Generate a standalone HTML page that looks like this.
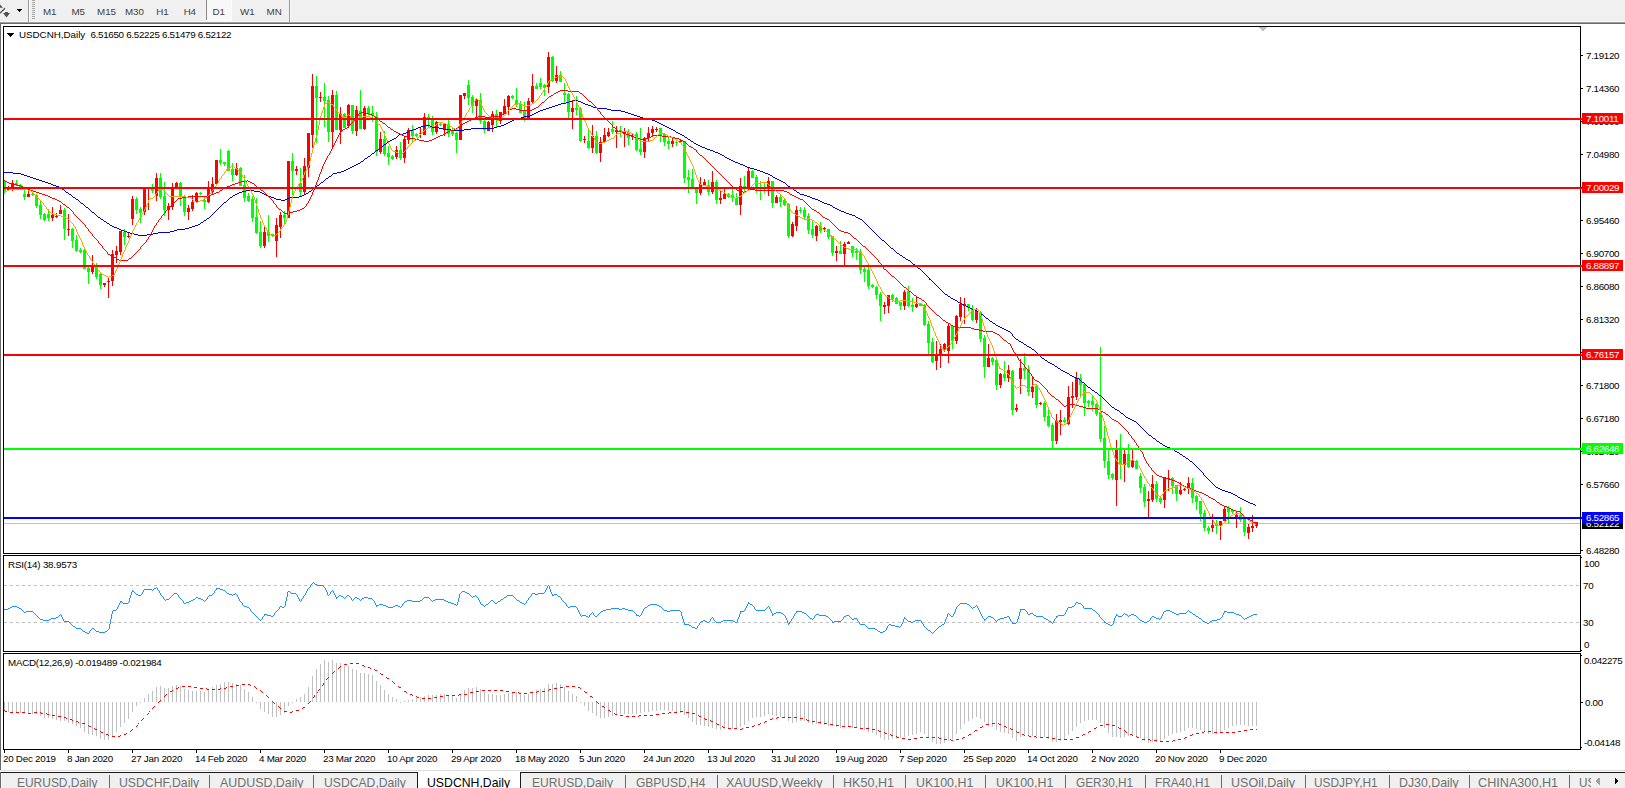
<!DOCTYPE html>
<html><head><meta charset="utf-8"><title>USDCNH,Daily</title>
<style>
html,body{margin:0;padding:0;background:#fff;width:1625px;height:788px;overflow:hidden;}
#root{position:absolute;left:0;top:0;width:1625px;height:788px;overflow:hidden;}
body{width:1625px;height:788px;position:relative;overflow:hidden;font-family:"Liberation Sans",sans-serif;}
.t{position:absolute;white-space:nowrap;font-size:9.8px;line-height:10px;letter-spacing:-0.2px;color:#000;}
.tb{position:absolute;white-space:nowrap;font-size:9.8px;line-height:10px;letter-spacing:-0.1px;color:#404040;top:7px;transform:translateX(-50%);}
.ax{position:absolute;white-space:nowrap;font-size:9.8px;line-height:10px;letter-spacing:-0.32px;color:#000;}
.tag{position:absolute;left:1582px;width:41px;height:11px;}
.tag span{position:absolute;left:4px;top:1px;font-size:9.8px;line-height:10px;letter-spacing:-0.32px;color:#fff;white-space:nowrap;}
.dt{position:absolute;top:754px;white-space:nowrap;font-size:9.8px;line-height:10px;letter-spacing:-0.25px;color:#000;}
.tab{position:absolute;top:776px;white-space:nowrap;font-size:12.6px;line-height:14px;color:#6e6e6e;transform:scaleX(0.93);transform-origin:0 0;}
.sep{position:absolute;top:775px;width:1px;height:13px;background:#6a6a6a;}
svg{position:absolute;left:0;top:0;}
</style></head><body><div id="root">
<div style="position:absolute;left:0;top:0;width:1625px;height:22px;background:#f0f0f0"></div>
<div style="position:absolute;left:0;top:21px;width:1625px;height:1px;background:#f6f6f6"></div>
<div style="position:absolute;left:0;top:22px;width:1625px;height:1px;background:#a0a0a0"></div>
<div style="position:absolute;left:0;top:23px;width:1625px;height:1px;background:#696969"></div>
<div style="position:absolute;left:206px;top:0;width:1px;height:20px;background:#8a8a8a"></div>
<div style="position:absolute;left:207px;top:0;width:24px;height:20px;background:#f8f8f8"></div>
<div style="position:absolute;left:231px;top:0;width:1px;height:21px;background:#fcfcfc"></div>
<div style="position:absolute;left:206px;top:20px;width:26px;height:1px;background:#fcfcfc"></div>
<div style="position:absolute;left:28px;top:0;width:1px;height:22px;background:#9a9a9a"></div>
<div style="position:absolute;left:29px;top:0;width:1px;height:22px;background:#fbfbfb"></div>
<div style="position:absolute;left:289px;top:0;width:1px;height:22px;background:#9a9a9a"></div>
<div style="position:absolute;left:290px;top:0;width:1px;height:22px;background:#fbfbfb"></div>
<div style="position:absolute;left:32px;top:0;width:3px;height:19px;background:repeating-linear-gradient(to bottom,#a8a8a8 0,#a8a8a8 1px,#f0f0f0 1px,#f0f0f0 2px)"></div>
<div class="tb" style="left:49.6px">M1</div>
<div class="tb" style="left:78.1px">M5</div>
<div class="tb" style="left:106.5px">M15</div>
<div class="tb" style="left:134.4px">M30</div>
<div class="tb" style="left:162.4px">H1</div>
<div class="tb" style="left:189.8px">H4</div>
<div class="tb" style="left:218.7px">D1</div>
<div class="tb" style="left:247.3px">W1</div>
<div class="tb" style="left:274.1px">MN</div>
<div style="position:absolute;left:0;top:24px;width:1px;height:746px;background:#696969"></div>
<svg width="1625" height="788" viewBox="0 0 1625 788" shape-rendering="crispEdges">
<path d="M0 4.6 L3 7.8 L0 7.8 Z" fill="#505050" shape-rendering="auto"/>
<path d="M-0.5 13.6 L5 8.2" stroke="#505050" stroke-width="1.3" fill="none" shape-rendering="auto"/>
<path d="M5 12h3v1h2l-3.5 4.4l-3.5-4.4h2z" fill="#505050" shape-rendering="auto"/>
<path d="M17 9h5v1h-1v1h-1v1h-1v-1h-1v-1h-1z" fill="#000"/>
<path d="M7 33h7v1h-1v1h-1v1h-1v1h-1v-1h-1v-1h-1v-1h-1z" fill="#000"/>
<path d="M1258.5 27 L1267.5 27 L1263 32 Z" fill="#c0c0c0"/>
<rect x="4" y="523" width="1576" height="1" fill="#c0c0c0"/>
<path d="M4 585.5H1580" stroke="#c0c0c0" stroke-width="1" stroke-dasharray="3 3" fill="none"/>
<path d="M4 622.5H1580" stroke="#c0c0c0" stroke-width="1" stroke-dasharray="3 3" fill="none"/>
<path d="M4 180h1v13h-1zM16 180h1v6h-1zM20 184h1v6h-1zM24 189h1v11h-1zM32 193h1v3h-1zM36 194h1v14h-1zM40 200h1v19h-1zM44 213h1v8h-1zM48 209h1v12h-1zM64 208h1v32h-1zM72 228h1v20h-1zM76 235h1v17h-1zM80 248h1v5h-1zM84 249h1v20h-1zM88 267h1v17h-1zM96 263h1v16h-1zM100 272h1v17h-1zM124 229h1v16h-1zM136 197h1v17h-1zM140 207h1v16h-1zM152 184h1v9h-1zM160 173h1v26h-1zM164 182h1v34h-1zM180 182h1v24h-1zM184 195h1v21h-1zM200 192h1v3h-1zM204 196h1v13h-1zM220 149h1v16h-1zM224 162h1v4h-1zM228 150h1v21h-1zM232 163h1v18h-1zM240 167h1v19h-1zM244 175h1v27h-1zM248 193h1v9h-1zM252 196h1v26h-1zM256 198h1v36h-1zM260 221h1v27h-1zM268 215h1v27h-1zM272 234h1v2h-1zM284 211h1v14h-1zM292 153h1v42h-1zM300 168h1v28h-1zM316 76h1v67h-1zM324 83h1v44h-1zM328 96h1v46h-1zM336 91h1v39h-1zM344 113h1v15h-1zM352 105h1v29h-1zM360 90h1v39h-1zM368 106h1v9h-1zM372 106h1v16h-1zM376 112h1v44h-1zM384 131h1v25h-1zM388 146h1v19h-1zM392 155h1v5h-1zM400 142h1v18h-1zM412 125h1v17h-1zM416 133h1v4h-1zM428 114h1v13h-1zM432 116h1v19h-1zM440 123h1v3h-1zM448 120h1v17h-1zM452 127h1v9h-1zM456 132h1v21h-1zM468 80h1v25h-1zM472 95h1v18h-1zM480 93h1v31h-1zM484 120h1v13h-1zM496 110h1v17h-1zM512 95h1v4h-1zM516 88h1v19h-1zM520 101h1v12h-1zM524 102h1v19h-1zM536 83h1v6h-1zM540 78h1v11h-1zM544 84h1v12h-1zM552 56h1v26h-1zM560 71h1v11h-1zM564 83h1v20h-1zM568 93h1v25h-1zM576 96h1v19h-1zM580 107h1v35h-1zM588 129h1v20h-1zM596 131h1v23h-1zM612 121h1v13h-1zM620 126h1v11h-1zM628 129h1v16h-1zM636 132h1v19h-1zM640 128h1v27h-1zM660 128h1v14h-1zM664 134h1v12h-1zM668 137h1v12h-1zM676 140h1v6h-1zM684 141h1v42h-1zM688 170h1v23h-1zM692 169h1v20h-1zM696 187h1v17h-1zM708 180h1v15h-1zM716 180h1v24h-1zM728 193h1v5h-1zM732 186h1v16h-1zM736 193h1v12h-1zM744 176h1v17h-1zM752 170h1v8h-1zM756 175h1v18h-1zM760 181h1v19h-1zM764 182h1v11h-1zM772 181h1v27h-1zM780 195h1v12h-1zM784 199h1v7h-1zM788 203h1v35h-1zM800 207h1v6h-1zM804 207h1v12h-1zM808 213h1v21h-1zM812 220h1v18h-1zM820 222h1v11h-1zM828 229h1v10h-1zM832 236h1v20h-1zM840 241h1v13h-1zM852 246h1v11h-1zM856 248h1v12h-1zM860 249h1v25h-1zM864 267h1v15h-1zM868 263h1v26h-1zM872 284h1v4h-1zM876 286h1v13h-1zM880 292h1v29h-1zM892 294h1v8h-1zM896 297h1v7h-1zM900 302h1v8h-1zM908 286h1v21h-1zM912 298h1v14h-1zM920 304h1v2h-1zM924 304h1v22h-1zM928 321h1v33h-1zM932 338h1v25h-1zM952 325h1v24h-1zM968 304h1v7h-1zM972 305h1v16h-1zM980 311h1v31h-1zM984 335h1v43h-1zM992 357h1v8h-1zM996 359h1v31h-1zM1004 361h1v20h-1zM1012 370h1v45h-1zM1024 353h1v26h-1zM1028 365h1v31h-1zM1036 385h1v23h-1zM1044 401h1v20h-1zM1048 410h1v17h-1zM1052 423h1v25h-1zM1064 417h1v6h-1zM1080 374h1v24h-1zM1084 384h1v32h-1zM1088 400h1v7h-1zM1092 396h1v15h-1zM1096 403h1v13h-1zM1100 347h1v95h-1zM1104 426h1v42h-1zM1108 450h1v29h-1zM1112 473h1v7h-1zM1120 434h1v45h-1zM1128 444h1v24h-1zM1136 460h1v9h-1zM1140 473h1v20h-1zM1144 484h1v23h-1zM1156 481h1v21h-1zM1160 496h1v8h-1zM1172 477h1v17h-1zM1176 485h1v16h-1zM1192 478h1v25h-1zM1196 495h1v15h-1zM1200 501h1v20h-1zM1204 510h1v21h-1zM1208 526h1v8h-1zM1216 520h1v14h-1zM1228 506h1v18h-1zM1232 510h1v4h-1zM1240 507h1v15h-1zM1244 517h1v19h-1zM4 181h2v10h-2zM15 183h3v2h-3zM19 185h3v2h-3zM23 194h3v3h-3zM31 194h3v1h-3zM35 195h3v11h-3zM39 205h3v10h-3zM43 214h3v6h-3zM47 214h3v4h-3zM63 210h3v19h-3zM71 229h3v12h-3zM75 240h3v11h-3zM79 250h3v2h-3zM83 250h3v19h-3zM87 268h3v4h-3zM95 267h3v10h-3zM99 274h3v11h-3zM123 232h3v5h-3zM135 199h3v11h-3zM139 209h3v4h-3zM151 188h3v3h-3zM159 178h3v19h-3zM163 196h3v14h-3zM179 183h3v14h-3zM183 198h3v14h-3zM199 193h3v1h-3zM203 200h3v2h-3zM219 160h3v3h-3zM223 162h3v2h-3zM227 151h3v20h-3zM231 169h3v6h-3zM239 168h3v18h-3zM243 185h3v13h-3zM247 196h3v5h-3zM251 199h3v19h-3zM255 217h3v16h-3zM259 232h3v14h-3zM267 232h3v4h-3zM271 234h3v2h-3zM283 215h3v3h-3zM291 161h3v10h-3zM299 183h3v9h-3zM315 86h3v12h-3zM323 97h3v4h-3zM327 100h3v32h-3zM335 95h3v35h-3zM343 114h3v14h-3zM351 105h3v26h-3zM359 111h3v18h-3zM367 108h3v6h-3zM371 113h3v3h-3zM375 116h3v36h-3zM383 139h3v15h-3zM387 153h3v4h-3zM391 156h3v3h-3zM399 150h3v8h-3zM411 130h3v6h-3zM415 134h3v2h-3zM427 117h3v1h-3zM431 120h3v12h-3zM439 124h3v1h-3zM447 124h3v10h-3zM451 130h3v4h-3zM455 133h3v7h-3zM467 85h3v13h-3zM471 97h3v9h-3zM479 100h3v21h-3zM483 121h3v9h-3zM495 114h3v6h-3zM511 96h3v2h-3zM515 100h3v5h-3zM519 104h3v9h-3zM523 110h3v8h-3zM535 86h3v3h-3zM539 83h3v4h-3zM543 85h3v3h-3zM551 57h3v24h-3zM559 75h3v7h-3zM563 93h3v2h-3zM567 94h3v18h-3zM575 108h3v2h-3zM579 109h3v32h-3zM587 141h3v7h-3zM595 136h3v17h-3zM611 129h3v3h-3zM619 130h3v2h-3zM627 132h3v6h-3zM635 134h3v16h-3zM639 149h3v3h-3zM659 128h3v7h-3zM663 134h3v8h-3zM667 141h3v3h-3zM675 142h3v1h-3zM683 141h3v37h-3zM687 177h3v3h-3zM691 179h3v9h-3zM695 189h3v4h-3zM707 185h3v7h-3zM715 182h3v18h-3zM727 194h3v3h-3zM731 195h3v3h-3zM735 198h3v7h-3zM743 186h3v2h-3zM751 171h3v7h-3zM755 177h3v12h-3zM759 187h3v2h-3zM763 187h3v2h-3zM771 181h3v22h-3zM779 197h3v5h-3zM783 200h3v5h-3zM787 204h3v32h-3zM799 210h3v1h-3zM803 210h3v7h-3zM807 216h3v14h-3zM811 229h3v6h-3zM819 226h3v5h-3zM827 229h3v8h-3zM831 236h3v17h-3zM839 251h3v3h-3zM851 246h3v7h-3zM855 251h3v2h-3zM859 252h3v18h-3zM863 269h3v3h-3zM867 270h3v16h-3zM871 285h3v2h-3zM875 287h3v8h-3zM879 294h3v12h-3zM891 295h3v4h-3zM895 298h3v6h-3zM899 302h3v4h-3zM907 291h3v15h-3zM911 305h3v2h-3zM919 304h3v2h-3zM923 305h3v20h-3zM927 324h3v19h-3zM931 342h3v20h-3zM951 326h3v15h-3zM967 304h3v4h-3zM971 309h3v11h-3zM979 312h3v27h-3zM983 338h3v29h-3zM991 358h3v4h-3zM995 360h3v25h-3zM1003 374h3v4h-3zM1011 371h3v39h-3zM1023 368h3v3h-3zM1027 369h3v23h-3zM1035 386h3v19h-3zM1043 403h3v14h-3zM1047 416h3v10h-3zM1051 425h3v16h-3zM1063 420h3v2h-3zM1079 378h3v7h-3zM1083 384h3v19h-3zM1087 401h3v2h-3zM1091 401h3v4h-3zM1095 404h3v10h-3zM1099 412h3v27h-3zM1103 438h3v23h-3zM1107 461h3v14h-3zM1111 474h3v4h-3zM1119 450h3v15h-3zM1127 454h3v13h-3zM1135 461h3v8h-3zM1139 476h3v12h-3zM1143 487h3v15h-3zM1155 484h3v15h-3zM1159 498h3v4h-3zM1171 478h3v8h-3zM1175 485h3v9h-3zM1191 483h3v15h-3zM1195 496h3v6h-3zM1199 501h3v13h-3zM1203 513h3v15h-3zM1207 528h3v3h-3zM1215 524h3v2h-3zM1227 508h3v4h-3zM1231 510h3v2h-3zM1239 515h3v5h-3zM1243 519h3v13h-3z" fill="#00ff00"/>
<path d="M8 186h1v5h-1zM12 180h1v11h-1zM28 190h1v7h-1zM52 207h1v14h-1zM56 213h1v5h-1zM60 205h1v9h-1zM68 214h1v22h-1zM92 255h1v19h-1zM104 283h1v4h-1zM108 277h1v21h-1zM112 250h1v36h-1zM116 246h1v17h-1zM120 231h1v24h-1zM128 232h1v6h-1zM132 196h1v29h-1zM144 187h1v28h-1zM148 187h1v23h-1zM156 173h1v28h-1zM168 203h1v17h-1zM172 183h1v27h-1zM176 182h1v7h-1zM188 205h1v15h-1zM192 195h1v16h-1zM196 192h1v11h-1zM208 181h1v22h-1zM212 177h1v18h-1zM216 160h1v24h-1zM236 163h1v13h-1zM264 227h1v21h-1zM276 218h1v39h-1zM280 212h1v26h-1zM288 161h1v57h-1zM296 166h1v9h-1zM304 158h1v37h-1zM308 133h1v44h-1zM312 74h1v74h-1zM320 92h1v10h-1zM332 90h1v58h-1zM340 107h1v37h-1zM348 104h1v24h-1zM356 106h1v30h-1zM364 106h1v24h-1zM380 132h1v22h-1zM396 146h1v13h-1zM404 136h1v27h-1zM408 128h1v16h-1zM420 128h1v10h-1zM424 113h1v22h-1zM436 121h1v13h-1zM444 123h1v13h-1zM460 95h1v45h-1zM464 93h1v6h-1zM476 98h1v19h-1zM488 121h1v10h-1zM492 111h1v21h-1zM500 112h1v12h-1zM504 99h1v15h-1zM508 95h1v20h-1zM528 98h1v20h-1zM532 74h1v29h-1zM548 52h1v41h-1zM556 66h1v17h-1zM572 100h1v29h-1zM584 136h1v7h-1zM592 125h1v28h-1zM600 137h1v25h-1zM604 128h1v14h-1zM608 128h1v9h-1zM616 126h1v22h-1zM624 128h1v19h-1zM632 134h1v6h-1zM644 137h1v21h-1zM648 127h1v14h-1zM652 126h1v11h-1zM656 127h1v5h-1zM672 138h1v9h-1zM680 140h1v3h-1zM700 177h1v18h-1zM704 179h1v7h-1zM712 171h1v23h-1zM720 190h1v14h-1zM724 189h1v10h-1zM740 178h1v37h-1zM748 168h1v22h-1zM768 177h1v19h-1zM776 195h1v8h-1zM792 222h1v15h-1zM796 206h1v25h-1zM816 225h1v16h-1zM824 227h1v5h-1zM836 246h1v15h-1zM844 242h1v23h-1zM848 241h1v3h-1zM884 302h1v12h-1zM888 295h1v18h-1zM904 290h1v20h-1zM916 297h1v11h-1zM936 341h1v29h-1zM940 344h1v24h-1zM944 343h1v9h-1zM948 323h1v40h-1zM956 315h1v29h-1zM960 297h1v24h-1zM964 298h1v26h-1zM976 308h1v15h-1zM988 344h1v23h-1zM1000 373h1v15h-1zM1008 365h1v17h-1zM1016 404h1v8h-1zM1020 359h1v35h-1zM1032 377h1v21h-1zM1040 402h1v3h-1zM1056 414h1v30h-1zM1060 410h1v25h-1zM1068 386h1v39h-1zM1072 382h1v26h-1zM1076 372h1v28h-1zM1116 440h1v66h-1zM1124 450h1v32h-1zM1132 450h1v18h-1zM1148 491h1v26h-1zM1152 475h1v27h-1zM1164 478h1v30h-1zM1168 470h1v21h-1zM1180 482h1v13h-1zM1184 488h1v3h-1zM1188 477h1v17h-1zM1212 514h1v18h-1zM1220 521h1v19h-1zM1224 507h1v14h-1zM1236 512h1v16h-1zM1248 524h1v15h-1zM1252 515h1v17h-1zM1256 522h1v6h-1zM7 188h3v2h-3zM11 183h3v7h-3zM27 194h3v3h-3zM51 215h3v3h-3zM55 216h3v1h-3zM59 210h3v4h-3zM67 229h3v1h-3zM91 265h3v7h-3zM103 283h3v2h-3zM107 281h3v1h-3zM111 254h3v27h-3zM115 251h3v4h-3zM119 231h3v21h-3zM127 236h3v1h-3zM131 199h3v20h-3zM143 187h3v25h-3zM147 187h3v1h-3zM155 178h3v18h-3zM167 206h3v4h-3zM171 189h3v18h-3zM175 183h3v5h-3zM187 208h3v4h-3zM191 202h3v7h-3zM195 193h3v9h-3zM207 189h3v13h-3zM211 184h3v8h-3zM215 160h3v24h-3zM235 168h3v7h-3zM263 232h3v14h-3zM275 225h3v16h-3zM279 215h3v12h-3zM287 161h3v57h-3zM295 169h3v2h-3zM303 166h3v26h-3zM307 133h3v35h-3zM311 86h3v49h-3zM319 97h3v1h-3zM331 95h3v37h-3zM339 114h3v16h-3zM347 105h3v21h-3zM355 110h3v21h-3zM363 108h3v21h-3zM379 139h3v13h-3zM395 150h3v7h-3zM403 139h3v19h-3zM407 130h3v10h-3zM419 133h3v1h-3zM423 117h3v18h-3zM435 122h3v10h-3zM443 124h3v6h-3zM459 95h3v45h-3zM463 93h3v3h-3zM475 100h3v6h-3zM487 122h3v9h-3zM491 114h3v11h-3zM499 112h3v9h-3zM503 106h3v8h-3zM507 96h3v11h-3zM527 101h3v17h-3zM531 86h3v16h-3zM547 57h3v30h-3zM555 75h3v6h-3zM571 108h3v4h-3zM583 139h3v1h-3zM591 136h3v12h-3zM599 142h3v11h-3zM603 135h3v7h-3zM607 132h3v4h-3zM615 130h3v2h-3zM623 132h3v2h-3zM631 136h3v1h-3zM643 138h3v14h-3zM647 133h3v5h-3zM651 129h3v4h-3zM655 129h3v1h-3zM671 141h3v3h-3zM679 141h3v1h-3zM699 184h3v9h-3zM703 182h3v3h-3zM711 182h3v10h-3zM719 198h3v2h-3zM723 194h3v5h-3zM739 186h3v19h-3zM747 171h3v16h-3zM767 181h3v6h-3zM775 197h3v6h-3zM791 224h3v12h-3zM795 210h3v16h-3zM815 226h3v10h-3zM823 228h3v1h-3zM835 251h3v2h-3zM843 244h3v10h-3zM847 242h3v2h-3zM883 305h3v2h-3zM887 295h3v11h-3zM903 292h3v14h-3zM915 304h3v3h-3zM935 356h3v5h-3zM939 349h3v7h-3zM943 344h3v6h-3zM947 326h3v25h-3zM955 316h3v25h-3zM959 304h3v13h-3zM963 304h3v2h-3zM975 311h3v9h-3zM987 358h3v9h-3zM999 374h3v11h-3zM1007 370h3v8h-3zM1015 408h3v2h-3zM1019 368h3v11h-3zM1031 387h3v5h-3zM1039 403h3v1h-3zM1055 421h3v20h-3zM1059 420h3v2h-3zM1067 397h3v27h-3zM1071 396h3v2h-3zM1075 378h3v19h-3zM1115 450h3v30h-3zM1123 454h3v11h-3zM1131 460h3v7h-3zM1147 499h3v2h-3zM1151 484h3v16h-3zM1163 478h3v22h-3zM1167 478h3v1h-3zM1179 490h3v4h-3zM1183 489h3v1h-3zM1187 483h3v5h-3zM1211 525h3v3h-3zM1219 521h3v4h-3zM1223 509h3v12h-3zM1235 515h3v2h-3zM1247 527h3v6h-3zM1251 526h3v2h-3zM1255 522h3v4h-3z" fill="#ff0000"/>
<path d="M4 172h1v1h-1zM5 172h1v1h-1zM6 172h1v1h-1zM7 172h1v1h-1zM8 172h1v1h-1zM9 172h1v1h-1zM10 172h1v1h-1zM11 172h1v1h-1zM12 172h1v1h-1zM13 173h1v1h-1zM14 173h1v1h-1zM15 173h1v1h-1zM16 173h1v1h-1zM17 173h1v1h-1zM18 173h1v1h-1zM19 173h1v1h-1zM20 173h1v1h-1zM21 174h1v1h-1zM22 174h1v1h-1zM23 174h1v1h-1zM24 175h1v1h-1zM25 175h1v1h-1zM26 175h1v1h-1zM27 176h1v1h-1zM28 176h1v1h-1zM29 176h1v1h-1zM30 177h1v1h-1zM31 177h1v1h-1zM32 177h1v1h-1zM33 178h1v1h-1zM34 178h1v1h-1zM35 178h1v1h-1zM36 179h1v1h-1zM37 179h1v1h-1zM38 179h1v1h-1zM39 180h1v1h-1zM40 180h1v1h-1zM41 180h1v1h-1zM42 181h1v1h-1zM43 181h1v1h-1zM44 181h1v1h-1zM45 182h1v1h-1zM46 182h1v1h-1zM47 182h1v1h-1zM48 183h1v1h-1zM49 183h1v1h-1zM50 183h1v1h-1zM51 184h1v1h-1zM52 184h1v1h-1zM53 185h1v1h-1zM54 185h1v1h-1zM55 185h1v1h-1zM56 186h1v1h-1zM57 186h1v1h-1zM58 186h1v1h-1zM59 187h1v1h-1zM60 187h1v1h-1zM61 188h1v1h-1zM62 189h1v1h-1zM63 189h1v1h-1zM64 190h1v1h-1zM65 191h1v1h-1zM66 192h1v1h-1zM67 192h1v1h-1zM68 193h1v1h-1zM69 194h1v1h-1zM70 194h1v1h-1zM71 195h1v1h-1zM72 196h1v1h-1zM73 197h1v1h-1zM74 197h1v1h-1zM75 198h1v1h-1zM76 199h1v1h-1zM77 199h1v1h-1zM78 200h1v1h-1zM79 201h1v1h-1zM80 202h1v1h-1zM81 203h1v1h-1zM82 203h1v1h-1zM83 204h1v1h-1zM84 205h1v1h-1zM85 206h1v1h-1zM86 207h1v1h-1zM87 207h1v1h-1zM88 208h1v1h-1zM89 209h1v1h-1zM90 210h1v1h-1zM91 211h1v1h-1zM92 212h1v1h-1zM93 212h1v1h-1zM94 213h1v1h-1zM95 214h1v1h-1zM96 215h1v1h-1zM97 216h1v1h-1zM98 217h1v1h-1zM99 217h1v1h-1zM100 218h1v1h-1zM101 219h1v1h-1zM102 219h1v1h-1zM103 220h1v1h-1zM104 221h1v1h-1zM105 221h1v1h-1zM106 222h1v1h-1zM107 223h1v1h-1zM108 223h1v1h-1zM109 224h1v1h-1zM110 225h1v1h-1zM111 225h1v1h-1zM112 226h1v1h-1zM113 226h1v1h-1zM114 227h1v1h-1zM115 227h1v1h-1zM116 227h1v1h-1zM117 228h1v1h-1zM118 228h1v1h-1zM119 229h1v1h-1zM120 229h1v1h-1zM121 230h1v1h-1zM122 230h1v1h-1zM123 230h1v1h-1zM124 231h1v1h-1zM125 231h1v1h-1zM126 231h1v1h-1zM127 232h1v1h-1zM128 232h1v1h-1zM129 232h1v1h-1zM130 233h1v1h-1zM131 233h1v1h-1zM132 233h1v1h-1zM133 233h1v1h-1zM134 234h1v1h-1zM135 234h1v1h-1zM136 234h1v1h-1zM137 234h1v1h-1zM138 235h1v1h-1zM139 235h1v1h-1zM140 235h1v1h-1zM141 235h1v1h-1zM142 235h1v1h-1zM143 235h1v1h-1zM144 235h1v1h-1zM145 235h1v1h-1zM146 235h1v1h-1zM147 234h1v1h-1zM148 234h1v1h-1zM149 234h1v1h-1zM150 234h1v1h-1zM151 234h1v1h-1zM152 234h1v1h-1zM153 233h1v1h-1zM154 233h1v1h-1zM155 233h1v1h-1zM156 233h1v1h-1zM157 233h1v1h-1zM158 232h1v1h-1zM159 232h1v1h-1zM160 232h1v1h-1zM161 232h1v1h-1zM162 232h1v1h-1zM163 232h1v1h-1zM164 232h1v1h-1zM165 232h1v1h-1zM166 232h1v1h-1zM167 232h1v1h-1zM168 232h1v1h-1zM169 232h1v1h-1zM170 231h1v1h-1zM171 231h1v1h-1zM172 231h1v1h-1zM173 231h1v1h-1zM174 230h1v1h-1zM175 230h1v1h-1zM176 230h1v1h-1zM177 229h1v1h-1zM178 229h1v1h-1zM179 229h1v1h-1zM180 229h1v1h-1zM181 229h1v1h-1zM182 229h1v1h-1zM183 229h1v1h-1zM184 229h1v1h-1zM185 228h1v1h-1zM186 228h1v1h-1zM187 228h1v1h-1zM188 228h1v1h-1zM189 227h1v1h-1zM190 227h1v1h-1zM191 227h1v1h-1zM192 226h1v1h-1zM193 226h1v1h-1zM194 226h1v1h-1zM195 225h1v1h-1zM196 225h1v1h-1zM197 225h1v1h-1zM198 224h1v1h-1zM199 224h1v1h-1zM200 223h1v1h-1zM201 222h1v1h-1zM202 222h1v1h-1zM203 221h1v1h-1zM204 220h1v1h-1zM205 220h1v1h-1zM206 219h1v1h-1zM207 218h1v1h-1zM208 218h1v1h-1zM209 217h1v1h-1zM210 216h1v1h-1zM211 215h1v1h-1zM212 214h1v1h-1zM213 213h1v1h-1zM214 212h1v1h-1zM215 211h1v1h-1zM216 210h1v1h-1zM217 209h1v1h-1zM218 208h1v1h-1zM219 207h1v1h-1zM220 206h1v1h-1zM221 205h1v1h-1zM222 204h1v1h-1zM223 203h1v1h-1zM224 202h1v1h-1zM225 202h1v1h-1zM226 201h1v1h-1zM227 200h1v1h-1zM228 199h1v1h-1zM229 198h1v1h-1zM230 197h1v1h-1zM231 197h1v1h-1zM232 196h1v1h-1zM233 195h1v1h-1zM234 195h1v1h-1zM235 194h1v1h-1zM236 194h1v1h-1zM237 193h1v1h-1zM238 193h1v1h-1zM239 192h1v1h-1zM240 192h1v1h-1zM241 192h1v1h-1zM242 191h1v1h-1zM243 191h1v1h-1zM244 191h1v1h-1zM245 191h1v1h-1zM246 190h1v1h-1zM247 190h1v1h-1zM248 190h1v1h-1zM249 190h1v1h-1zM250 190h1v1h-1zM251 190h1v1h-1zM252 190h1v1h-1zM253 190h1v1h-1zM254 191h1v1h-1zM255 191h1v1h-1zM256 191h1v1h-1zM257 191h1v1h-1zM258 191h1v1h-1zM259 191h1v1h-1zM260 192h1v1h-1zM261 192h1v1h-1zM262 193h1v1h-1zM263 193h1v1h-1zM264 194h1v1h-1zM265 194h1v1h-1zM266 195h1v1h-1zM267 195h1v1h-1zM268 196h1v1h-1zM269 196h1v1h-1zM270 196h1v1h-1zM271 197h1v1h-1zM272 197h1v1h-1zM273 197h1v1h-1zM274 198h1v1h-1zM275 198h1v1h-1zM276 199h1v1h-1zM277 199h1v1h-1zM278 199h1v1h-1zM279 199h1v1h-1zM280 199h1v1h-1zM281 200h1v1h-1zM282 200h1v1h-1zM283 200h1v1h-1zM284 200h1v1h-1zM285 199h1v1h-1zM286 199h1v1h-1zM287 198h1v1h-1zM288 198h1v1h-1zM289 198h1v1h-1zM290 197h1v1h-1zM291 197h1v1h-1zM292 197h1v1h-1zM293 197h1v1h-1zM294 197h1v1h-1zM295 197h1v1h-1zM296 197h1v1h-1zM297 197h1v1h-1zM298 197h1v1h-1zM299 196h1v1h-1zM300 196h1v1h-1zM301 196h1v1h-1zM302 195h1v1h-1zM303 195h1v1h-1zM304 194h1v1h-1zM305 194h1v1h-1zM306 193h1v1h-1zM307 193h1v1h-1zM308 192h1v1h-1zM309 191h1v1h-1zM310 191h1v1h-1zM311 190h1v1h-1zM312 189h1v1h-1zM313 188h1v1h-1zM314 188h1v1h-1zM315 187h1v1h-1zM316 186h1v1h-1zM317 185h1v1h-1zM318 185h1v1h-1zM319 184h1v1h-1zM320 183h1v1h-1zM321 182h1v1h-1zM322 182h1v1h-1zM323 181h1v1h-1zM324 180h1v1h-1zM325 179h1v1h-1zM326 178h1v1h-1zM327 178h1v1h-1zM328 177h1v1h-1zM329 176h1v1h-1zM330 176h1v1h-1zM331 175h1v1h-1zM332 174h1v1h-1zM333 173h1v1h-1zM334 173h1v1h-1zM335 173h1v1h-1zM336 173h1v1h-1zM337 172h1v1h-1zM338 172h1v1h-1zM339 172h1v1h-1zM340 172h1v1h-1zM341 171h1v1h-1zM342 171h1v1h-1zM343 171h1v1h-1zM344 170h1v1h-1zM345 170h1v1h-1zM346 169h1v1h-1zM347 169h1v1h-1zM348 168h1v1h-1zM349 168h1v1h-1zM350 167h1v1h-1zM351 167h1v1h-1zM352 166h1v1h-1zM353 166h1v1h-1zM354 165h1v1h-1zM355 165h1v1h-1zM356 164h1v1h-1zM357 164h1v1h-1zM358 163h1v1h-1zM359 163h1v1h-1zM360 162h1v1h-1zM361 161h1v1h-1zM362 161h1v1h-1zM363 160h1v1h-1zM364 159h1v1h-1zM365 158h1v1h-1zM366 158h1v1h-1zM367 157h1v1h-1zM368 156h1v1h-1zM369 156h1v1h-1zM370 155h1v1h-1zM371 154h1v1h-1zM372 153h1v1h-1zM373 153h1v1h-1zM374 152h1v1h-1zM375 151h1v1h-1zM376 150h1v1h-1zM377 150h1v1h-1zM378 149h1v1h-1zM379 148h1v1h-1zM380 147h1v1h-1zM381 147h1v1h-1zM382 146h1v1h-1zM383 145h1v1h-1zM384 144h1v1h-1zM385 144h1v1h-1zM386 143h1v1h-1zM387 142h1v1h-1zM388 141h1v1h-1zM389 141h1v1h-1zM390 140h1v1h-1zM391 140h1v1h-1zM392 139h1v1h-1zM393 139h1v1h-1zM394 138h1v1h-1zM395 138h1v1h-1zM396 137h1v1h-1zM397 136h1v1h-1zM398 135h1v1h-1zM399 134h1v1h-1zM400 134h1v1h-1zM401 134h1v1h-1zM402 134h1v1h-1zM403 133h1v1h-1zM404 133h1v1h-1zM405 133h1v1h-1zM406 132h1v1h-1zM407 132h1v1h-1zM408 131h1v1h-1zM409 131h1v1h-1zM410 130h1v1h-1zM411 130h1v1h-1zM412 130h1v1h-1zM413 129h1v1h-1zM414 129h1v1h-1zM415 129h1v1h-1zM416 128h1v1h-1zM417 128h1v1h-1zM418 127h1v1h-1zM419 127h1v1h-1zM420 127h1v1h-1zM421 126h1v1h-1zM422 126h1v1h-1zM423 126h1v1h-1zM424 126h1v1h-1zM425 125h1v1h-1zM426 125h1v1h-1zM427 125h1v1h-1zM428 125h1v1h-1zM429 125h1v1h-1zM430 126h1v1h-1zM431 126h1v1h-1zM432 127h1v1h-1zM433 127h1v1h-1zM434 127h1v1h-1zM435 127h1v1h-1zM436 127h1v1h-1zM437 127h1v1h-1zM438 127h1v1h-1zM439 128h1v1h-1zM440 128h1v1h-1zM441 128h1v1h-1zM442 128h1v1h-1zM443 129h1v1h-1zM444 129h1v1h-1zM445 129h1v1h-1zM446 129h1v1h-1zM447 129h1v1h-1zM448 129h1v1h-1zM449 129h1v1h-1zM450 129h1v1h-1zM451 130h1v1h-1zM452 130h1v1h-1zM453 130h1v1h-1zM454 130h1v1h-1zM455 130h1v1h-1zM456 130h1v1h-1zM457 130h1v1h-1zM458 130h1v1h-1zM459 130h1v1h-1zM460 130h1v1h-1zM461 130h1v1h-1zM462 130h1v1h-1zM463 130h1v1h-1zM464 129h1v1h-1zM465 129h1v1h-1zM466 129h1v1h-1zM467 129h1v1h-1zM468 129h1v1h-1zM469 129h1v1h-1zM470 129h1v1h-1zM471 128h1v1h-1zM472 128h1v1h-1zM473 128h1v1h-1zM474 128h1v1h-1zM475 128h1v1h-1zM476 128h1v1h-1zM477 128h1v1h-1zM478 128h1v1h-1zM479 128h1v1h-1zM480 128h1v1h-1zM481 128h1v1h-1zM482 128h1v1h-1zM483 128h1v1h-1zM484 128h1v1h-1zM485 128h1v1h-1zM486 128h1v1h-1zM487 128h1v1h-1zM488 128h1v1h-1zM489 128h1v1h-1zM490 128h1v1h-1zM491 128h1v1h-1zM492 128h1v1h-1zM493 128h1v1h-1zM494 127h1v1h-1zM495 127h1v1h-1zM496 127h1v1h-1zM497 126h1v1h-1zM498 126h1v1h-1zM499 126h1v1h-1zM500 126h1v1h-1zM501 125h1v1h-1zM502 125h1v1h-1zM503 125h1v1h-1zM504 124h1v1h-1zM505 124h1v1h-1zM506 123h1v1h-1zM507 123h1v1h-1zM508 122h1v1h-1zM509 122h1v1h-1zM510 121h1v1h-1zM511 121h1v1h-1zM512 120h1v1h-1zM513 120h1v1h-1zM514 119h1v1h-1zM515 119h1v1h-1zM516 119h1v1h-1zM517 119h1v1h-1zM518 118h1v1h-1zM519 118h1v1h-1zM520 118h1v1h-1zM521 117h1v1h-1zM522 117h1v1h-1zM523 117h1v1h-1zM524 116h1v1h-1zM525 116h1v1h-1zM526 116h1v1h-1zM527 116h1v1h-1zM528 116h1v1h-1zM529 116h1v1h-1zM530 115h1v1h-1zM531 115h1v1h-1zM532 114h1v1h-1zM533 114h1v1h-1zM534 113h1v1h-1zM535 113h1v1h-1zM536 112h1v1h-1zM537 112h1v1h-1zM538 111h1v1h-1zM539 111h1v1h-1zM540 110h1v1h-1zM541 110h1v1h-1zM542 110h1v1h-1zM543 109h1v1h-1zM544 109h1v1h-1zM545 109h1v1h-1zM546 108h1v1h-1zM547 108h1v1h-1zM548 108h1v1h-1zM549 107h1v1h-1zM550 107h1v1h-1zM551 107h1v1h-1zM552 106h1v1h-1zM553 106h1v1h-1zM554 106h1v1h-1zM555 105h1v1h-1zM556 105h1v1h-1zM557 105h1v1h-1zM558 104h1v1h-1zM559 104h1v1h-1zM560 104h1v1h-1zM561 103h1v1h-1zM562 103h1v1h-1zM563 103h1v1h-1zM564 103h1v1h-1zM565 103h1v1h-1zM566 102h1v1h-1zM567 102h1v1h-1zM568 102h1v1h-1zM569 101h1v1h-1zM570 101h1v1h-1zM571 101h1v1h-1zM572 101h1v1h-1zM573 100h1v1h-1zM574 100h1v1h-1zM575 100h1v1h-1zM576 100h1v1h-1zM577 100h1v1h-1zM578 101h1v1h-1zM579 101h1v1h-1zM580 101h1v1h-1zM581 102h1v1h-1zM582 102h1v1h-1zM583 103h1v1h-1zM584 103h1v1h-1zM585 104h1v1h-1zM586 104h1v1h-1zM587 104h1v1h-1zM588 105h1v1h-1zM589 105h1v1h-1zM590 105h1v1h-1zM591 106h1v1h-1zM592 106h1v1h-1zM593 107h1v1h-1zM594 107h1v1h-1zM595 107h1v1h-1zM596 107h1v1h-1zM597 108h1v1h-1zM598 108h1v1h-1zM599 108h1v1h-1zM600 108h1v1h-1zM601 108h1v1h-1zM602 108h1v1h-1zM603 108h1v1h-1zM604 108h1v1h-1zM605 108h1v1h-1zM606 108h1v1h-1zM607 109h1v1h-1zM608 109h1v1h-1zM609 109h1v1h-1zM610 109h1v1h-1zM611 110h1v1h-1zM612 110h1v1h-1zM613 110h1v1h-1zM614 110h1v1h-1zM615 110h1v1h-1zM616 110h1v1h-1zM617 110h1v1h-1zM618 110h1v1h-1zM619 110h1v1h-1zM620 110h1v1h-1zM621 111h1v1h-1zM622 111h1v1h-1zM623 111h1v1h-1zM624 111h1v1h-1zM625 112h1v1h-1zM626 112h1v1h-1zM627 112h1v1h-1zM628 113h1v1h-1zM629 113h1v1h-1zM630 113h1v1h-1zM631 114h1v1h-1zM632 114h1v1h-1zM633 114h1v1h-1zM634 115h1v1h-1zM635 115h1v1h-1zM636 115h1v1h-1zM637 116h1v1h-1zM638 116h1v1h-1zM639 116h1v1h-1zM640 117h1v1h-1zM641 117h1v1h-1zM642 117h1v1h-1zM643 118h1v1h-1zM644 118h1v1h-1zM645 118h1v1h-1zM646 118h1v1h-1zM647 118h1v1h-1zM648 119h1v1h-1zM649 119h1v1h-1zM650 119h1v1h-1zM651 119h1v1h-1zM652 120h1v1h-1zM653 120h1v1h-1zM654 120h1v1h-1zM655 121h1v1h-1zM656 121h1v1h-1zM657 122h1v1h-1zM658 122h1v1h-1zM659 123h1v1h-1zM660 123h1v1h-1zM661 124h1v1h-1zM662 124h1v1h-1zM663 125h1v1h-1zM664 125h1v1h-1zM665 126h1v1h-1zM666 126h1v1h-1zM667 127h1v1h-1zM668 127h1v1h-1zM669 128h1v1h-1zM670 128h1v1h-1zM671 129h1v1h-1zM672 129h1v1h-1zM673 130h1v1h-1zM674 130h1v1h-1zM675 131h1v1h-1zM676 132h1v1h-1zM677 132h1v1h-1zM678 133h1v1h-1zM679 133h1v1h-1zM680 134h1v1h-1zM681 134h1v1h-1zM682 135h1v1h-1zM683 135h1v1h-1zM684 136h1v1h-1zM685 137h1v1h-1zM686 137h1v1h-1zM687 138h1v1h-1zM688 139h1v1h-1zM689 139h1v1h-1zM690 140h1v1h-1zM691 141h1v1h-1zM692 141h1v1h-1zM693 142h1v1h-1zM694 143h1v1h-1zM695 143h1v1h-1zM696 144h1v1h-1zM697 144h1v1h-1zM698 145h1v1h-1zM699 145h1v1h-1zM700 146h1v1h-1zM701 146h1v1h-1zM702 147h1v1h-1zM703 147h1v1h-1zM704 147h1v1h-1zM705 148h1v1h-1zM706 148h1v1h-1zM707 149h1v1h-1zM708 149h1v1h-1zM709 149h1v1h-1zM710 150h1v1h-1zM711 150h1v1h-1zM712 150h1v1h-1zM713 151h1v1h-1zM714 151h1v1h-1zM715 152h1v1h-1zM716 152h1v1h-1zM717 152h1v1h-1zM718 153h1v1h-1zM719 153h1v1h-1zM720 154h1v1h-1zM721 154h1v1h-1zM722 155h1v1h-1zM723 155h1v1h-1zM724 156h1v1h-1zM725 157h1v1h-1zM726 157h1v1h-1zM727 158h1v1h-1zM728 158h1v1h-1zM729 159h1v1h-1zM730 159h1v1h-1zM731 160h1v1h-1zM732 160h1v1h-1zM733 161h1v1h-1zM734 161h1v1h-1zM735 162h1v1h-1zM736 162h1v1h-1zM737 162h1v1h-1zM738 163h1v1h-1zM739 163h1v1h-1zM740 164h1v1h-1zM741 164h1v1h-1zM742 164h1v1h-1zM743 165h1v1h-1zM744 165h1v1h-1zM745 166h1v1h-1zM746 166h1v1h-1zM747 167h1v1h-1zM748 167h1v1h-1zM749 167h1v1h-1zM750 168h1v1h-1zM751 168h1v1h-1zM752 168h1v1h-1zM753 168h1v1h-1zM754 169h1v1h-1zM755 169h1v1h-1zM756 169h1v1h-1zM757 170h1v1h-1zM758 170h1v1h-1zM759 170h1v1h-1zM760 171h1v1h-1zM761 171h1v1h-1zM762 171h1v1h-1zM763 172h1v1h-1zM764 172h1v1h-1zM765 173h1v1h-1zM766 173h1v1h-1zM767 173h1v1h-1zM768 174h1v1h-1zM769 174h1v1h-1zM770 175h1v1h-1zM771 175h1v1h-1zM772 176h1v1h-1zM773 177h1v1h-1zM774 177h1v1h-1zM775 178h1v1h-1zM776 178h1v1h-1zM777 179h1v1h-1zM778 179h1v1h-1zM779 180h1v1h-1zM780 180h1v1h-1zM781 181h1v1h-1zM782 181h1v1h-1zM783 182h1v1h-1zM784 182h1v1h-1zM785 183h1v1h-1zM786 184h1v1h-1zM787 185h1v1h-1zM788 186h1v1h-1zM789 186h1v1h-1zM790 187h1v1h-1zM791 188h1v1h-1zM792 188h1v1h-1zM793 189h1v1h-1zM794 190h1v1h-1zM795 190h1v1h-1zM796 191h1v1h-1zM797 192h1v1h-1zM798 192h1v1h-1zM799 193h1v1h-1zM800 194h1v1h-1zM801 194h1v1h-1zM802 194h1v1h-1zM803 194h1v1h-1zM804 195h1v1h-1zM805 195h1v1h-1zM806 195h1v1h-1zM807 196h1v1h-1zM808 196h1v1h-1zM809 196h1v1h-1zM810 197h1v1h-1zM811 197h1v1h-1zM812 198h1v1h-1zM813 198h1v1h-1zM814 198h1v1h-1zM815 199h1v1h-1zM816 199h1v1h-1zM817 199h1v1h-1zM818 200h1v1h-1zM819 200h1v1h-1zM820 201h1v1h-1zM821 201h1v1h-1zM822 202h1v1h-1zM823 202h1v1h-1zM824 203h1v1h-1zM825 203h1v1h-1zM826 203h1v1h-1zM827 204h1v1h-1zM828 204h1v1h-1zM829 204h1v1h-1zM830 205h1v1h-1zM831 205h1v1h-1zM832 206h1v1h-1zM833 207h1v1h-1zM834 207h1v1h-1zM835 208h1v1h-1zM836 208h1v1h-1zM837 209h1v1h-1zM838 209h1v1h-1zM839 210h1v1h-1zM840 210h1v1h-1zM841 211h1v1h-1zM842 211h1v1h-1zM843 211h1v1h-1zM844 212h1v1h-1zM845 212h1v1h-1zM846 213h1v1h-1zM847 213h1v1h-1zM848 213h1v1h-1zM849 214h1v1h-1zM850 214h1v1h-1zM851 214h1v1h-1zM852 215h1v1h-1zM853 215h1v1h-1zM854 215h1v1h-1zM855 216h1v1h-1zM856 217h1v1h-1zM857 217h1v1h-1zM858 218h1v1h-1zM859 218h1v1h-1zM860 219h1v1h-1zM861 219h1v1h-1zM862 220h1v1h-1zM863 221h1v1h-1zM864 222h1v1h-1zM865 223h1v1h-1zM866 224h1v1h-1zM867 225h1v1h-1zM868 226h1v1h-1zM869 227h1v1h-1zM870 228h1v1h-1zM871 229h1v1h-1zM872 230h1v1h-1zM873 231h1v1h-1zM874 232h1v1h-1zM875 233h1v1h-1zM876 234h1v1h-1zM877 235h1v1h-1zM878 236h1v1h-1zM879 237h1v1h-1zM880 238h1v1h-1zM881 239h1v1h-1zM882 240h1v1h-1zM883 240h1v1h-1zM884 241h1v1h-1zM885 242h1v1h-1zM886 243h1v1h-1zM887 244h1v1h-1zM888 245h1v1h-1zM889 246h1v1h-1zM890 247h1v1h-1zM891 248h1v1h-1zM892 248h1v1h-1zM893 249h1v1h-1zM894 250h1v1h-1zM895 251h1v1h-1zM896 252h1v1h-1zM897 253h1v1h-1zM898 253h1v1h-1zM899 254h1v1h-1zM900 255h1v1h-1zM901 255h1v1h-1zM902 256h1v1h-1zM903 257h1v1h-1zM904 257h1v1h-1zM905 258h1v1h-1zM906 259h1v1h-1zM907 259h1v1h-1zM908 260h1v1h-1zM909 260h1v1h-1zM910 261h1v1h-1zM911 262h1v1h-1zM912 263h1v1h-1zM913 264h1v1h-1zM914 264h1v1h-1zM915 265h1v1h-1zM916 266h1v1h-1zM917 267h1v1h-1zM918 268h1v1h-1zM919 268h1v1h-1zM920 269h1v1h-1zM921 270h1v1h-1zM922 271h1v1h-1zM923 272h1v1h-1zM924 273h1v1h-1zM925 274h1v1h-1zM926 275h1v1h-1zM927 276h1v1h-1zM928 277h1v1h-1zM929 278h1v2h-1zM930 279h1v1h-1zM931 280h1v1h-1zM932 281h1v1h-1zM933 282h1v1h-1zM934 283h1v1h-1zM935 284h1v1h-1zM936 285h1v1h-1zM937 286h1v1h-1zM938 287h1v1h-1zM939 288h1v1h-1zM940 289h1v1h-1zM941 290h1v1h-1zM942 291h1v1h-1zM943 292h1v1h-1zM944 293h1v1h-1zM945 294h1v1h-1zM946 294h1v1h-1zM947 295h1v1h-1zM948 296h1v1h-1zM949 296h1v1h-1zM950 297h1v1h-1zM951 298h1v1h-1zM952 298h1v1h-1zM953 299h1v1h-1zM954 299h1v1h-1zM955 300h1v1h-1zM956 300h1v1h-1zM957 301h1v1h-1zM958 302h1v1h-1zM959 302h1v1h-1zM960 303h1v1h-1zM961 303h1v1h-1zM962 304h1v1h-1zM963 304h1v1h-1zM964 305h1v1h-1zM965 305h1v1h-1zM966 306h1v1h-1zM967 306h1v1h-1zM968 307h1v1h-1zM969 307h1v1h-1zM970 308h1v1h-1zM971 308h1v1h-1zM972 309h1v1h-1zM973 309h1v1h-1zM974 309h1v1h-1zM975 310h1v1h-1zM976 310h1v1h-1zM977 311h1v1h-1zM978 311h1v1h-1zM979 312h1v1h-1zM980 313h1v1h-1zM981 314h1v1h-1zM982 314h1v1h-1zM983 315h1v1h-1zM984 316h1v1h-1zM985 317h1v1h-1zM986 318h1v1h-1zM987 318h1v1h-1zM988 319h1v1h-1zM989 320h1v1h-1zM990 321h1v1h-1zM991 321h1v1h-1zM992 322h1v1h-1zM993 323h1v1h-1zM994 323h1v1h-1zM995 324h1v1h-1zM996 325h1v1h-1zM997 325h1v1h-1zM998 326h1v1h-1zM999 326h1v1h-1zM1000 327h1v1h-1zM1001 327h1v1h-1zM1002 328h1v1h-1zM1003 328h1v1h-1zM1004 329h1v1h-1zM1005 329h1v1h-1zM1006 330h1v1h-1zM1007 330h1v1h-1zM1008 331h1v1h-1zM1009 331h1v1h-1zM1010 332h1v1h-1zM1011 333h1v1h-1zM1012 334h1v2h-1zM1013 336h1v1h-1zM1014 337h1v1h-1zM1015 338h1v1h-1zM1016 339h1v1h-1zM1017 339h1v1h-1zM1018 340h1v1h-1zM1019 341h1v1h-1zM1020 341h1v1h-1zM1021 342h1v1h-1zM1022 342h1v1h-1zM1023 343h1v1h-1zM1024 344h1v1h-1zM1025 344h1v1h-1zM1026 345h1v1h-1zM1027 346h1v1h-1zM1028 346h1v1h-1zM1029 347h1v1h-1zM1030 347h1v1h-1zM1031 348h1v1h-1zM1032 349h1v1h-1zM1033 349h1v1h-1zM1034 350h1v1h-1zM1035 351h1v1h-1zM1036 352h1v1h-1zM1037 353h1v1h-1zM1038 354h1v1h-1zM1039 355h1v1h-1zM1040 356h1v1h-1zM1041 357h1v1h-1zM1042 358h1v1h-1zM1043 358h1v1h-1zM1044 359h1v1h-1zM1045 360h1v1h-1zM1046 360h1v1h-1zM1047 361h1v1h-1zM1048 362h1v1h-1zM1049 362h1v1h-1zM1050 363h1v1h-1zM1051 363h1v1h-1zM1052 364h1v1h-1zM1053 364h1v1h-1zM1054 365h1v1h-1zM1055 366h1v1h-1zM1056 366h1v1h-1zM1057 367h1v1h-1zM1058 368h1v1h-1zM1059 368h1v1h-1zM1060 369h1v1h-1zM1061 370h1v1h-1zM1062 370h1v1h-1zM1063 371h1v1h-1zM1064 371h1v1h-1zM1065 372h1v1h-1zM1066 372h1v1h-1zM1067 373h1v1h-1zM1068 373h1v1h-1zM1069 374h1v1h-1zM1070 375h1v1h-1zM1071 375h1v1h-1zM1072 376h1v1h-1zM1073 376h1v1h-1zM1074 377h1v1h-1zM1075 377h1v1h-1zM1076 378h1v1h-1zM1077 378h1v1h-1zM1078 378h1v1h-1zM1079 379h1v1h-1zM1080 380h1v1h-1zM1081 381h1v1h-1zM1082 382h1v1h-1zM1083 382h1v1h-1zM1084 383h1v1h-1zM1085 384h1v1h-1zM1086 385h1v1h-1zM1087 386h1v1h-1zM1088 387h1v1h-1zM1089 387h1v1h-1zM1090 388h1v1h-1zM1091 389h1v1h-1zM1092 390h1v1h-1zM1093 390h1v1h-1zM1094 391h1v1h-1zM1095 392h1v1h-1zM1096 392h1v1h-1zM1097 393h1v1h-1zM1098 394h1v1h-1zM1099 395h1v1h-1zM1100 395h1v1h-1zM1101 396h1v1h-1zM1102 397h1v1h-1zM1103 398h1v1h-1zM1104 399h1v1h-1zM1105 400h1v1h-1zM1106 401h1v1h-1zM1107 402h1v1h-1zM1108 403h1v1h-1zM1109 404h1v1h-1zM1110 405h1v1h-1zM1111 406h1v1h-1zM1112 407h1v1h-1zM1113 407h1v1h-1zM1114 408h1v1h-1zM1115 409h1v1h-1zM1116 409h1v1h-1zM1117 410h1v1h-1zM1118 410h1v1h-1zM1119 411h1v1h-1zM1120 412h1v1h-1zM1121 413h1v1h-1zM1122 413h1v1h-1zM1123 414h1v1h-1zM1124 415h1v1h-1zM1125 416h1v1h-1zM1126 417h1v1h-1zM1127 417h1v1h-1zM1128 418h1v1h-1zM1129 418h1v1h-1zM1130 419h1v1h-1zM1131 419h1v1h-1zM1132 420h1v1h-1zM1133 420h1v1h-1zM1134 421h1v1h-1zM1135 421h1v1h-1zM1136 422h1v1h-1zM1137 423h1v1h-1zM1138 424h1v1h-1zM1139 425h1v1h-1zM1140 426h1v1h-1zM1141 427h1v1h-1zM1142 428h1v1h-1zM1143 429h1v1h-1zM1144 430h1v1h-1zM1145 431h1v1h-1zM1146 432h1v1h-1zM1147 433h1v1h-1zM1148 434h1v1h-1zM1149 435h1v1h-1zM1150 435h1v1h-1zM1151 436h1v1h-1zM1152 437h1v1h-1zM1153 438h1v1h-1zM1154 438h1v1h-1zM1155 439h1v1h-1zM1156 440h1v1h-1zM1157 441h1v1h-1zM1158 441h1v1h-1zM1159 442h1v1h-1zM1160 443h1v1h-1zM1161 443h1v1h-1zM1162 444h1v1h-1zM1163 445h1v1h-1zM1164 445h1v1h-1zM1165 446h1v1h-1zM1166 446h1v1h-1zM1167 447h1v1h-1zM1168 447h1v1h-1zM1169 447h1v1h-1zM1170 448h1v1h-1zM1171 448h1v1h-1zM1172 449h1v1h-1zM1173 449h1v1h-1zM1174 450h1v1h-1zM1175 451h1v1h-1zM1176 451h1v1h-1zM1177 452h1v1h-1zM1178 452h1v1h-1zM1179 453h1v1h-1zM1180 454h1v1h-1zM1181 454h1v1h-1zM1182 455h1v1h-1zM1183 456h1v1h-1zM1184 456h1v1h-1zM1185 457h1v1h-1zM1186 458h1v1h-1zM1187 458h1v1h-1zM1188 459h1v1h-1zM1189 460h1v1h-1zM1190 461h1v1h-1zM1191 461h1v1h-1zM1192 462h1v1h-1zM1193 463h1v1h-1zM1194 464h1v1h-1zM1195 465h1v1h-1zM1196 466h1v1h-1zM1197 467h1v1h-1zM1198 468h1v1h-1zM1199 469h1v1h-1zM1200 470h1v1h-1zM1201 471h1v1h-1zM1202 472h1v1h-1zM1203 473h1v2h-1zM1204 475h1v1h-1zM1205 476h1v1h-1zM1206 477h1v1h-1zM1207 478h1v1h-1zM1208 479h1v1h-1zM1209 480h1v1h-1zM1210 481h1v1h-1zM1211 482h1v1h-1zM1212 483h1v1h-1zM1213 484h1v1h-1zM1214 485h1v1h-1zM1215 486h1v1h-1zM1216 487h1v1h-1zM1217 487h1v1h-1zM1218 488h1v1h-1zM1219 488h1v1h-1zM1220 489h1v1h-1zM1221 489h1v1h-1zM1222 490h1v1h-1zM1223 490h1v1h-1zM1224 490h1v1h-1zM1225 491h1v1h-1zM1226 491h1v1h-1zM1227 491h1v1h-1zM1228 492h1v1h-1zM1229 492h1v1h-1zM1230 492h1v1h-1zM1231 493h1v1h-1zM1232 493h1v1h-1zM1233 494h1v1h-1zM1234 494h1v1h-1zM1235 495h1v1h-1zM1236 495h1v1h-1zM1237 496h1v1h-1zM1238 497h1v1h-1zM1239 497h1v1h-1zM1240 498h1v1h-1zM1241 498h1v1h-1zM1242 499h1v1h-1zM1243 499h1v1h-1zM1244 500h1v1h-1zM1245 500h1v1h-1zM1246 501h1v1h-1zM1247 501h1v1h-1zM1248 502h1v1h-1zM1249 502h1v1h-1zM1250 503h1v1h-1zM1251 503h1v1h-1zM1252 503h1v1h-1zM1253 504h1v1h-1zM1254 504h1v1h-1zM1255 505h1v1h-1z" fill="#0000cd"/>
<path d="M4 180h1v1h-1zM5 181h1v1h-1zM6 181h1v1h-1zM7 182h1v1h-1zM8 182h1v1h-1zM9 183h1v1h-1zM10 183h1v1h-1zM11 183h1v1h-1zM12 183h1v1h-1zM13 184h1v1h-1zM14 184h1v1h-1zM15 184h1v1h-1zM16 184h1v1h-1zM17 185h1v1h-1zM18 185h1v1h-1zM19 185h1v1h-1zM20 185h1v1h-1zM21 186h1v1h-1zM22 186h1v1h-1zM23 187h1v1h-1zM24 187h1v1h-1zM25 187h1v1h-1zM26 188h1v1h-1zM27 188h1v1h-1zM28 189h1v1h-1zM29 189h1v1h-1zM30 190h1v1h-1zM31 190h1v1h-1zM32 190h1v1h-1zM33 191h1v1h-1zM34 191h1v1h-1zM35 191h1v1h-1zM36 192h1v1h-1zM37 192h1v1h-1zM38 192h1v1h-1zM39 193h1v1h-1zM40 193h1v1h-1zM41 193h1v1h-1zM42 194h1v1h-1zM43 194h1v1h-1zM44 194h1v1h-1zM45 195h1v1h-1zM46 195h1v1h-1zM47 195h1v1h-1zM48 196h1v1h-1zM49 196h1v1h-1zM50 197h1v1h-1zM51 197h1v1h-1zM52 198h1v1h-1zM53 198h1v1h-1zM54 198h1v1h-1zM55 199h1v1h-1zM56 199h1v1h-1zM57 200h1v1h-1zM58 200h1v1h-1zM59 201h1v1h-1zM60 201h1v1h-1zM61 202h1v1h-1zM62 203h1v1h-1zM63 204h1v1h-1zM64 204h1v1h-1zM65 205h1v1h-1zM66 206h1v1h-1zM67 207h1v1h-1zM68 207h1v1h-1zM69 208h1v1h-1zM70 209h1v1h-1zM71 210h1v1h-1zM72 211h1v1h-1zM73 212h1v2h-1zM74 214h1v1h-1zM75 215h1v1h-1zM76 216h1v1h-1zM77 217h1v1h-1zM78 218h1v1h-1zM79 219h1v1h-1zM80 220h1v1h-1zM81 221h1v1h-1zM82 222h1v1h-1zM83 223h1v1h-1zM84 224h1v1h-1zM85 225h1v2h-1zM86 227h1v1h-1zM87 228h1v1h-1zM88 229h1v2h-1zM89 231h1v1h-1zM90 232h1v1h-1zM91 233h1v1h-1zM92 234h1v2h-1zM93 236h1v1h-1zM94 237h1v1h-1zM95 238h1v1h-1zM96 239h1v1h-1zM97 240h1v1h-1zM98 241h1v2h-1zM99 243h1v1h-1zM100 244h1v1h-1zM101 245h1v1h-1zM102 246h1v2h-1zM103 248h1v1h-1zM104 249h1v1h-1zM105 250h1v1h-1zM106 251h1v1h-1zM107 252h1v2h-1zM108 254h1v1h-1zM109 254h1v1h-1zM110 255h1v1h-1zM111 255h1v1h-1zM112 256h1v1h-1zM113 256h1v1h-1zM114 257h1v1h-1zM115 257h1v1h-1zM116 258h1v1h-1zM117 259h1v1h-1zM118 259h1v1h-1zM119 260h1v1h-1zM120 260h1v1h-1zM121 260h1v1h-1zM122 260h1v1h-1zM123 260h1v1h-1zM124 260h1v1h-1zM125 260h1v1h-1zM126 260h1v1h-1zM127 260h1v1h-1zM128 259h1v1h-1zM129 258h1v1h-1zM130 258h1v1h-1zM131 257h1v1h-1zM132 256h1v1h-1zM133 255h1v1h-1zM134 254h1v1h-1zM135 253h1v1h-1zM136 252h1v1h-1zM137 251h1v1h-1zM138 250h1v1h-1zM139 249h1v1h-1zM140 247h1v2h-1zM141 246h1v1h-1zM142 245h1v1h-1zM143 244h1v1h-1zM144 243h1v1h-1zM145 242h1v1h-1zM146 240h1v2h-1zM147 239h1v1h-1zM148 237h1v2h-1zM149 236h1v1h-1zM150 234h1v2h-1zM151 232h1v2h-1zM152 230h1v2h-1zM153 228h1v2h-1zM154 226h1v2h-1zM155 225h1v1h-1zM156 223h1v2h-1zM157 222h1v1h-1zM158 220h1v2h-1zM159 219h1v1h-1zM160 218h1v1h-1zM161 216h1v2h-1zM162 215h1v1h-1zM163 214h1v1h-1zM164 213h1v1h-1zM165 211h1v2h-1zM166 210h1v1h-1zM167 209h1v1h-1zM168 208h1v1h-1zM169 207h1v1h-1zM170 206h1v1h-1zM171 205h1v1h-1zM172 203h1v2h-1zM173 203h1v1h-1zM174 202h1v1h-1zM175 201h1v1h-1zM176 200h1v1h-1zM177 199h1v1h-1zM178 198h1v1h-1zM179 198h1v1h-1zM180 198h1v1h-1zM181 198h1v1h-1zM182 197h1v1h-1zM183 197h1v1h-1zM184 197h1v1h-1zM185 197h1v1h-1zM186 197h1v1h-1zM187 197h1v1h-1zM188 196h1v1h-1zM189 196h1v1h-1zM190 196h1v1h-1zM191 196h1v1h-1zM192 196h1v1h-1zM193 196h1v1h-1zM194 196h1v1h-1zM195 196h1v1h-1zM196 196h1v1h-1zM197 196h1v1h-1zM198 196h1v1h-1zM199 196h1v1h-1zM200 196h1v1h-1zM201 196h1v1h-1zM202 196h1v1h-1zM203 196h1v1h-1zM204 196h1v1h-1zM205 196h1v1h-1zM206 196h1v1h-1zM207 196h1v1h-1zM208 195h1v1h-1zM209 195h1v1h-1zM210 195h1v1h-1zM211 194h1v1h-1zM212 194h1v1h-1zM213 194h1v1h-1zM214 193h1v1h-1zM215 193h1v1h-1zM216 192h1v1h-1zM217 192h1v1h-1zM218 192h1v1h-1zM219 191h1v1h-1zM220 190h1v1h-1zM221 190h1v1h-1zM222 189h1v1h-1zM223 188h1v1h-1zM224 188h1v1h-1zM225 187h1v1h-1zM226 187h1v1h-1zM227 186h1v1h-1zM228 186h1v1h-1zM229 186h1v1h-1zM230 185h1v1h-1zM231 185h1v1h-1zM232 184h1v1h-1zM233 184h1v1h-1zM234 184h1v1h-1zM235 183h1v1h-1zM236 183h1v1h-1zM237 183h1v1h-1zM238 182h1v1h-1zM239 182h1v1h-1zM240 182h1v1h-1zM241 181h1v1h-1zM242 181h1v1h-1zM243 181h1v1h-1zM244 181h1v1h-1zM245 181h1v1h-1zM246 181h1v1h-1zM247 180h1v1h-1zM248 181h1v1h-1zM249 181h1v1h-1zM250 182h1v1h-1zM251 182h1v1h-1zM252 183h1v1h-1zM253 183h1v1h-1zM254 184h1v1h-1zM255 185h1v1h-1zM256 186h1v1h-1zM257 187h1v1h-1zM258 187h1v1h-1zM259 188h1v1h-1zM260 189h1v1h-1zM261 190h1v1h-1zM262 190h1v1h-1zM263 191h1v1h-1zM264 192h1v1h-1zM265 193h1v1h-1zM266 194h1v1h-1zM267 195h1v1h-1zM268 196h1v1h-1zM269 197h1v1h-1zM270 198h1v1h-1zM271 199h1v1h-1zM272 200h1v1h-1zM273 201h1v2h-1zM274 203h1v1h-1zM275 204h1v1h-1zM276 205h1v2h-1zM277 207h1v1h-1zM278 208h1v1h-1zM279 209h1v1h-1zM280 209h1v1h-1zM281 210h1v1h-1zM282 211h1v1h-1zM283 212h1v1h-1zM284 213h1v1h-1zM285 213h1v1h-1zM286 213h1v1h-1zM287 213h1v1h-1zM288 212h1v1h-1zM289 212h1v1h-1zM290 212h1v1h-1zM291 212h1v1h-1zM292 212h1v1h-1zM293 211h1v1h-1zM294 211h1v1h-1zM295 211h1v1h-1zM296 211h1v1h-1zM297 210h1v1h-1zM298 210h1v1h-1zM299 210h1v1h-1zM300 209h1v1h-1zM301 209h1v1h-1zM302 208h1v1h-1zM303 208h1v1h-1zM304 207h1v1h-1zM305 206h1v1h-1zM306 204h1v2h-1zM307 203h1v1h-1zM308 201h1v2h-1zM309 199h1v2h-1zM310 197h1v2h-1zM311 195h1v2h-1zM312 192h1v3h-1zM313 190h1v2h-1zM314 187h1v3h-1zM315 185h1v2h-1zM316 182h1v3h-1zM317 180h1v2h-1zM318 177h1v3h-1zM319 174h1v3h-1zM320 172h1v2h-1zM321 169h1v3h-1zM322 166h1v3h-1zM323 164h1v2h-1zM324 162h1v2h-1zM325 160h1v2h-1zM326 158h1v2h-1zM327 156h1v2h-1zM328 155h1v1h-1zM329 153h1v2h-1zM330 151h1v2h-1zM331 149h1v2h-1zM332 147h1v2h-1zM333 145h1v2h-1zM334 143h1v2h-1zM335 141h1v2h-1zM336 139h1v2h-1zM337 137h1v2h-1zM338 135h1v2h-1zM339 133h1v2h-1zM340 132h1v1h-1zM341 130h1v2h-1zM342 130h1v1h-1zM343 129h1v1h-1zM344 129h1v1h-1zM345 128h1v1h-1zM346 128h1v1h-1zM347 127h1v1h-1zM348 126h1v1h-1zM349 125h1v1h-1zM350 124h1v1h-1zM351 123h1v1h-1zM352 122h1v1h-1zM353 121h1v1h-1zM354 119h1v2h-1zM355 118h1v1h-1zM356 117h1v1h-1zM357 116h1v1h-1zM358 114h1v2h-1zM359 113h1v1h-1zM360 113h1v1h-1zM361 112h1v1h-1zM362 112h1v1h-1zM363 112h1v1h-1zM364 112h1v1h-1zM365 112h1v1h-1zM366 113h1v1h-1zM367 113h1v1h-1zM368 113h1v1h-1zM369 114h1v1h-1zM370 114h1v1h-1zM371 114h1v1h-1zM372 115h1v1h-1zM373 115h1v1h-1zM374 116h1v1h-1zM375 117h1v1h-1zM376 117h1v1h-1zM377 118h1v1h-1zM378 119h1v1h-1zM379 120h1v1h-1zM380 121h1v1h-1zM381 121h1v1h-1zM382 122h1v1h-1zM383 123h1v1h-1zM384 123h1v1h-1zM385 124h1v1h-1zM386 125h1v1h-1zM387 126h1v1h-1zM388 127h1v1h-1zM389 127h1v1h-1zM390 128h1v1h-1zM391 129h1v1h-1zM392 129h1v1h-1zM393 130h1v1h-1zM394 131h1v1h-1zM395 131h1v1h-1zM396 132h1v1h-1zM397 132h1v1h-1zM398 133h1v1h-1zM399 133h1v1h-1zM400 134h1v1h-1zM401 134h1v1h-1zM402 135h1v1h-1zM403 135h1v1h-1zM404 136h1v1h-1zM405 136h1v1h-1zM406 136h1v1h-1zM407 137h1v1h-1zM408 137h1v1h-1zM409 137h1v1h-1zM410 138h1v1h-1zM411 138h1v1h-1zM412 138h1v1h-1zM413 138h1v1h-1zM414 138h1v1h-1zM415 139h1v1h-1zM416 139h1v1h-1zM417 139h1v1h-1zM418 139h1v1h-1zM419 140h1v1h-1zM420 140h1v1h-1zM421 140h1v1h-1zM422 140h1v1h-1zM423 140h1v1h-1zM424 141h1v1h-1zM425 141h1v1h-1zM426 141h1v1h-1zM427 141h1v1h-1zM428 141h1v1h-1zM429 140h1v1h-1zM430 140h1v1h-1zM431 140h1v1h-1zM432 139h1v1h-1zM433 139h1v1h-1zM434 138h1v1h-1zM435 138h1v1h-1zM436 137h1v1h-1zM437 137h1v1h-1zM438 136h1v1h-1zM439 136h1v1h-1zM440 135h1v1h-1zM441 135h1v1h-1zM442 135h1v1h-1zM443 134h1v1h-1zM444 134h1v1h-1zM445 133h1v1h-1zM446 132h1v1h-1zM447 132h1v1h-1zM448 131h1v1h-1zM449 131h1v1h-1zM450 130h1v1h-1zM451 130h1v1h-1zM452 130h1v1h-1zM453 130h1v1h-1zM454 129h1v1h-1zM455 129h1v1h-1zM456 128h1v1h-1zM457 127h1v1h-1zM458 127h1v1h-1zM459 126h1v1h-1zM460 125h1v1h-1zM461 125h1v1h-1zM462 124h1v1h-1zM463 123h1v1h-1zM464 123h1v1h-1zM465 122h1v1h-1zM466 122h1v1h-1zM467 121h1v1h-1zM468 121h1v1h-1zM469 120h1v1h-1zM470 120h1v1h-1zM471 119h1v1h-1zM472 119h1v1h-1zM473 118h1v1h-1zM474 118h1v1h-1zM475 117h1v1h-1zM476 117h1v1h-1zM477 117h1v1h-1zM478 116h1v1h-1zM479 116h1v1h-1zM480 116h1v1h-1zM481 116h1v1h-1zM482 116h1v1h-1zM483 116h1v1h-1zM484 116h1v1h-1zM485 117h1v1h-1zM486 117h1v1h-1zM487 117h1v1h-1zM488 117h1v1h-1zM489 117h1v1h-1zM490 117h1v1h-1zM491 117h1v1h-1zM492 116h1v1h-1zM493 116h1v1h-1zM494 116h1v1h-1zM495 116h1v1h-1zM496 116h1v1h-1zM497 116h1v1h-1zM498 116h1v1h-1zM499 115h1v1h-1zM500 115h1v1h-1zM501 114h1v1h-1zM502 114h1v1h-1zM503 114h1v1h-1zM504 113h1v1h-1zM505 112h1v1h-1zM506 112h1v1h-1zM507 111h1v1h-1zM508 110h1v1h-1zM509 109h1v1h-1zM510 109h1v1h-1zM511 109h1v1h-1zM512 108h1v1h-1zM513 108h1v1h-1zM514 108h1v1h-1zM515 108h1v1h-1zM516 109h1v1h-1zM517 109h1v1h-1zM518 109h1v1h-1zM519 109h1v1h-1zM520 110h1v1h-1zM521 110h1v1h-1zM522 110h1v1h-1zM523 110h1v1h-1zM524 110h1v1h-1zM525 110h1v1h-1zM526 110h1v1h-1zM527 110h1v1h-1zM528 110h1v1h-1zM529 110h1v1h-1zM530 110h1v1h-1zM531 110h1v1h-1zM532 109h1v1h-1zM533 109h1v1h-1zM534 108h1v1h-1zM535 108h1v1h-1zM536 107h1v1h-1zM537 107h1v1h-1zM538 106h1v1h-1zM539 105h1v1h-1zM540 104h1v1h-1zM541 103h1v1h-1zM542 102h1v1h-1zM543 102h1v1h-1zM544 101h1v1h-1zM545 100h1v1h-1zM546 99h1v1h-1zM547 98h1v1h-1zM548 97h1v1h-1zM549 96h1v1h-1zM550 96h1v1h-1zM551 95h1v1h-1zM552 95h1v1h-1zM553 94h1v1h-1zM554 93h1v1h-1zM555 93h1v1h-1zM556 92h1v1h-1zM557 92h1v1h-1zM558 91h1v1h-1zM559 91h1v1h-1zM560 90h1v1h-1zM561 90h1v1h-1zM562 90h1v1h-1zM563 90h1v1h-1zM564 90h1v1h-1zM565 90h1v1h-1zM566 90h1v1h-1zM567 90h1v1h-1zM568 91h1v1h-1zM569 91h1v1h-1zM570 91h1v1h-1zM571 91h1v1h-1zM572 91h1v1h-1zM573 91h1v1h-1zM574 91h1v1h-1zM575 91h1v1h-1zM576 91h1v1h-1zM577 91h1v1h-1zM578 91h1v1h-1zM579 92h1v1h-1zM580 93h1v1h-1zM581 93h1v1h-1zM582 94h1v1h-1zM583 95h1v1h-1zM584 96h1v1h-1zM585 97h1v1h-1zM586 98h1v1h-1zM587 99h1v1h-1zM588 100h1v1h-1zM589 101h1v1h-1zM590 101h1v1h-1zM591 102h1v1h-1zM592 103h1v1h-1zM593 104h1v1h-1zM594 105h1v1h-1zM595 106h1v1h-1zM596 107h1v1h-1zM597 108h1v2h-1zM598 110h1v1h-1zM599 111h1v1h-1zM600 112h1v2h-1zM601 114h1v1h-1zM602 115h1v1h-1zM603 116h1v1h-1zM604 117h1v1h-1zM605 118h1v1h-1zM606 119h1v1h-1zM607 120h1v1h-1zM608 121h1v1h-1zM609 122h1v1h-1zM610 123h1v1h-1zM611 124h1v1h-1zM612 125h1v2h-1zM613 127h1v1h-1zM614 127h1v1h-1zM615 128h1v1h-1zM616 129h1v1h-1zM617 130h1v1h-1zM618 131h1v1h-1zM619 131h1v1h-1zM620 131h1v1h-1zM621 132h1v1h-1zM622 132h1v1h-1zM623 133h1v1h-1zM624 133h1v1h-1zM625 133h1v1h-1zM626 134h1v1h-1zM627 134h1v1h-1zM628 134h1v1h-1zM629 135h1v1h-1zM630 135h1v1h-1zM631 135h1v1h-1zM632 136h1v1h-1zM633 136h1v1h-1zM634 137h1v1h-1zM635 137h1v1h-1zM636 137h1v1h-1zM637 138h1v1h-1zM638 138h1v1h-1zM639 138h1v1h-1zM640 139h1v1h-1zM641 139h1v1h-1zM642 139h1v1h-1zM643 139h1v1h-1zM644 138h1v1h-1zM645 138h1v1h-1zM646 138h1v1h-1zM647 138h1v1h-1zM648 137h1v1h-1zM649 137h1v1h-1zM650 137h1v1h-1zM651 136h1v1h-1zM652 136h1v1h-1zM653 135h1v1h-1zM654 135h1v1h-1zM655 135h1v1h-1zM656 135h1v1h-1zM657 135h1v1h-1zM658 135h1v1h-1zM659 135h1v1h-1zM660 135h1v1h-1zM661 135h1v1h-1zM662 136h1v1h-1zM663 136h1v1h-1zM664 136h1v1h-1zM665 136h1v1h-1zM666 136h1v1h-1zM667 136h1v1h-1zM668 136h1v1h-1zM669 136h1v1h-1zM670 136h1v1h-1zM671 137h1v1h-1zM672 137h1v1h-1zM673 137h1v1h-1zM674 137h1v1h-1zM675 138h1v1h-1zM676 138h1v1h-1zM677 138h1v1h-1zM678 138h1v1h-1zM679 139h1v1h-1zM680 139h1v1h-1zM681 140h1v1h-1zM682 140h1v1h-1zM683 141h1v1h-1zM684 141h1v1h-1zM685 142h1v1h-1zM686 143h1v1h-1zM687 144h1v1h-1zM688 145h1v1h-1zM689 146h1v1h-1zM690 146h1v1h-1zM691 147h1v1h-1zM692 147h1v1h-1zM693 148h1v1h-1zM694 149h1v1h-1zM695 149h1v1h-1zM696 150h1v2h-1zM697 152h1v1h-1zM698 153h1v1h-1zM699 154h1v1h-1zM700 155h1v1h-1zM701 155h1v1h-1zM702 156h1v1h-1zM703 157h1v1h-1zM704 158h1v1h-1zM705 159h1v1h-1zM706 160h1v1h-1zM707 161h1v1h-1zM708 162h1v1h-1zM709 163h1v1h-1zM710 164h1v1h-1zM711 165h1v1h-1zM712 166h1v1h-1zM713 167h1v1h-1zM714 168h1v1h-1zM715 169h1v1h-1zM716 170h1v1h-1zM717 171h1v1h-1zM718 172h1v1h-1zM719 173h1v1h-1zM720 174h1v1h-1zM721 175h1v1h-1zM722 176h1v1h-1zM723 177h1v1h-1zM724 178h1v1h-1zM725 179h1v1h-1zM726 180h1v1h-1zM727 181h1v1h-1zM728 182h1v1h-1zM729 183h1v1h-1zM730 184h1v1h-1zM731 185h1v1h-1zM732 186h1v1h-1zM733 187h1v1h-1zM734 188h1v1h-1zM735 188h1v1h-1zM736 189h1v1h-1zM737 190h1v1h-1zM738 190h1v1h-1zM739 190h1v1h-1zM740 191h1v1h-1zM741 191h1v1h-1zM742 191h1v1h-1zM743 192h1v1h-1zM744 192h1v1h-1zM745 191h1v1h-1zM746 191h1v1h-1zM747 190h1v1h-1zM748 189h1v1h-1zM749 189h1v1h-1zM750 189h1v1h-1zM751 189h1v1h-1zM752 189h1v1h-1zM753 189h1v1h-1zM754 189h1v1h-1zM755 190h1v1h-1zM756 190h1v1h-1zM757 190h1v1h-1zM758 190h1v1h-1zM759 190h1v1h-1zM760 190h1v1h-1zM761 190h1v1h-1zM762 190h1v1h-1zM763 190h1v1h-1zM764 190h1v1h-1zM765 190h1v1h-1zM766 190h1v1h-1zM767 190h1v1h-1zM768 190h1v1h-1zM769 190h1v1h-1zM770 190h1v1h-1zM771 190h1v1h-1zM772 190h1v1h-1zM773 190h1v1h-1zM774 190h1v1h-1zM775 190h1v1h-1zM776 190h1v1h-1zM777 190h1v1h-1zM778 190h1v1h-1zM779 190h1v1h-1zM780 190h1v1h-1zM781 190h1v1h-1zM782 190h1v1h-1zM783 190h1v1h-1zM784 191h1v1h-1zM785 191h1v1h-1zM786 191h1v1h-1zM787 192h1v1h-1zM788 192h1v1h-1zM789 193h1v1h-1zM790 194h1v1h-1zM791 194h1v1h-1zM792 195h1v1h-1zM793 195h1v1h-1zM794 196h1v1h-1zM795 196h1v1h-1zM796 197h1v1h-1zM797 197h1v1h-1zM798 198h1v1h-1zM799 198h1v1h-1zM800 199h1v1h-1zM801 199h1v1h-1zM802 199h1v1h-1zM803 200h1v1h-1zM804 201h1v1h-1zM805 202h1v1h-1zM806 203h1v1h-1zM807 204h1v1h-1zM808 205h1v1h-1zM809 206h1v1h-1zM810 207h1v1h-1zM811 208h1v1h-1zM812 209h1v1h-1zM813 209h1v1h-1zM814 210h1v1h-1zM815 210h1v1h-1zM816 211h1v1h-1zM817 212h1v1h-1zM818 212h1v1h-1zM819 213h1v1h-1zM820 214h1v1h-1zM821 215h1v1h-1zM822 216h1v1h-1zM823 217h1v1h-1zM824 217h1v1h-1zM825 218h1v1h-1zM826 218h1v1h-1zM827 219h1v1h-1zM828 219h1v1h-1zM829 220h1v1h-1zM830 221h1v1h-1zM831 222h1v1h-1zM832 223h1v1h-1zM833 224h1v1h-1zM834 225h1v1h-1zM835 226h1v1h-1zM836 227h1v1h-1zM837 228h1v1h-1zM838 229h1v1h-1zM839 230h1v1h-1zM840 230h1v1h-1zM841 231h1v1h-1zM842 231h1v1h-1zM843 231h1v1h-1zM844 232h1v1h-1zM845 232h1v1h-1zM846 232h1v1h-1zM847 232h1v1h-1zM848 233h1v1h-1zM849 233h1v1h-1zM850 234h1v1h-1zM851 235h1v1h-1zM852 236h1v1h-1zM853 237h1v1h-1zM854 238h1v1h-1zM855 238h1v1h-1zM856 239h1v1h-1zM857 240h1v1h-1zM858 241h1v1h-1zM859 242h1v1h-1zM860 243h1v1h-1zM861 244h1v1h-1zM862 245h1v1h-1zM863 246h1v1h-1zM864 246h1v1h-1zM865 247h1v1h-1zM866 248h1v1h-1zM867 249h1v1h-1zM868 250h1v1h-1zM869 251h1v1h-1zM870 252h1v1h-1zM871 253h1v1h-1zM872 254h1v1h-1zM873 255h1v1h-1zM874 256h1v1h-1zM875 257h1v1h-1zM876 258h1v1h-1zM877 259h1v1h-1zM878 260h1v2h-1zM879 262h1v1h-1zM880 263h1v1h-1zM881 264h1v2h-1zM882 266h1v1h-1zM883 267h1v2h-1zM884 269h1v1h-1zM885 269h1v1h-1zM886 270h1v1h-1zM887 271h1v1h-1zM888 272h1v1h-1zM889 273h1v1h-1zM890 274h1v1h-1zM891 275h1v1h-1zM892 276h1v1h-1zM893 276h1v1h-1zM894 277h1v1h-1zM895 278h1v1h-1zM896 279h1v1h-1zM897 280h1v1h-1zM898 281h1v1h-1zM899 282h1v1h-1zM900 283h1v1h-1zM901 284h1v1h-1zM902 285h1v1h-1zM903 286h1v1h-1zM904 287h1v1h-1zM905 287h1v1h-1zM906 288h1v1h-1zM907 289h1v1h-1zM908 290h1v1h-1zM909 291h1v1h-1zM910 291h1v1h-1zM911 292h1v1h-1zM912 293h1v1h-1zM913 294h1v1h-1zM914 295h1v1h-1zM915 295h1v1h-1zM916 296h1v1h-1zM917 297h1v1h-1zM918 297h1v1h-1zM919 298h1v1h-1zM920 298h1v1h-1zM921 299h1v1h-1zM922 300h1v1h-1zM923 300h1v1h-1zM924 301h1v1h-1zM925 302h1v1h-1zM926 303h1v2h-1zM927 305h1v1h-1zM928 306h1v1h-1zM929 307h1v1h-1zM930 308h1v1h-1zM931 309h1v1h-1zM932 310h1v1h-1zM933 311h1v1h-1zM934 312h1v1h-1zM935 313h1v1h-1zM936 314h1v1h-1zM937 315h1v1h-1zM938 315h1v1h-1zM939 316h1v1h-1zM940 317h1v1h-1zM941 318h1v1h-1zM942 319h1v1h-1zM943 320h1v1h-1zM944 320h1v1h-1zM945 321h1v1h-1zM946 322h1v1h-1zM947 322h1v1h-1zM948 323h1v1h-1zM949 323h1v1h-1zM950 324h1v1h-1zM951 325h1v1h-1zM952 325h1v1h-1zM953 326h1v1h-1zM954 326h1v1h-1zM955 326h1v1h-1zM956 326h1v1h-1zM957 326h1v1h-1zM958 327h1v1h-1zM959 327h1v1h-1zM960 327h1v1h-1zM961 327h1v1h-1zM962 327h1v1h-1zM963 327h1v1h-1zM964 327h1v1h-1zM965 327h1v1h-1zM966 327h1v1h-1zM967 327h1v1h-1zM968 327h1v1h-1zM969 327h1v1h-1zM970 327h1v1h-1zM971 328h1v1h-1zM972 328h1v1h-1zM973 328h1v1h-1zM974 329h1v1h-1zM975 329h1v1h-1zM976 329h1v1h-1zM977 329h1v1h-1zM978 329h1v1h-1zM979 330h1v1h-1zM980 330h1v1h-1zM981 330h1v1h-1zM982 330h1v1h-1zM983 331h1v1h-1zM984 331h1v1h-1zM985 331h1v1h-1zM986 331h1v1h-1zM987 331h1v1h-1zM988 331h1v1h-1zM989 331h1v1h-1zM990 331h1v1h-1zM991 331h1v1h-1zM992 331h1v1h-1zM993 332h1v1h-1zM994 332h1v1h-1zM995 333h1v1h-1zM996 333h1v1h-1zM997 334h1v1h-1zM998 334h1v1h-1zM999 335h1v1h-1zM1000 336h1v1h-1zM1001 337h1v1h-1zM1002 338h1v1h-1zM1003 339h1v1h-1zM1004 340h1v1h-1zM1005 340h1v1h-1zM1006 341h1v1h-1zM1007 342h1v1h-1zM1008 343h1v1h-1zM1009 343h1v1h-1zM1010 344h1v2h-1zM1011 346h1v2h-1zM1012 348h1v2h-1zM1013 350h1v2h-1zM1014 352h1v1h-1zM1015 353h1v2h-1zM1016 355h1v1h-1zM1017 356h1v2h-1zM1018 358h1v2h-1zM1019 360h1v1h-1zM1020 361h1v1h-1zM1021 362h1v1h-1zM1022 363h1v1h-1zM1023 364h1v1h-1zM1024 365h1v2h-1zM1025 367h1v1h-1zM1026 368h1v1h-1zM1027 369h1v1h-1zM1028 370h1v2h-1zM1029 372h1v1h-1zM1030 373h1v1h-1zM1031 374h1v2h-1zM1032 376h1v1h-1zM1033 377h1v2h-1zM1034 379h1v1h-1zM1035 380h1v1h-1zM1036 380h1v1h-1zM1037 381h1v1h-1zM1038 381h1v1h-1zM1039 382h1v1h-1zM1040 383h1v1h-1zM1041 384h1v1h-1zM1042 385h1v1h-1zM1043 386h1v1h-1zM1044 387h1v1h-1zM1045 388h1v1h-1zM1046 389h1v1h-1zM1047 390h1v2h-1zM1048 392h1v1h-1zM1049 393h1v1h-1zM1050 394h1v1h-1zM1051 395h1v1h-1zM1052 396h1v1h-1zM1053 396h1v1h-1zM1054 397h1v1h-1zM1055 398h1v1h-1zM1056 399h1v1h-1zM1057 399h1v1h-1zM1058 400h1v1h-1zM1059 401h1v1h-1zM1060 402h1v1h-1zM1061 403h1v1h-1zM1062 404h1v1h-1zM1063 405h1v1h-1zM1064 406h1v1h-1zM1065 406h1v1h-1zM1066 405h1v1h-1zM1067 405h1v1h-1zM1068 404h1v1h-1zM1069 404h1v1h-1zM1070 404h1v1h-1zM1071 404h1v1h-1zM1072 404h1v1h-1zM1073 404h1v1h-1zM1074 404h1v1h-1zM1075 405h1v1h-1zM1076 405h1v1h-1zM1077 405h1v1h-1zM1078 405h1v1h-1zM1079 406h1v1h-1zM1080 406h1v1h-1zM1081 406h1v1h-1zM1082 406h1v1h-1zM1083 407h1v1h-1zM1084 407h1v1h-1zM1085 407h1v1h-1zM1086 408h1v1h-1zM1087 408h1v1h-1zM1088 408h1v1h-1zM1089 408h1v1h-1zM1090 408h1v1h-1zM1091 408h1v1h-1zM1092 408h1v1h-1zM1093 408h1v1h-1zM1094 408h1v1h-1zM1095 408h1v1h-1zM1096 408h1v1h-1zM1097 408h1v1h-1zM1098 409h1v1h-1zM1099 409h1v1h-1zM1100 410h1v1h-1zM1101 411h1v1h-1zM1102 411h1v1h-1zM1103 412h1v1h-1zM1104 412h1v1h-1zM1105 413h1v1h-1zM1106 414h1v1h-1zM1107 414h1v1h-1zM1108 415h1v1h-1zM1109 416h1v1h-1zM1110 417h1v1h-1zM1111 418h1v1h-1zM1112 419h1v1h-1zM1113 419h1v1h-1zM1114 420h1v1h-1zM1115 420h1v1h-1zM1116 421h1v1h-1zM1117 421h1v1h-1zM1118 422h1v1h-1zM1119 423h1v1h-1zM1120 424h1v1h-1zM1121 425h1v1h-1zM1122 426h1v1h-1zM1123 427h1v1h-1zM1124 428h1v1h-1zM1125 429h1v1h-1zM1126 430h1v1h-1zM1127 431h1v1h-1zM1128 432h1v2h-1zM1129 434h1v1h-1zM1130 435h1v1h-1zM1131 436h1v2h-1zM1132 438h1v1h-1zM1133 439h1v1h-1zM1134 440h1v2h-1zM1135 442h1v1h-1zM1136 443h1v2h-1zM1137 445h1v1h-1zM1138 446h1v2h-1zM1139 448h1v1h-1zM1140 449h1v2h-1zM1141 451h1v1h-1zM1142 452h1v2h-1zM1143 454h1v3h-1zM1144 457h1v2h-1zM1145 459h1v2h-1zM1146 461h1v2h-1zM1147 463h1v1h-1zM1148 464h1v2h-1zM1149 466h1v1h-1zM1150 467h1v1h-1zM1151 468h1v2h-1zM1152 470h1v1h-1zM1153 471h1v1h-1zM1154 472h1v1h-1zM1155 473h1v1h-1zM1156 474h1v1h-1zM1157 475h1v1h-1zM1158 475h1v1h-1zM1159 476h1v1h-1zM1160 476h1v1h-1zM1161 476h1v1h-1zM1162 477h1v1h-1zM1163 477h1v1h-1zM1164 477h1v1h-1zM1165 477h1v1h-1zM1166 478h1v1h-1zM1167 478h1v1h-1zM1168 478h1v1h-1zM1169 479h1v1h-1zM1170 479h1v1h-1zM1171 479h1v1h-1zM1172 480h1v1h-1zM1173 480h1v1h-1zM1174 480h1v1h-1zM1175 481h1v1h-1zM1176 481h1v1h-1zM1177 482h1v1h-1zM1178 482h1v1h-1zM1179 483h1v1h-1zM1180 484h1v1h-1zM1181 484h1v1h-1zM1182 485h1v1h-1zM1183 485h1v1h-1zM1184 486h1v1h-1zM1185 486h1v1h-1zM1186 487h1v1h-1zM1187 487h1v1h-1zM1188 488h1v1h-1zM1189 488h1v1h-1zM1190 488h1v1h-1zM1191 489h1v1h-1zM1192 489h1v1h-1zM1193 490h1v1h-1zM1194 490h1v1h-1zM1195 490h1v1h-1zM1196 491h1v1h-1zM1197 491h1v1h-1zM1198 491h1v1h-1zM1199 492h1v1h-1zM1200 492h1v1h-1zM1201 492h1v1h-1zM1202 493h1v1h-1zM1203 493h1v1h-1zM1204 494h1v1h-1zM1205 494h1v1h-1zM1206 495h1v1h-1zM1207 495h1v1h-1zM1208 496h1v1h-1zM1209 497h1v1h-1zM1210 497h1v1h-1zM1211 498h1v1h-1zM1212 498h1v1h-1zM1213 499h1v1h-1zM1214 499h1v1h-1zM1215 500h1v1h-1zM1216 501h1v1h-1zM1217 502h1v1h-1zM1218 502h1v1h-1zM1219 503h1v1h-1zM1220 504h1v1h-1zM1221 504h1v1h-1zM1222 505h1v1h-1zM1223 505h1v1h-1zM1224 506h1v1h-1zM1225 506h1v1h-1zM1226 506h1v1h-1zM1227 507h1v1h-1zM1228 507h1v1h-1zM1229 508h1v1h-1zM1230 508h1v1h-1zM1231 509h1v1h-1zM1232 509h1v1h-1zM1233 510h1v1h-1zM1234 510h1v1h-1zM1235 510h1v1h-1zM1236 511h1v1h-1zM1237 511h1v1h-1zM1238 511h1v1h-1zM1239 511h1v1h-1zM1240 512h1v1h-1zM1241 513h1v1h-1zM1242 514h1v1h-1zM1243 515h1v1h-1zM1244 516h1v1h-1zM1245 517h1v1h-1zM1246 518h1v1h-1zM1247 518h1v1h-1zM1248 519h1v1h-1zM1249 519h1v1h-1zM1250 520h1v1h-1zM1251 520h1v1h-1zM1252 521h1v1h-1zM1253 522h1v1h-1zM1254 522h1v1h-1zM1255 523h1v1h-1z" fill="#ff0000"/>
<path d="M4 191h1v1h-1zM5 191h1v1h-1zM6 191h1v1h-1zM7 190h1v1h-1zM8 190h1v1h-1zM9 189h1v1h-1zM10 189h1v1h-1zM11 189h1v1h-1zM12 189h1v1h-1zM13 189h1v1h-1zM14 189h1v1h-1zM15 189h1v1h-1zM16 189h1v1h-1zM17 189h1v1h-1zM18 189h1v1h-1zM19 189h1v1h-1zM20 189h1v1h-1zM21 189h1v1h-1zM22 189h1v1h-1zM23 189h1v1h-1zM24 189h1v1h-1zM25 189h1v1h-1zM26 189h1v1h-1zM27 189h1v1h-1zM28 190h1v1h-1zM29 190h1v1h-1zM30 190h1v1h-1zM31 191h1v1h-1zM32 192h1v1h-1zM33 193h1v1h-1zM34 194h1v1h-1zM35 195h1v1h-1zM36 196h1v1h-1zM37 197h1v1h-1zM38 198h1v1h-1zM39 199h1v1h-1zM40 200h1v1h-1zM41 201h1v1h-1zM42 202h1v1h-1zM43 203h1v2h-1zM44 205h1v1h-1zM45 206h1v1h-1zM46 207h1v2h-1zM47 209h1v1h-1zM48 210h1v1h-1zM49 211h1v2h-1zM50 212h1v1h-1zM51 213h1v1h-1zM52 213h1v1h-1zM53 214h1v1h-1zM54 214h1v1h-1zM55 214h1v1h-1zM56 214h1v1h-1zM57 215h1v1h-1zM58 215h1v1h-1zM59 215h1v1h-1zM60 215h1v1h-1zM61 216h1v1h-1zM62 216h1v1h-1zM63 216h1v1h-1zM64 217h1v1h-1zM65 217h1v1h-1zM66 218h1v1h-1zM67 218h1v1h-1zM68 219h1v1h-1zM69 220h1v1h-1zM70 221h1v1h-1zM71 222h1v1h-1zM72 223h1v1h-1zM73 224h1v2h-1zM74 226h1v1h-1zM75 227h1v2h-1zM76 229h1v3h-1zM77 232h1v2h-1zM78 234h1v2h-1zM79 236h1v2h-1zM80 238h1v2h-1zM81 240h1v2h-1zM82 242h1v3h-1zM83 245h1v2h-1zM84 247h1v2h-1zM85 249h1v2h-1zM86 251h1v2h-1zM87 253h1v2h-1zM88 255h1v1h-1zM89 256h1v2h-1zM90 258h1v2h-1zM91 260h1v1h-1zM92 261h1v2h-1zM93 263h1v1h-1zM94 264h1v2h-1zM95 266h1v1h-1zM96 267h1v1h-1zM97 268h1v2h-1zM98 270h1v1h-1zM99 271h1v1h-1zM100 272h1v1h-1zM101 273h1v1h-1zM102 274h1v1h-1zM103 274h1v1h-1zM104 275h1v1h-1zM105 275h1v1h-1zM106 276h1v1h-1zM107 276h1v1h-1zM108 277h1v1h-1zM109 276h1v1h-1zM110 276h1v1h-1zM111 276h1v1h-1zM112 275h1v1h-1zM113 275h1v1h-1zM114 273h1v2h-1zM115 271h1v2h-1zM116 269h1v2h-1zM117 267h1v2h-1zM118 264h1v3h-1zM119 262h1v2h-1zM120 259h1v3h-1zM121 257h1v2h-1zM122 254h1v3h-1zM123 252h1v2h-1zM124 250h1v2h-1zM125 247h1v3h-1zM126 245h1v2h-1zM127 243h1v2h-1zM128 241h1v2h-1zM129 238h1v3h-1zM130 236h1v2h-1zM131 234h1v2h-1zM132 231h1v3h-1zM133 229h1v2h-1zM134 227h1v2h-1zM135 225h1v2h-1zM136 223h1v2h-1zM137 222h1v1h-1zM138 220h1v2h-1zM139 218h1v2h-1zM140 217h1v1h-1zM141 215h1v2h-1zM142 213h1v2h-1zM143 211h1v2h-1zM144 209h1v2h-1zM145 207h1v2h-1zM146 205h1v2h-1zM147 203h1v2h-1zM148 200h1v3h-1zM149 199h1v1h-1zM150 198h1v1h-1zM151 198h1v1h-1zM152 198h1v1h-1zM153 197h1v1h-1zM154 196h1v1h-1zM155 194h1v2h-1zM156 193h1v1h-1zM157 191h1v2h-1zM158 190h1v1h-1zM159 189h1v1h-1zM160 189h1v1h-1zM161 189h1v1h-1zM162 189h1v1h-1zM163 190h1v1h-1zM164 191h1v1h-1zM165 192h1v1h-1zM166 193h1v1h-1zM167 194h1v1h-1zM168 195h1v1h-1zM169 196h1v1h-1zM170 196h1v1h-1zM171 196h1v1h-1zM172 196h1v1h-1zM173 196h1v1h-1zM174 196h1v1h-1zM175 196h1v1h-1zM176 196h1v1h-1zM177 196h1v1h-1zM178 196h1v1h-1zM179 196h1v1h-1zM180 196h1v1h-1zM181 196h1v1h-1zM182 196h1v1h-1zM183 196h1v1h-1zM184 196h1v1h-1zM185 196h1v1h-1zM186 197h1v1h-1zM187 197h1v1h-1zM188 197h1v1h-1zM189 197h1v1h-1zM190 197h1v1h-1zM191 198h1v1h-1zM192 199h1v1h-1zM193 200h1v1h-1zM194 201h1v1h-1zM195 201h1v1h-1zM196 202h1v1h-1zM197 202h1v1h-1zM198 201h1v1h-1zM199 201h1v1h-1zM200 200h1v1h-1zM201 200h1v1h-1zM202 200h1v1h-1zM203 199h1v1h-1zM204 198h1v1h-1zM205 198h1v1h-1zM206 197h1v1h-1zM207 196h1v1h-1zM208 195h1v1h-1zM209 194h1v1h-1zM210 193h1v1h-1zM211 191h1v2h-1zM212 190h1v1h-1zM213 189h1v1h-1zM214 187h1v2h-1zM215 186h1v1h-1zM216 184h1v2h-1zM217 183h1v1h-1zM218 181h1v2h-1zM219 179h1v2h-1zM220 178h1v1h-1zM221 176h1v2h-1zM222 175h1v1h-1zM223 174h1v1h-1zM224 172h1v2h-1zM225 171h1v1h-1zM226 169h1v2h-1zM227 169h1v1h-1zM228 168h1v1h-1zM229 168h1v1h-1zM230 167h1v1h-1zM231 166h1v1h-1zM232 166h1v1h-1zM233 166h1v1h-1zM234 167h1v1h-1zM235 168h1v1h-1zM236 168h1v1h-1zM237 169h1v1h-1zM238 170h1v1h-1zM239 171h1v1h-1zM240 172h1v1h-1zM241 173h1v2h-1zM242 175h1v2h-1zM243 177h1v1h-1zM244 178h1v2h-1zM245 180h1v2h-1zM246 182h1v2h-1zM247 184h1v2h-1zM248 186h1v1h-1zM249 187h1v2h-1zM250 189h1v2h-1zM251 191h1v2h-1zM252 193h1v2h-1zM253 195h1v2h-1zM254 197h1v3h-1zM255 200h1v3h-1zM256 203h1v3h-1zM257 206h1v3h-1zM258 209h1v4h-1zM259 213h1v2h-1zM260 215h1v3h-1zM261 218h1v2h-1zM262 220h1v3h-1zM263 223h1v2h-1zM264 225h1v2h-1zM265 227h1v1h-1zM266 228h1v2h-1zM267 230h1v2h-1zM268 232h1v1h-1zM269 233h1v1h-1zM270 234h1v1h-1zM271 235h1v1h-1zM272 236h1v1h-1zM273 236h1v1h-1zM274 235h1v1h-1zM275 235h1v1h-1zM276 234h1v1h-1zM277 233h1v1h-1zM278 232h1v1h-1zM279 231h1v1h-1zM280 229h1v2h-1zM281 228h1v1h-1zM282 227h1v1h-1zM283 225h1v2h-1zM284 224h1v1h-1zM285 222h1v2h-1zM286 219h1v3h-1zM287 215h1v4h-1zM288 211h1v4h-1zM289 207h1v4h-1zM290 203h1v4h-1zM291 199h1v4h-1zM292 196h1v3h-1zM293 193h1v3h-1zM294 191h1v2h-1zM295 188h1v3h-1zM296 187h1v1h-1zM297 186h1v1h-1zM298 184h1v2h-1zM299 183h1v1h-1zM300 181h1v2h-1zM301 180h1v1h-1zM302 178h1v2h-1zM303 175h1v3h-1zM304 172h1v3h-1zM305 171h1v1h-1zM306 169h1v2h-1zM307 167h1v2h-1zM308 165h1v2h-1zM309 161h1v4h-1zM310 157h1v4h-1zM311 153h1v4h-1zM312 149h1v4h-1zM313 145h1v4h-1zM314 142h1v3h-1zM315 138h1v4h-1zM316 135h1v3h-1zM317 130h1v5h-1zM318 125h1v5h-1zM319 120h1v5h-1zM320 116h1v4h-1zM321 113h1v3h-1zM322 110h1v3h-1zM323 107h1v3h-1zM324 104h1v3h-1zM325 103h1v1h-1zM326 103h1v1h-1zM327 102h1v1h-1zM328 102h1v1h-1zM329 103h1v1h-1zM330 103h1v1h-1zM331 104h1v1h-1zM332 104h1v1h-1zM333 105h1v2h-1zM334 107h1v1h-1zM335 108h1v1h-1zM336 109h1v2h-1zM337 111h1v1h-1zM338 112h1v1h-1zM339 113h1v1h-1zM340 114h1v1h-1zM341 115h1v2h-1zM342 116h1v1h-1zM343 117h1v1h-1zM344 117h1v1h-1zM345 117h1v1h-1zM346 116h1v1h-1zM347 115h1v1h-1zM348 114h1v1h-1zM349 115h1v1h-1zM350 116h1v2h-1zM351 118h1v1h-1zM352 118h1v1h-1zM353 118h1v1h-1zM354 119h1v1h-1zM355 119h1v1h-1zM356 119h1v1h-1zM357 118h1v1h-1zM358 118h1v1h-1zM359 118h1v1h-1zM360 117h1v1h-1zM361 117h1v1h-1zM362 117h1v1h-1zM363 116h1v1h-1zM364 116h1v1h-1zM365 116h1v1h-1zM366 116h1v1h-1zM367 116h1v1h-1zM368 116h1v1h-1zM369 116h1v1h-1zM370 117h1v1h-1zM371 117h1v1h-1zM372 118h1v1h-1zM373 118h1v1h-1zM374 119h1v1h-1zM375 120h1v1h-1zM376 121h1v1h-1zM377 122h1v2h-1zM378 124h1v1h-1zM379 124h1v1h-1zM380 125h1v2h-1zM381 127h1v2h-1zM382 129h1v2h-1zM383 131h1v2h-1zM384 133h1v3h-1zM385 136h1v2h-1zM386 138h1v2h-1zM387 140h1v2h-1zM388 142h1v2h-1zM389 144h1v2h-1zM390 146h1v2h-1zM391 148h1v2h-1zM392 150h1v1h-1zM393 151h1v1h-1zM394 151h1v1h-1zM395 151h1v1h-1zM396 152h1v1h-1zM397 152h1v1h-1zM398 153h1v1h-1zM399 154h1v1h-1zM400 155h1v1h-1zM401 154h1v1h-1zM402 153h1v1h-1zM403 152h1v1h-1zM404 151h1v1h-1zM405 150h1v1h-1zM406 149h1v1h-1zM407 147h1v2h-1zM408 146h1v1h-1zM409 145h1v1h-1zM410 144h1v1h-1zM411 143h1v1h-1zM412 142h1v1h-1zM413 141h1v1h-1zM414 140h1v1h-1zM415 140h1v1h-1zM416 139h1v1h-1zM417 138h1v1h-1zM418 137h1v1h-1zM419 135h1v2h-1zM420 134h1v1h-1zM421 133h1v1h-1zM422 132h1v1h-1zM423 131h1v1h-1zM424 130h1v1h-1zM425 129h1v1h-1zM426 129h1v1h-1zM427 128h1v1h-1zM428 127h1v1h-1zM429 127h1v1h-1zM430 127h1v1h-1zM431 127h1v1h-1zM432 126h1v1h-1zM433 126h1v1h-1zM434 126h1v1h-1zM435 125h1v1h-1zM436 124h1v1h-1zM437 123h1v1h-1zM438 122h1v1h-1zM439 122h1v1h-1zM440 122h1v1h-1zM441 122h1v1h-1zM442 122h1v1h-1zM443 123h1v1h-1zM444 123h1v1h-1zM445 123h1v1h-1zM446 124h1v1h-1zM447 124h1v1h-1zM448 125h1v1h-1zM449 125h1v1h-1zM450 126h1v1h-1zM451 126h1v1h-1zM452 127h1v1h-1zM453 128h1v1h-1zM454 128h1v1h-1zM455 129h1v1h-1zM456 129h1v1h-1zM457 127h1v2h-1zM458 126h1v1h-1zM459 124h1v2h-1zM460 123h1v1h-1zM461 121h1v2h-1zM462 120h1v1h-1zM463 118h1v2h-1zM464 117h1v1h-1zM465 115h1v2h-1zM466 113h1v2h-1zM467 112h1v1h-1zM468 110h1v2h-1zM469 108h1v2h-1zM470 107h1v1h-1zM471 105h1v2h-1zM472 104h1v1h-1zM473 102h1v2h-1zM474 101h1v1h-1zM475 99h1v2h-1zM476 98h1v1h-1zM477 99h1v1h-1zM478 100h1v1h-1zM479 101h1v1h-1zM480 102h1v2h-1zM481 104h1v2h-1zM482 106h1v2h-1zM483 108h1v2h-1zM484 110h1v2h-1zM485 112h1v1h-1zM486 113h1v1h-1zM487 114h1v1h-1zM488 115h1v1h-1zM489 116h1v1h-1zM490 116h1v1h-1zM491 117h1v1h-1zM492 117h1v1h-1zM493 118h1v1h-1zM494 118h1v1h-1zM495 119h1v1h-1zM496 119h1v1h-1zM497 120h1v1h-1zM498 120h1v1h-1zM499 119h1v1h-1zM500 118h1v1h-1zM501 117h1v1h-1zM502 117h1v1h-1zM503 116h1v1h-1zM504 115h1v1h-1zM505 114h1v1h-1zM506 112h1v2h-1zM507 111h1v1h-1zM508 110h1v1h-1zM509 109h1v1h-1zM510 108h1v1h-1zM511 107h1v1h-1zM512 106h1v1h-1zM513 105h1v1h-1zM514 104h1v1h-1zM515 104h1v1h-1zM516 104h1v1h-1zM517 103h1v1h-1zM518 103h1v1h-1zM519 103h1v1h-1zM520 103h1v1h-1zM521 104h1v1h-1zM522 104h1v1h-1zM523 105h1v1h-1zM524 106h1v1h-1zM525 106h1v1h-1zM526 106h1v1h-1zM527 105h1v1h-1zM528 105h1v1h-1zM529 105h1v1h-1zM530 105h1v1h-1zM531 104h1v1h-1zM532 103h1v1h-1zM533 103h1v1h-1zM534 102h1v1h-1zM535 101h1v1h-1zM536 100h1v1h-1zM537 99h1v1h-1zM538 98h1v1h-1zM539 96h1v2h-1zM540 95h1v1h-1zM541 93h1v2h-1zM542 92h1v1h-1zM543 90h1v2h-1zM544 88h1v2h-1zM545 87h1v1h-1zM546 85h1v2h-1zM547 83h1v2h-1zM548 81h1v2h-1zM549 80h1v1h-1zM550 80h1v1h-1zM551 79h1v1h-1zM552 79h1v1h-1zM553 78h1v1h-1zM554 78h1v1h-1zM555 77h1v1h-1zM556 77h1v1h-1zM557 76h1v1h-1zM558 76h1v1h-1zM559 76h1v1h-1zM560 76h1v1h-1zM561 76h1v1h-1zM562 76h1v1h-1zM563 77h1v1h-1zM564 78h1v1h-1zM565 79h1v2h-1zM566 81h1v2h-1zM567 83h1v3h-1zM568 86h1v2h-1zM569 88h1v2h-1zM570 90h1v1h-1zM571 91h1v2h-1zM572 93h1v2h-1zM573 95h1v2h-1zM574 97h1v2h-1zM575 99h1v2h-1zM576 101h1v2h-1zM577 103h1v2h-1zM578 105h1v2h-1zM579 107h1v3h-1zM580 110h1v2h-1zM581 112h1v2h-1zM582 114h1v3h-1zM583 117h1v2h-1zM584 119h1v2h-1zM585 121h1v2h-1zM586 123h1v3h-1zM587 126h1v2h-1zM588 128h1v2h-1zM589 130h1v1h-1zM590 131h1v2h-1zM591 133h1v2h-1zM592 135h1v2h-1zM593 137h1v1h-1zM594 138h1v2h-1zM595 140h1v2h-1zM596 142h1v1h-1zM597 143h1v1h-1zM598 143h1v1h-1zM599 143h1v1h-1zM600 143h1v1h-1zM601 143h1v1h-1zM602 142h1v1h-1zM603 142h1v1h-1zM604 142h1v1h-1zM605 141h1v1h-1zM606 141h1v1h-1zM607 140h1v1h-1zM608 140h1v1h-1zM609 139h1v1h-1zM610 139h1v1h-1zM611 138h1v1h-1zM612 138h1v1h-1zM613 138h1v1h-1zM614 136h1v2h-1zM615 135h1v1h-1zM616 134h1v1h-1zM617 133h1v1h-1zM618 133h1v1h-1zM619 133h1v1h-1zM620 132h1v1h-1zM621 132h1v1h-1zM622 131h1v1h-1zM623 131h1v1h-1zM624 131h1v1h-1zM625 131h1v1h-1zM626 131h1v1h-1zM627 131h1v1h-1zM628 132h1v1h-1zM629 132h1v1h-1zM630 132h1v1h-1zM631 133h1v1h-1zM632 133h1v1h-1zM633 134h1v1h-1zM634 135h1v1h-1zM635 136h1v1h-1zM636 137h1v1h-1zM637 138h1v1h-1zM638 139h1v1h-1zM639 140h1v1h-1zM640 140h1v1h-1zM641 141h1v1h-1zM642 141h1v1h-1zM643 141h1v1h-1zM644 141h1v1h-1zM645 141h1v1h-1zM646 141h1v1h-1zM647 141h1v1h-1zM648 141h1v1h-1zM649 141h1v1h-1zM650 140h1v1h-1zM651 140h1v1h-1zM652 140h1v1h-1zM653 139h1v1h-1zM654 138h1v1h-1zM655 137h1v1h-1zM656 136h1v1h-1zM657 135h1v1h-1zM658 134h1v1h-1zM659 133h1v1h-1zM660 133h1v1h-1zM661 133h1v1h-1zM662 133h1v1h-1zM663 133h1v1h-1zM664 133h1v1h-1zM665 134h1v1h-1zM666 134h1v1h-1zM667 135h1v1h-1zM668 136h1v1h-1zM669 136h1v1h-1zM670 137h1v1h-1zM671 137h1v1h-1zM672 137h1v1h-1zM673 138h1v1h-1zM674 138h1v1h-1zM675 139h1v1h-1zM676 140h1v1h-1zM677 140h1v1h-1zM678 141h1v1h-1zM679 142h1v1h-1zM680 142h1v1h-1zM681 143h1v2h-1zM682 145h1v1h-1zM683 146h1v2h-1zM684 148h1v2h-1zM685 150h1v2h-1zM686 152h1v2h-1zM687 154h1v2h-1zM688 156h1v2h-1zM689 158h1v2h-1zM690 160h1v2h-1zM691 162h1v2h-1zM692 164h1v2h-1zM693 166h1v3h-1zM694 169h1v3h-1zM695 172h1v3h-1zM696 175h1v3h-1zM697 178h1v2h-1zM698 180h1v2h-1zM699 182h1v2h-1zM700 184h1v1h-1zM701 184h1v1h-1zM702 185h1v1h-1zM703 185h1v1h-1zM704 185h1v1h-1zM705 185h1v1h-1zM706 186h1v1h-1zM707 186h1v1h-1zM708 186h1v1h-1zM709 186h1v1h-1zM710 187h1v1h-1zM711 187h1v1h-1zM712 187h1v1h-1zM713 187h1v1h-1zM714 188h1v1h-1zM715 188h1v1h-1zM716 188h1v1h-1zM717 189h1v1h-1zM718 189h1v1h-1zM719 190h1v1h-1zM720 190h1v1h-1zM721 191h1v1h-1zM722 191h1v1h-1zM723 192h1v1h-1zM724 192h1v1h-1zM725 193h1v1h-1zM726 194h1v1h-1zM727 194h1v1h-1zM728 195h1v1h-1zM729 195h1v1h-1zM730 196h1v1h-1zM731 196h1v1h-1zM732 197h1v1h-1zM733 197h1v1h-1zM734 197h1v1h-1zM735 198h1v1h-1zM736 197h1v1h-1zM737 197h1v1h-1zM738 197h1v1h-1zM739 196h1v1h-1zM740 196h1v1h-1zM741 195h1v1h-1zM742 194h1v1h-1zM743 193h1v1h-1zM744 192h1v1h-1zM745 192h1v1h-1zM746 191h1v1h-1zM747 190h1v1h-1zM748 190h1v1h-1zM749 189h1v1h-1zM750 188h1v1h-1zM751 186h1v2h-1zM752 185h1v1h-1zM753 184h1v1h-1zM754 183h1v1h-1zM755 183h1v1h-1zM756 183h1v1h-1zM757 183h1v1h-1zM758 183h1v1h-1zM759 183h1v1h-1zM760 182h1v1h-1zM761 182h1v1h-1zM762 182h1v1h-1zM763 182h1v1h-1zM764 182h1v1h-1zM765 182h1v1h-1zM766 182h1v1h-1zM767 183h1v1h-1zM768 184h1v1h-1zM769 185h1v1h-1zM770 186h1v1h-1zM771 187h1v1h-1zM772 188h1v1h-1zM773 189h1v1h-1zM774 189h1v1h-1zM775 190h1v1h-1zM776 191h1v1h-1zM777 192h1v1h-1zM778 193h1v1h-1zM779 193h1v1h-1zM780 194h1v1h-1zM781 195h1v1h-1zM782 196h1v1h-1zM783 197h1v1h-1zM784 198h1v1h-1zM785 199h1v2h-1zM786 201h1v2h-1zM787 203h1v2h-1zM788 205h1v3h-1zM789 208h1v1h-1zM790 209h1v2h-1zM791 211h1v1h-1zM792 212h1v1h-1zM793 213h1v1h-1zM794 213h1v1h-1zM795 214h1v1h-1zM796 215h1v1h-1zM797 215h1v1h-1zM798 216h1v1h-1zM799 216h1v1h-1zM800 217h1v1h-1zM801 217h1v1h-1zM802 218h1v1h-1zM803 218h1v1h-1zM804 219h1v1h-1zM805 219h1v1h-1zM806 219h1v1h-1zM807 219h1v1h-1zM808 218h1v1h-1zM809 218h1v1h-1zM810 219h1v1h-1zM811 219h1v1h-1zM812 220h1v1h-1zM813 220h1v1h-1zM814 221h1v1h-1zM815 222h1v1h-1zM816 222h1v1h-1zM817 223h1v1h-1zM818 224h1v1h-1zM819 225h1v1h-1zM820 226h1v1h-1zM821 227h1v1h-1zM822 228h1v1h-1zM823 229h1v1h-1zM824 230h1v1h-1zM825 230h1v1h-1zM826 231h1v1h-1zM827 232h1v1h-1zM828 233h1v1h-1zM829 234h1v1h-1zM830 235h1v1h-1zM831 235h1v1h-1zM832 236h1v1h-1zM833 237h1v1h-1zM834 238h1v1h-1zM835 239h1v1h-1zM836 240h1v1h-1zM837 241h1v1h-1zM838 242h1v1h-1zM839 243h1v1h-1zM840 244h1v1h-1zM841 245h1v1h-1zM842 245h1v1h-1zM843 246h1v1h-1zM844 247h1v1h-1zM845 247h1v1h-1zM846 248h1v1h-1zM847 248h1v1h-1zM848 248h1v1h-1zM849 249h1v1h-1zM850 249h1v1h-1zM851 249h1v1h-1zM852 249h1v1h-1zM853 249h1v1h-1zM854 249h1v1h-1zM855 249h1v1h-1zM856 249h1v1h-1zM857 250h1v1h-1zM858 251h1v1h-1zM859 251h1v1h-1zM860 252h1v1h-1zM861 253h1v1h-1zM862 254h1v1h-1zM863 255h1v1h-1zM864 256h1v2h-1zM865 258h1v2h-1zM866 260h1v2h-1zM867 262h1v1h-1zM868 263h1v2h-1zM869 265h1v2h-1zM870 267h1v2h-1zM871 269h1v2h-1zM872 271h1v2h-1zM873 273h1v2h-1zM874 275h1v2h-1zM875 277h1v2h-1zM876 279h1v2h-1zM877 281h1v3h-1zM878 284h1v2h-1zM879 286h1v1h-1zM880 287h1v2h-1zM881 289h1v2h-1zM882 291h1v2h-1zM883 293h1v1h-1zM884 294h1v1h-1zM885 295h1v1h-1zM886 296h1v1h-1zM887 296h1v1h-1zM888 297h1v1h-1zM889 298h1v1h-1zM890 299h1v1h-1zM891 299h1v1h-1zM892 300h1v1h-1zM893 300h1v1h-1zM894 301h1v1h-1zM895 302h1v1h-1zM896 301h1v1h-1zM897 301h1v1h-1zM898 301h1v1h-1zM899 301h1v1h-1zM900 300h1v1h-1zM901 300h1v1h-1zM902 300h1v1h-1zM903 300h1v1h-1zM904 300h1v1h-1zM905 300h1v1h-1zM906 300h1v1h-1zM907 301h1v1h-1zM908 301h1v1h-1zM909 301h1v1h-1zM910 301h1v1h-1zM911 301h1v1h-1zM912 302h1v1h-1zM913 302h1v1h-1zM914 302h1v1h-1zM915 302h1v1h-1zM916 302h1v1h-1zM917 302h1v1h-1zM918 303h1v1h-1zM919 303h1v1h-1zM920 303h1v1h-1zM921 303h1v1h-1zM922 304h1v2h-1zM923 306h1v2h-1zM924 308h1v1h-1zM925 309h1v2h-1zM926 311h1v2h-1zM927 313h1v3h-1zM928 316h1v2h-1zM929 318h1v2h-1zM930 320h1v3h-1zM931 323h1v3h-1zM932 326h1v2h-1zM933 328h1v3h-1zM934 331h1v2h-1zM935 333h1v3h-1zM936 336h1v2h-1zM937 338h1v2h-1zM938 340h1v2h-1zM939 342h1v3h-1zM940 345h1v1h-1zM941 346h1v2h-1zM942 348h1v1h-1zM943 349h1v2h-1zM944 350h1v1h-1zM945 349h1v1h-1zM946 348h1v1h-1zM947 347h1v1h-1zM948 346h1v1h-1zM949 345h1v1h-1zM950 344h1v1h-1zM951 342h1v2h-1zM952 341h1v1h-1zM953 339h1v2h-1zM954 337h1v2h-1zM955 335h1v2h-1zM956 333h1v2h-1zM957 331h1v2h-1zM958 329h1v2h-1zM959 327h1v2h-1zM960 325h1v2h-1zM961 323h1v2h-1zM962 321h1v2h-1zM963 320h1v1h-1zM964 318h1v2h-1zM965 317h1v1h-1zM966 316h1v1h-1zM967 315h1v1h-1zM968 314h1v1h-1zM969 313h1v1h-1zM970 312h1v1h-1zM971 311h1v1h-1zM972 310h1v1h-1zM973 309h1v1h-1zM974 309h1v1h-1zM975 309h1v1h-1zM976 309h1v1h-1zM977 309h1v1h-1zM978 310h1v2h-1zM979 312h1v1h-1zM980 313h1v3h-1zM981 316h1v3h-1zM982 319h1v4h-1zM983 323h1v3h-1zM984 326h1v3h-1zM985 329h1v3h-1zM986 332h1v2h-1zM987 334h1v3h-1zM988 337h1v2h-1zM989 339h1v2h-1zM990 341h1v2h-1zM991 343h1v2h-1zM992 345h1v3h-1zM993 348h1v3h-1zM994 351h1v3h-1zM995 354h1v3h-1zM996 357h1v3h-1zM997 360h1v3h-1zM998 363h1v3h-1zM999 366h1v3h-1zM1000 368h1v1h-1zM1001 369h1v1h-1zM1002 369h1v1h-1zM1003 370h1v1h-1zM1004 370h1v1h-1zM1005 371h1v1h-1zM1006 372h1v1h-1zM1007 373h1v1h-1zM1008 374h1v1h-1zM1009 375h1v2h-1zM1010 377h1v2h-1zM1011 379h1v2h-1zM1012 381h1v2h-1zM1013 383h1v2h-1zM1014 385h1v1h-1zM1015 386h1v2h-1zM1016 388h1v1h-1zM1017 387h1v1h-1zM1018 387h1v1h-1zM1019 386h1v1h-1zM1020 386h1v1h-1zM1021 385h1v1h-1zM1022 385h1v1h-1zM1023 385h1v1h-1zM1024 385h1v1h-1zM1025 386h1v1h-1zM1026 387h1v1h-1zM1027 388h1v1h-1zM1028 389h1v1h-1zM1029 388h1v1h-1zM1030 387h1v1h-1zM1031 386h1v1h-1zM1032 385h1v1h-1zM1033 384h1v1h-1zM1034 384h1v1h-1zM1035 384h1v1h-1zM1036 384h1v1h-1zM1037 385h1v2h-1zM1038 387h1v1h-1zM1039 388h1v2h-1zM1040 390h1v2h-1zM1041 392h1v2h-1zM1042 394h1v2h-1zM1043 396h1v2h-1zM1044 398h1v2h-1zM1045 400h1v2h-1zM1046 402h1v3h-1zM1047 405h1v2h-1zM1048 407h1v3h-1zM1049 410h1v2h-1zM1050 412h1v2h-1zM1051 414h1v3h-1zM1052 417h1v1h-1zM1053 418h1v1h-1zM1054 419h1v1h-1zM1055 420h1v1h-1zM1056 421h1v1h-1zM1057 422h1v1h-1zM1058 422h1v1h-1zM1059 423h1v1h-1zM1060 423h1v1h-1zM1061 424h1v1h-1zM1062 424h1v1h-1zM1063 425h1v1h-1zM1064 424h1v1h-1zM1065 424h1v1h-1zM1066 423h1v1h-1zM1067 422h1v1h-1zM1068 420h1v2h-1zM1069 417h1v3h-1zM1070 415h1v2h-1zM1071 413h1v2h-1zM1072 411h1v2h-1zM1073 409h1v2h-1zM1074 407h1v2h-1zM1075 405h1v2h-1zM1076 403h1v2h-1zM1077 401h1v2h-1zM1078 399h1v2h-1zM1079 398h1v1h-1zM1080 396h1v2h-1zM1081 395h1v1h-1zM1082 394h1v1h-1zM1083 393h1v1h-1zM1084 391h1v2h-1zM1085 392h1v1h-1zM1086 392h1v1h-1zM1087 392h1v1h-1zM1088 392h1v1h-1zM1089 392h1v1h-1zM1090 393h1v1h-1zM1091 394h1v1h-1zM1092 395h1v1h-1zM1093 396h1v2h-1zM1094 398h1v1h-1zM1095 399h1v1h-1zM1096 400h1v2h-1zM1097 402h1v3h-1zM1098 405h1v2h-1zM1099 407h1v3h-1zM1100 410h1v3h-1zM1101 413h1v2h-1zM1102 415h1v3h-1zM1103 418h1v3h-1zM1104 421h1v4h-1zM1105 425h1v3h-1zM1106 428h1v4h-1zM1107 432h1v4h-1zM1108 436h1v3h-1zM1109 439h1v4h-1zM1110 443h1v4h-1zM1111 447h1v2h-1zM1112 449h1v3h-1zM1113 452h1v3h-1zM1114 455h1v3h-1zM1115 458h1v1h-1zM1116 459h1v2h-1zM1117 461h1v1h-1zM1118 462h1v2h-1zM1119 464h1v1h-1zM1120 464h1v1h-1zM1121 464h1v1h-1zM1122 464h1v1h-1zM1123 464h1v1h-1zM1124 464h1v1h-1zM1125 463h1v1h-1zM1126 463h1v1h-1zM1127 462h1v1h-1zM1128 461h1v1h-1zM1129 461h1v1h-1zM1130 460h1v1h-1zM1131 460h1v1h-1zM1132 459h1v1h-1zM1133 460h1v1h-1zM1134 461h1v1h-1zM1135 462h1v1h-1zM1136 463h1v1h-1zM1137 464h1v1h-1zM1138 465h1v1h-1zM1139 466h1v2h-1zM1140 468h1v2h-1zM1141 470h1v2h-1zM1142 472h1v2h-1zM1143 474h1v2h-1zM1144 476h1v2h-1zM1145 478h1v1h-1zM1146 479h1v2h-1zM1147 481h1v2h-1zM1148 483h1v1h-1zM1149 484h1v2h-1zM1150 486h1v1h-1zM1151 487h1v1h-1zM1152 488h1v1h-1zM1153 489h1v2h-1zM1154 491h1v1h-1zM1155 492h1v2h-1zM1156 494h1v1h-1zM1157 495h1v1h-1zM1158 495h1v1h-1zM1159 496h1v1h-1zM1160 496h1v1h-1zM1161 495h1v1h-1zM1162 494h1v1h-1zM1163 492h1v2h-1zM1164 491h1v1h-1zM1165 490h1v1h-1zM1166 490h1v1h-1zM1167 489h1v1h-1zM1168 488h1v1h-1zM1169 488h1v1h-1zM1170 488h1v1h-1zM1171 488h1v1h-1zM1172 488h1v1h-1zM1173 487h1v1h-1zM1174 487h1v1h-1zM1175 486h1v1h-1zM1176 486h1v1h-1zM1177 486h1v1h-1zM1178 485h1v1h-1zM1179 485h1v1h-1zM1180 485h1v1h-1zM1181 485h1v1h-1zM1182 485h1v1h-1zM1183 486h1v1h-1zM1184 486h1v1h-1zM1185 487h1v1h-1zM1186 487h1v1h-1zM1187 488h1v1h-1zM1188 488h1v1h-1zM1189 488h1v1h-1zM1190 489h1v1h-1zM1191 489h1v1h-1zM1192 490h1v1h-1zM1193 490h1v1h-1zM1194 491h1v1h-1zM1195 492h1v1h-1zM1196 493h1v1h-1zM1197 493h1v1h-1zM1198 494h1v1h-1zM1199 495h1v2h-1zM1200 497h1v1h-1zM1201 498h1v2h-1zM1202 500h1v1h-1zM1203 501h1v2h-1zM1204 503h1v2h-1zM1205 505h1v2h-1zM1206 507h1v2h-1zM1207 509h1v2h-1zM1208 511h1v2h-1zM1209 513h1v3h-1zM1210 516h1v1h-1zM1211 517h1v2h-1zM1212 519h1v1h-1zM1213 520h1v2h-1zM1214 522h1v1h-1zM1215 523h1v1h-1zM1216 524h1v1h-1zM1217 524h1v1h-1zM1218 525h1v1h-1zM1219 525h1v1h-1zM1220 526h1v1h-1zM1221 525h1v1h-1zM1222 524h1v1h-1zM1223 523h1v1h-1zM1224 522h1v1h-1zM1225 521h1v1h-1zM1226 520h1v1h-1zM1227 519h1v1h-1zM1228 518h1v1h-1zM1229 517h1v1h-1zM1230 516h1v1h-1zM1231 515h1v1h-1zM1232 515h1v1h-1zM1233 514h1v1h-1zM1234 514h1v1h-1zM1235 513h1v1h-1zM1236 513h1v1h-1zM1237 513h1v1h-1zM1238 513h1v1h-1zM1239 513h1v1h-1zM1240 513h1v1h-1zM1241 514h1v1h-1zM1242 515h1v1h-1zM1243 516h1v1h-1zM1244 516h1v1h-1zM1245 517h1v1h-1zM1246 518h1v1h-1zM1247 519h1v1h-1zM1248 520h1v1h-1zM1249 521h1v1h-1zM1250 521h1v1h-1zM1251 522h1v1h-1zM1252 522h1v1h-1zM1253 523h1v1h-1zM1254 523h1v1h-1zM1255 524h1v1h-1z" fill="#ffa500"/>
<rect x="4" y="118" width="1577" height="2" fill="#ff0000"/>
<rect x="4" y="187" width="1577" height="2" fill="#ff0000"/>
<rect x="4" y="265" width="1577" height="2" fill="#ff0000"/>
<rect x="4" y="354" width="1577" height="2" fill="#ff0000"/>
<rect x="4" y="448" width="1577" height="2" fill="#00ff00"/>
<rect x="4" y="517" width="1577" height="2" fill="#0000ff"/>
<path d="M4 609h1v1h-1zM5 609h1v1h-1zM6 609h1v1h-1zM7 609h1v1h-1zM8 608h1v1h-1zM9 608h1v1h-1zM10 607h1v1h-1zM11 607h1v1h-1zM12 606h1v1h-1zM13 606h1v1h-1zM14 606h1v1h-1zM15 606h1v1h-1zM16 606h1v1h-1zM17 607h1v1h-1zM18 607h1v1h-1zM19 608h1v1h-1zM20 608h1v1h-1zM21 609h1v1h-1zM22 610h1v1h-1zM23 611h1v1h-1zM24 612h1v1h-1zM25 612h1v1h-1zM26 611h1v1h-1zM27 611h1v1h-1zM28 611h1v1h-1zM29 611h1v1h-1zM30 611h1v1h-1zM31 611h1v1h-1zM32 611h1v1h-1zM33 612h1v1h-1zM34 613h1v1h-1zM35 614h1v1h-1zM36 615h1v1h-1zM37 616h1v1h-1zM38 617h1v1h-1zM39 618h1v1h-1zM40 619h1v1h-1zM41 619h1v1h-1zM42 619h1v1h-1zM43 620h1v1h-1zM44 620h1v1h-1zM45 620h1v1h-1zM46 620h1v1h-1zM47 620h1v1h-1zM48 620h1v1h-1zM49 619h1v1h-1zM50 619h1v1h-1zM51 618h1v1h-1zM52 618h1v1h-1zM53 618h1v1h-1zM54 618h1v1h-1zM55 618h1v1h-1zM56 617h1v1h-1zM57 617h1v1h-1zM58 616h1v1h-1zM59 615h1v1h-1zM60 614h1v1h-1zM61 615h1v2h-1zM62 617h1v2h-1zM63 619h1v2h-1zM64 621h1v1h-1zM65 621h1v1h-1zM66 621h1v1h-1zM67 621h1v1h-1zM68 621h1v1h-1zM69 622h1v1h-1zM70 623h1v1h-1zM71 624h1v1h-1zM72 625h1v1h-1zM73 626h1v1h-1zM74 626h1v1h-1zM75 627h1v1h-1zM76 628h1v1h-1zM77 628h1v1h-1zM78 628h1v1h-1zM79 628h1v1h-1zM80 628h1v1h-1zM81 629h1v1h-1zM82 630h1v1h-1zM83 631h1v1h-1zM84 631h1v1h-1zM85 632h1v1h-1zM86 632h1v1h-1zM87 633h1v1h-1zM88 633h1v1h-1zM89 631h1v2h-1zM90 630h1v1h-1zM91 629h1v1h-1zM92 628h1v1h-1zM93 628h1v1h-1zM94 629h1v1h-1zM95 630h1v1h-1zM96 631h1v1h-1zM97 631h1v1h-1zM98 631h1v1h-1zM99 632h1v1h-1zM100 632h1v1h-1zM101 632h1v1h-1zM102 632h1v1h-1zM103 632h1v1h-1zM104 632h1v1h-1zM105 631h1v1h-1zM106 631h1v1h-1zM107 630h1v1h-1zM108 629h1v1h-1zM109 624h1v5h-1zM110 619h1v5h-1zM111 614h1v5h-1zM112 611h1v3h-1zM113 610h1v1h-1zM114 610h1v1h-1zM115 610h1v1h-1zM116 609h1v1h-1zM117 607h1v2h-1zM118 605h1v2h-1zM119 603h1v2h-1zM120 601h1v2h-1zM121 601h1v1h-1zM122 602h1v1h-1zM123 603h1v1h-1zM124 603h1v1h-1zM125 603h1v1h-1zM126 603h1v1h-1zM127 603h1v1h-1zM128 602h1v1h-1zM129 598h1v4h-1zM130 595h1v3h-1zM131 592h1v3h-1zM132 590h1v2h-1zM133 591h1v1h-1zM134 592h1v1h-1zM135 593h1v1h-1zM136 594h1v1h-1zM137 594h1v1h-1zM138 595h1v1h-1zM139 595h1v1h-1zM140 595h1v1h-1zM141 594h1v1h-1zM142 592h1v2h-1zM143 590h1v2h-1zM144 589h1v1h-1zM145 589h1v1h-1zM146 589h1v1h-1zM147 589h1v1h-1zM148 589h1v1h-1zM149 589h1v1h-1zM150 589h1v1h-1zM151 589h1v1h-1zM152 590h1v1h-1zM153 589h1v1h-1zM154 588h1v1h-1zM155 588h1v1h-1zM156 587h1v1h-1zM157 588h1v2h-1zM158 590h1v1h-1zM159 591h1v2h-1zM160 593h1v2h-1zM161 595h1v1h-1zM162 596h1v1h-1zM163 597h1v2h-1zM164 599h1v1h-1zM165 600h1v1h-1zM166 599h1v1h-1zM167 599h1v1h-1zM168 599h1v1h-1zM169 598h1v1h-1zM170 597h1v1h-1zM171 596h1v1h-1zM172 595h1v1h-1zM173 594h1v1h-1zM174 593h1v1h-1zM175 593h1v1h-1zM176 593h1v1h-1zM177 594h1v1h-1zM178 595h1v2h-1zM179 597h1v1h-1zM180 598h1v1h-1zM181 599h1v1h-1zM182 600h1v1h-1zM183 601h1v2h-1zM184 603h1v1h-1zM185 603h1v1h-1zM186 602h1v1h-1zM187 602h1v1h-1zM188 602h1v1h-1zM189 601h1v1h-1zM190 601h1v1h-1zM191 600h1v1h-1zM192 600h1v1h-1zM193 599h1v1h-1zM194 599h1v1h-1zM195 598h1v1h-1zM196 597h1v1h-1zM197 597h1v1h-1zM198 598h1v1h-1zM199 598h1v1h-1zM200 598h1v1h-1zM201 599h1v1h-1zM202 599h1v1h-1zM203 600h1v1h-1zM204 601h1v1h-1zM205 600h1v1h-1zM206 599h1v1h-1zM207 597h1v2h-1zM208 596h1v1h-1zM209 595h1v1h-1zM210 595h1v1h-1zM211 595h1v1h-1zM212 594h1v1h-1zM213 593h1v1h-1zM214 591h1v2h-1zM215 590h1v1h-1zM216 588h1v2h-1zM217 588h1v1h-1zM218 588h1v1h-1zM219 588h1v1h-1zM220 589h1v1h-1zM221 589h1v1h-1zM222 589h1v1h-1zM223 590h1v1h-1zM224 590h1v1h-1zM225 591h1v1h-1zM226 592h1v1h-1zM227 593h1v1h-1zM228 593h1v1h-1zM229 594h1v1h-1zM230 594h1v1h-1zM231 594h1v1h-1zM232 595h1v1h-1zM233 594h1v1h-1zM234 594h1v1h-1zM235 593h1v1h-1zM236 594h1v1h-1zM237 595h1v2h-1zM238 597h1v2h-1zM239 599h1v2h-1zM240 601h1v1h-1zM241 602h1v1h-1zM242 603h1v2h-1zM243 605h1v1h-1zM244 606h1v1h-1zM245 606h1v1h-1zM246 606h1v1h-1zM247 607h1v1h-1zM248 607h1v1h-1zM249 608h1v1h-1zM250 609h1v2h-1zM251 611h1v1h-1zM252 612h1v1h-1zM253 613h1v1h-1zM254 614h1v1h-1zM255 615h1v1h-1zM256 616h1v1h-1zM257 617h1v1h-1zM258 618h1v1h-1zM259 619h1v1h-1zM260 620h1v1h-1zM261 619h1v1h-1zM262 617h1v2h-1zM263 616h1v1h-1zM264 614h1v2h-1zM265 614h1v1h-1zM266 614h1v1h-1zM267 615h1v1h-1zM268 615h1v1h-1zM269 615h1v1h-1zM270 615h1v1h-1zM271 616h1v1h-1zM272 616h1v1h-1zM273 615h1v1h-1zM274 613h1v2h-1zM275 612h1v1h-1zM276 611h1v1h-1zM277 610h1v1h-1zM278 609h1v1h-1zM279 607h1v2h-1zM280 606h1v1h-1zM281 606h1v1h-1zM282 607h1v1h-1zM283 607h1v1h-1zM284 606h1v1h-1zM285 601h1v5h-1zM286 597h1v4h-1zM287 592h1v5h-1zM288 591h1v1h-1zM289 591h1v1h-1zM290 592h1v1h-1zM291 593h1v1h-1zM292 593h1v1h-1zM293 593h1v1h-1zM294 593h1v1h-1zM295 593h1v1h-1zM296 594h1v1h-1zM297 595h1v2h-1zM298 597h1v2h-1zM299 599h1v2h-1zM300 601h1v1h-1zM301 599h1v2h-1zM302 598h1v1h-1zM303 596h1v2h-1zM304 595h1v1h-1zM305 593h1v2h-1zM306 591h1v2h-1zM307 589h1v2h-1zM308 588h1v1h-1zM309 587h1v1h-1zM310 585h1v2h-1zM311 584h1v1h-1zM312 583h1v1h-1zM313 582h1v1h-1zM314 583h1v1h-1zM315 584h1v1h-1zM316 584h1v1h-1zM317 585h1v1h-1zM318 585h1v1h-1zM319 585h1v1h-1zM320 585h1v1h-1zM321 585h1v1h-1zM322 585h1v1h-1zM323 586h1v1h-1zM324 587h1v1h-1zM325 588h1v2h-1zM326 590h1v2h-1zM327 592h1v3h-1zM328 595h1v1h-1zM329 594h1v1h-1zM330 592h1v2h-1zM331 591h1v1h-1zM332 590h1v1h-1zM333 591h1v2h-1zM334 593h1v2h-1zM335 595h1v2h-1zM336 597h1v2h-1zM337 597h1v1h-1zM338 596h1v1h-1zM339 595h1v1h-1zM340 595h1v1h-1zM341 596h1v1h-1zM342 596h1v1h-1zM343 597h1v1h-1zM344 598h1v1h-1zM345 597h1v1h-1zM346 596h1v1h-1zM347 595h1v1h-1zM348 595h1v1h-1zM349 596h1v1h-1zM350 597h1v1h-1zM351 598h1v2h-1zM352 600h1v1h-1zM353 599h1v1h-1zM354 598h1v1h-1zM355 597h1v1h-1zM356 597h1v1h-1zM357 598h1v1h-1zM358 598h1v1h-1zM359 599h1v1h-1zM360 600h1v1h-1zM361 599h1v1h-1zM362 598h1v1h-1zM363 598h1v1h-1zM364 597h1v1h-1zM365 597h1v1h-1zM366 597h1v1h-1zM367 597h1v1h-1zM368 598h1v1h-1zM369 598h1v1h-1zM370 598h1v1h-1zM371 598h1v1h-1zM372 599h1v1h-1zM373 600h1v1h-1zM374 601h1v2h-1zM375 603h1v2h-1zM376 605h1v2h-1zM377 605h1v1h-1zM378 605h1v1h-1zM379 604h1v1h-1zM380 604h1v1h-1zM381 604h1v1h-1zM382 604h1v1h-1zM383 605h1v1h-1zM384 605h1v1h-1zM385 605h1v1h-1zM386 606h1v1h-1zM387 606h1v1h-1zM388 607h1v1h-1zM389 607h1v1h-1zM390 607h1v1h-1zM391 607h1v1h-1zM392 607h1v1h-1zM393 606h1v1h-1zM394 606h1v1h-1zM395 605h1v1h-1zM396 605h1v1h-1zM397 605h1v1h-1zM398 606h1v1h-1zM399 606h1v1h-1zM400 607h1v1h-1zM401 606h1v1h-1zM402 604h1v2h-1zM403 603h1v1h-1zM404 602h1v1h-1zM405 601h1v1h-1zM406 601h1v1h-1zM407 600h1v1h-1zM408 600h1v1h-1zM409 600h1v1h-1zM410 600h1v1h-1zM411 600h1v1h-1zM412 601h1v1h-1zM413 601h1v1h-1zM414 601h1v1h-1zM415 601h1v1h-1zM416 601h1v1h-1zM417 601h1v1h-1zM418 601h1v1h-1zM419 601h1v1h-1zM420 600h1v1h-1zM421 600h1v1h-1zM422 599h1v1h-1zM423 598h1v1h-1zM424 597h1v1h-1zM425 597h1v1h-1zM426 597h1v1h-1zM427 597h1v1h-1zM428 597h1v1h-1zM429 598h1v1h-1zM430 599h1v1h-1zM431 600h1v1h-1zM432 601h1v1h-1zM433 600h1v1h-1zM434 600h1v1h-1zM435 599h1v1h-1zM436 599h1v1h-1zM437 599h1v1h-1zM438 599h1v1h-1zM439 599h1v1h-1zM440 599h1v1h-1zM441 599h1v1h-1zM442 599h1v1h-1zM443 599h1v1h-1zM444 600h1v1h-1zM445 600h1v1h-1zM446 601h1v1h-1zM447 601h1v1h-1zM448 602h1v1h-1zM449 602h1v1h-1zM450 602h1v1h-1zM451 603h1v1h-1zM452 603h1v1h-1zM453 603h1v1h-1zM454 604h1v1h-1zM455 604h1v1h-1zM456 605h1v1h-1zM457 602h1v3h-1zM458 598h1v4h-1zM459 594h1v4h-1zM460 593h1v1h-1zM461 592h1v1h-1zM462 591h1v1h-1zM463 591h1v1h-1zM464 591h1v1h-1zM465 592h1v1h-1zM466 592h1v1h-1zM467 593h1v1h-1zM468 593h1v1h-1zM469 594h1v1h-1zM470 595h1v1h-1zM471 596h1v1h-1zM472 597h1v1h-1zM473 596h1v1h-1zM474 596h1v1h-1zM475 595h1v1h-1zM476 596h1v1h-1zM477 597h1v1h-1zM478 598h1v2h-1zM479 600h1v2h-1zM480 602h1v2h-1zM481 604h1v1h-1zM482 604h1v1h-1zM483 605h1v1h-1zM484 606h1v1h-1zM485 605h1v1h-1zM486 604h1v1h-1zM487 604h1v1h-1zM488 603h1v1h-1zM489 602h1v1h-1zM490 601h1v1h-1zM491 600h1v1h-1zM492 600h1v1h-1zM493 601h1v1h-1zM494 602h1v1h-1zM495 603h1v1h-1zM496 603h1v1h-1zM497 602h1v1h-1zM498 601h1v1h-1zM499 601h1v1h-1zM500 600h1v1h-1zM501 599h1v1h-1zM502 599h1v1h-1zM503 598h1v1h-1zM504 597h1v1h-1zM505 597h1v1h-1zM506 596h1v1h-1zM507 595h1v1h-1zM508 595h1v1h-1zM509 595h1v1h-1zM510 595h1v1h-1zM511 595h1v1h-1zM512 595h1v1h-1zM513 596h1v1h-1zM514 597h1v1h-1zM515 598h1v1h-1zM516 599h1v1h-1zM517 600h1v1h-1zM518 600h1v1h-1zM519 601h1v1h-1zM520 602h1v1h-1zM521 602h1v1h-1zM522 603h1v1h-1zM523 603h1v1h-1zM524 604h1v1h-1zM525 603h1v1h-1zM526 601h1v2h-1zM527 600h1v1h-1zM528 598h1v2h-1zM529 597h1v1h-1zM530 596h1v1h-1zM531 594h1v2h-1zM532 593h1v1h-1zM533 593h1v1h-1zM534 593h1v1h-1zM535 594h1v1h-1zM536 594h1v1h-1zM537 594h1v1h-1zM538 593h1v1h-1zM539 593h1v1h-1zM540 593h1v1h-1zM541 593h1v1h-1zM542 593h1v1h-1zM543 593h1v1h-1zM544 592h1v1h-1zM545 590h1v2h-1zM546 588h1v2h-1zM547 586h1v2h-1zM548 585h1v1h-1zM549 586h1v3h-1zM550 589h1v3h-1zM551 592h1v2h-1zM552 594h1v2h-1zM553 595h1v1h-1zM554 594h1v1h-1zM555 594h1v1h-1zM556 594h1v1h-1zM557 595h1v1h-1zM558 596h1v1h-1zM559 596h1v1h-1zM560 597h1v1h-1zM561 598h1v2h-1zM562 600h1v1h-1zM563 601h1v1h-1zM564 602h1v1h-1zM565 603h1v1h-1zM566 604h1v2h-1zM567 606h1v1h-1zM568 607h1v1h-1zM569 607h1v1h-1zM570 606h1v1h-1zM571 606h1v1h-1zM572 606h1v1h-1zM573 606h1v1h-1zM574 606h1v1h-1zM575 606h1v1h-1zM576 607h1v1h-1zM577 608h1v2h-1zM578 610h1v2h-1zM579 612h1v2h-1zM580 614h1v2h-1zM581 616h1v1h-1zM582 615h1v1h-1zM583 615h1v1h-1zM584 615h1v1h-1zM585 615h1v1h-1zM586 616h1v1h-1zM587 616h1v1h-1zM588 617h1v1h-1zM589 615h1v2h-1zM590 614h1v1h-1zM591 613h1v1h-1zM592 612h1v1h-1zM593 613h1v2h-1zM594 615h1v1h-1zM595 616h1v1h-1zM596 616h1v1h-1zM597 615h1v1h-1zM598 614h1v1h-1zM599 613h1v1h-1zM600 612h1v1h-1zM601 611h1v1h-1zM602 611h1v1h-1zM603 610h1v1h-1zM604 610h1v1h-1zM605 610h1v1h-1zM606 609h1v1h-1zM607 609h1v1h-1zM608 609h1v1h-1zM609 609h1v1h-1zM610 609h1v1h-1zM611 608h1v1h-1zM612 608h1v1h-1zM613 608h1v1h-1zM614 608h1v1h-1zM615 608h1v1h-1zM616 608h1v1h-1zM617 608h1v1h-1zM618 608h1v1h-1zM619 609h1v1h-1zM620 609h1v1h-1zM621 609h1v1h-1zM622 608h1v1h-1zM623 608h1v1h-1zM624 608h1v1h-1zM625 609h1v1h-1zM626 609h1v1h-1zM627 609h1v1h-1zM628 610h1v1h-1zM629 610h1v1h-1zM630 610h1v1h-1zM631 610h1v1h-1zM632 610h1v1h-1zM633 611h1v1h-1zM634 612h1v1h-1zM635 613h1v1h-1zM636 614h1v2h-1zM637 615h1v1h-1zM638 615h1v1h-1zM639 616h1v1h-1zM640 615h1v1h-1zM641 613h1v2h-1zM642 611h1v2h-1zM643 609h1v2h-1zM644 608h1v1h-1zM645 607h1v1h-1zM646 607h1v1h-1zM647 606h1v1h-1zM648 605h1v1h-1zM649 605h1v1h-1zM650 604h1v1h-1zM651 604h1v1h-1zM652 604h1v1h-1zM653 604h1v1h-1zM654 604h1v1h-1zM655 604h1v1h-1zM656 604h1v1h-1zM657 605h1v1h-1zM658 605h1v1h-1zM659 606h1v1h-1zM660 606h1v1h-1zM661 607h1v1h-1zM662 608h1v1h-1zM663 609h1v1h-1zM664 610h1v1h-1zM665 610h1v1h-1zM666 610h1v1h-1zM667 611h1v1h-1zM668 611h1v1h-1zM669 611h1v1h-1zM670 610h1v1h-1zM671 610h1v1h-1zM672 610h1v1h-1zM673 610h1v1h-1zM674 610h1v1h-1zM675 610h1v1h-1zM676 610h1v1h-1zM677 610h1v1h-1zM678 610h1v1h-1zM679 610h1v1h-1zM680 611h1v1h-1zM681 612h1v4h-1zM682 616h1v3h-1zM683 619h1v3h-1zM684 622h1v3h-1zM685 624h1v1h-1zM686 624h1v1h-1zM687 624h1v1h-1zM688 624h1v1h-1zM689 625h1v1h-1zM690 625h1v1h-1zM691 626h1v1h-1zM692 627h1v1h-1zM693 627h1v1h-1zM694 627h1v1h-1zM695 628h1v1h-1zM696 628h1v1h-1zM697 626h1v2h-1zM698 625h1v1h-1zM699 623h1v2h-1zM700 622h1v1h-1zM701 621h1v1h-1zM702 621h1v1h-1zM703 620h1v1h-1zM704 620h1v1h-1zM705 621h1v1h-1zM706 621h1v1h-1zM707 622h1v1h-1zM708 622h1v1h-1zM709 621h1v1h-1zM710 619h1v2h-1zM711 618h1v1h-1zM712 617h1v1h-1zM713 618h1v2h-1zM714 620h1v1h-1zM715 621h1v1h-1zM716 622h1v1h-1zM717 622h1v1h-1zM718 622h1v1h-1zM719 622h1v1h-1zM720 622h1v1h-1zM721 621h1v1h-1zM722 621h1v1h-1zM723 620h1v1h-1zM724 620h1v1h-1zM725 620h1v1h-1zM726 620h1v1h-1zM727 620h1v1h-1zM728 620h1v1h-1zM729 620h1v1h-1zM730 620h1v1h-1zM731 620h1v1h-1zM732 620h1v1h-1zM733 621h1v1h-1zM734 621h1v1h-1zM735 622h1v1h-1zM736 622h1v1h-1zM737 619h1v3h-1zM738 617h1v2h-1zM739 614h1v3h-1zM740 611h1v3h-1zM741 611h1v1h-1zM742 611h1v1h-1zM743 611h1v1h-1zM744 610h1v1h-1zM745 608h1v2h-1zM746 606h1v2h-1zM747 604h1v2h-1zM748 602h1v2h-1zM749 603h1v1h-1zM750 604h1v1h-1zM751 604h1v1h-1zM752 605h1v1h-1zM753 606h1v1h-1zM754 607h1v2h-1zM755 609h1v1h-1zM756 610h1v1h-1zM757 610h1v1h-1zM758 610h1v1h-1zM759 610h1v1h-1zM760 610h1v1h-1zM761 610h1v1h-1zM762 610h1v1h-1zM763 610h1v1h-1zM764 610h1v1h-1zM765 609h1v1h-1zM766 608h1v1h-1zM767 607h1v1h-1zM768 606h1v1h-1zM769 607h1v2h-1zM770 609h1v2h-1zM771 611h1v2h-1zM772 613h1v3h-1zM773 614h1v1h-1zM774 613h1v1h-1zM775 613h1v1h-1zM776 612h1v1h-1zM777 612h1v1h-1zM778 612h1v1h-1zM779 612h1v1h-1zM780 612h1v1h-1zM781 613h1v1h-1zM782 613h1v1h-1zM783 614h1v1h-1zM784 615h1v1h-1zM785 616h1v2h-1zM786 618h1v2h-1zM787 620h1v3h-1zM788 623h1v2h-1zM789 622h1v2h-1zM790 621h1v1h-1zM791 619h1v2h-1zM792 618h1v1h-1zM793 616h1v2h-1zM794 614h1v2h-1zM795 613h1v1h-1zM796 611h1v2h-1zM797 611h1v1h-1zM798 611h1v1h-1zM799 611h1v1h-1zM800 611h1v1h-1zM801 611h1v1h-1zM802 612h1v1h-1zM803 612h1v1h-1zM804 613h1v1h-1zM805 613h1v1h-1zM806 614h1v1h-1zM807 615h1v1h-1zM808 616h1v1h-1zM809 617h1v1h-1zM810 618h1v1h-1zM811 618h1v1h-1zM812 619h1v1h-1zM813 618h1v1h-1zM814 616h1v2h-1zM815 615h1v1h-1zM816 614h1v1h-1zM817 614h1v1h-1zM818 614h1v1h-1zM819 615h1v1h-1zM820 615h1v1h-1zM821 615h1v1h-1zM822 615h1v1h-1zM823 615h1v1h-1zM824 615h1v1h-1zM825 615h1v1h-1zM826 616h1v1h-1zM827 616h1v1h-1zM828 617h1v1h-1zM829 618h1v1h-1zM830 619h1v1h-1zM831 620h1v1h-1zM832 621h1v2h-1zM833 622h1v1h-1zM834 621h1v1h-1zM835 621h1v1h-1zM836 621h1v1h-1zM837 621h1v1h-1zM838 621h1v1h-1zM839 621h1v1h-1zM840 621h1v1h-1zM841 620h1v1h-1zM842 619h1v1h-1zM843 617h1v2h-1zM844 616h1v1h-1zM845 616h1v1h-1zM846 615h1v1h-1zM847 615h1v1h-1zM848 615h1v1h-1zM849 616h1v1h-1zM850 617h1v1h-1zM851 618h1v1h-1zM852 619h1v1h-1zM853 619h1v1h-1zM854 618h1v1h-1zM855 618h1v1h-1zM856 618h1v1h-1zM857 619h1v2h-1zM858 621h1v1h-1zM859 622h1v2h-1zM860 624h1v1h-1zM861 624h1v1h-1zM862 624h1v1h-1zM863 624h1v1h-1zM864 624h1v1h-1zM865 625h1v1h-1zM866 626h1v1h-1zM867 627h1v1h-1zM868 628h1v1h-1zM869 628h1v1h-1zM870 628h1v1h-1zM871 628h1v1h-1zM872 628h1v1h-1zM873 628h1v1h-1zM874 628h1v1h-1zM875 629h1v1h-1zM876 629h1v1h-1zM877 630h1v1h-1zM878 631h1v1h-1zM879 631h1v1h-1zM880 632h1v1h-1zM881 632h1v1h-1zM882 632h1v1h-1zM883 631h1v1h-1zM884 631h1v1h-1zM885 630h1v1h-1zM886 628h1v2h-1zM887 626h1v2h-1zM888 625h1v1h-1zM889 624h1v1h-1zM890 624h1v1h-1zM891 625h1v1h-1zM892 625h1v1h-1zM893 625h1v1h-1zM894 625h1v1h-1zM895 626h1v1h-1zM896 626h1v1h-1zM897 626h1v1h-1zM898 626h1v1h-1zM899 627h1v1h-1zM900 626h1v1h-1zM901 624h1v2h-1zM902 622h1v2h-1zM903 619h1v3h-1zM904 617h1v2h-1zM905 618h1v1h-1zM906 619h1v1h-1zM907 620h1v1h-1zM908 621h1v1h-1zM909 621h1v1h-1zM910 621h1v1h-1zM911 622h1v1h-1zM912 622h1v1h-1zM913 621h1v1h-1zM914 621h1v1h-1zM915 620h1v1h-1zM916 620h1v1h-1zM917 620h1v1h-1zM918 620h1v1h-1zM919 620h1v1h-1zM920 620h1v1h-1zM921 621h1v2h-1zM922 623h1v1h-1zM923 624h1v2h-1zM924 626h1v1h-1zM925 627h1v1h-1zM926 628h1v1h-1zM927 629h1v1h-1zM928 630h1v1h-1zM929 630h1v1h-1zM930 631h1v1h-1zM931 632h1v1h-1zM932 633h1v1h-1zM933 632h1v1h-1zM934 631h1v1h-1zM935 630h1v1h-1zM936 629h1v1h-1zM937 628h1v1h-1zM938 627h1v1h-1zM939 626h1v1h-1zM940 626h1v1h-1zM941 625h1v1h-1zM942 624h1v1h-1zM943 624h1v1h-1zM944 622h1v2h-1zM945 619h1v3h-1zM946 617h1v2h-1zM947 614h1v3h-1zM948 613h1v1h-1zM949 614h1v1h-1zM950 615h1v1h-1zM951 616h1v1h-1zM952 616h1v1h-1zM953 614h1v2h-1zM954 612h1v2h-1zM955 609h1v3h-1zM956 607h1v2h-1zM957 606h1v1h-1zM958 605h1v1h-1zM959 604h1v1h-1zM960 603h1v1h-1zM961 603h1v1h-1zM962 603h1v1h-1zM963 603h1v1h-1zM964 603h1v1h-1zM965 603h1v1h-1zM966 603h1v1h-1zM967 604h1v1h-1zM968 604h1v1h-1zM969 605h1v1h-1zM970 606h1v1h-1zM971 607h1v1h-1zM972 608h1v1h-1zM973 607h1v1h-1zM974 607h1v1h-1zM975 606h1v1h-1zM976 605h1v1h-1zM977 606h1v2h-1zM978 608h1v2h-1zM979 610h1v2h-1zM980 612h1v2h-1zM981 614h1v2h-1zM982 616h1v2h-1zM983 618h1v1h-1zM984 619h1v2h-1zM985 619h1v1h-1zM986 618h1v1h-1zM987 617h1v1h-1zM988 616h1v1h-1zM989 616h1v1h-1zM990 616h1v1h-1zM991 617h1v1h-1zM992 617h1v1h-1zM993 618h1v1h-1zM994 619h1v1h-1zM995 620h1v1h-1zM996 621h1v1h-1zM997 620h1v1h-1zM998 619h1v1h-1zM999 619h1v1h-1zM1000 618h1v1h-1zM1001 618h1v1h-1zM1002 618h1v1h-1zM1003 618h1v1h-1zM1004 617h1v1h-1zM1005 617h1v1h-1zM1006 617h1v1h-1zM1007 616h1v1h-1zM1008 616h1v1h-1zM1009 617h1v2h-1zM1010 619h1v2h-1zM1011 621h1v1h-1zM1012 622h1v2h-1zM1013 623h1v1h-1zM1014 623h1v1h-1zM1015 623h1v1h-1zM1016 622h1v1h-1zM1017 619h1v3h-1zM1018 616h1v3h-1zM1019 612h1v4h-1zM1020 609h1v3h-1zM1021 609h1v1h-1zM1022 609h1v1h-1zM1023 609h1v1h-1zM1024 609h1v1h-1zM1025 610h1v1h-1zM1026 611h1v1h-1zM1027 612h1v2h-1zM1028 614h1v1h-1zM1029 614h1v1h-1zM1030 613h1v1h-1zM1031 613h1v1h-1zM1032 613h1v1h-1zM1033 614h1v1h-1zM1034 615h1v1h-1zM1035 615h1v1h-1zM1036 616h1v1h-1zM1037 616h1v1h-1zM1038 616h1v1h-1zM1039 616h1v1h-1zM1040 616h1v1h-1zM1041 616h1v1h-1zM1042 616h1v1h-1zM1043 617h1v1h-1zM1044 618h1v1h-1zM1045 618h1v1h-1zM1046 619h1v1h-1zM1047 619h1v1h-1zM1048 620h1v1h-1zM1049 621h1v1h-1zM1050 621h1v1h-1zM1051 622h1v1h-1zM1052 623h1v1h-1zM1053 621h1v2h-1zM1054 619h1v2h-1zM1055 618h1v1h-1zM1056 616h1v2h-1zM1057 616h1v1h-1zM1058 615h1v1h-1zM1059 615h1v1h-1zM1060 615h1v1h-1zM1061 615h1v1h-1zM1062 615h1v1h-1zM1063 615h1v1h-1zM1064 614h1v1h-1zM1065 612h1v2h-1zM1066 610h1v2h-1zM1067 608h1v2h-1zM1068 607h1v1h-1zM1069 607h1v1h-1zM1070 607h1v1h-1zM1071 607h1v1h-1zM1072 606h1v1h-1zM1073 606h1v1h-1zM1074 605h1v1h-1zM1075 603h1v2h-1zM1076 602h1v1h-1zM1077 602h1v1h-1zM1078 603h1v1h-1zM1079 603h1v1h-1zM1080 603h1v1h-1zM1081 604h1v1h-1zM1082 605h1v1h-1zM1083 606h1v2h-1zM1084 608h1v1h-1zM1085 608h1v1h-1zM1086 608h1v1h-1zM1087 608h1v1h-1zM1088 608h1v1h-1zM1089 608h1v1h-1zM1090 608h1v1h-1zM1091 608h1v1h-1zM1092 609h1v1h-1zM1093 610h1v1h-1zM1094 610h1v1h-1zM1095 611h1v1h-1zM1096 612h1v1h-1zM1097 613h1v1h-1zM1098 614h1v1h-1zM1099 615h1v2h-1zM1100 617h1v1h-1zM1101 618h1v1h-1zM1102 619h1v1h-1zM1103 620h1v1h-1zM1104 621h1v2h-1zM1105 622h1v1h-1zM1106 623h1v1h-1zM1107 623h1v1h-1zM1108 624h1v1h-1zM1109 624h1v1h-1zM1110 625h1v1h-1zM1111 625h1v1h-1zM1112 624h1v1h-1zM1113 621h1v3h-1zM1114 618h1v3h-1zM1115 616h1v2h-1zM1116 614h1v2h-1zM1117 615h1v1h-1zM1118 616h1v1h-1zM1119 616h1v1h-1zM1120 616h1v1h-1zM1121 616h1v1h-1zM1122 615h1v1h-1zM1123 614h1v1h-1zM1124 613h1v1h-1zM1125 614h1v1h-1zM1126 614h1v1h-1zM1127 615h1v1h-1zM1128 616h1v1h-1zM1129 615h1v1h-1zM1130 615h1v1h-1zM1131 614h1v1h-1zM1132 614h1v1h-1zM1133 614h1v1h-1zM1134 615h1v1h-1zM1135 615h1v1h-1zM1136 616h1v1h-1zM1137 617h1v1h-1zM1138 618h1v1h-1zM1139 619h1v1h-1zM1140 620h1v1h-1zM1141 620h1v1h-1zM1142 621h1v1h-1zM1143 621h1v1h-1zM1144 622h1v1h-1zM1145 622h1v1h-1zM1146 622h1v1h-1zM1147 621h1v1h-1zM1148 621h1v1h-1zM1149 620h1v1h-1zM1150 618h1v2h-1zM1151 617h1v1h-1zM1152 616h1v1h-1zM1153 616h1v1h-1zM1154 617h1v1h-1zM1155 617h1v1h-1zM1156 618h1v1h-1zM1157 618h1v1h-1zM1158 618h1v1h-1zM1159 619h1v1h-1zM1160 618h1v1h-1zM1161 616h1v2h-1zM1162 614h1v2h-1zM1163 612h1v2h-1zM1164 611h1v1h-1zM1165 611h1v1h-1zM1166 610h1v1h-1zM1167 610h1v1h-1zM1168 610h1v1h-1zM1169 610h1v1h-1zM1170 611h1v1h-1zM1171 611h1v1h-1zM1172 612h1v1h-1zM1173 612h1v1h-1zM1174 613h1v1h-1zM1175 613h1v1h-1zM1176 614h1v1h-1zM1177 614h1v1h-1zM1178 614h1v1h-1zM1179 613h1v1h-1zM1180 613h1v1h-1zM1181 613h1v1h-1zM1182 613h1v1h-1zM1183 613h1v1h-1zM1184 613h1v1h-1zM1185 613h1v1h-1zM1186 612h1v1h-1zM1187 611h1v1h-1zM1188 610h1v1h-1zM1189 611h1v1h-1zM1190 612h1v1h-1zM1191 612h1v1h-1zM1192 613h1v1h-1zM1193 614h1v1h-1zM1194 614h1v1h-1zM1195 615h1v1h-1zM1196 616h1v1h-1zM1197 616h1v1h-1zM1198 617h1v1h-1zM1199 618h1v1h-1zM1200 618h1v1h-1zM1201 619h1v1h-1zM1202 620h1v1h-1zM1203 621h1v1h-1zM1204 621h1v1h-1zM1205 622h1v1h-1zM1206 622h1v1h-1zM1207 623h1v1h-1zM1208 623h1v1h-1zM1209 622h1v1h-1zM1210 621h1v1h-1zM1211 621h1v1h-1zM1212 620h1v1h-1zM1213 620h1v1h-1zM1214 620h1v1h-1zM1215 620h1v1h-1zM1216 620h1v1h-1zM1217 619h1v1h-1zM1218 619h1v1h-1zM1219 619h1v1h-1zM1220 618h1v1h-1zM1221 617h1v1h-1zM1222 615h1v2h-1zM1223 613h1v2h-1zM1224 611h1v2h-1zM1225 611h1v1h-1zM1226 611h1v1h-1zM1227 612h1v1h-1zM1228 612h1v1h-1zM1229 612h1v1h-1zM1230 612h1v1h-1zM1231 612h1v1h-1zM1232 612h1v1h-1zM1233 612h1v1h-1zM1234 613h1v1h-1zM1235 613h1v1h-1zM1236 614h1v1h-1zM1237 614h1v1h-1zM1238 614h1v1h-1zM1239 615h1v1h-1zM1240 615h1v1h-1zM1241 616h1v1h-1zM1242 617h1v1h-1zM1243 618h1v1h-1zM1244 619h1v1h-1zM1245 618h1v1h-1zM1246 618h1v1h-1zM1247 617h1v1h-1zM1248 617h1v1h-1zM1249 616h1v1h-1zM1250 616h1v1h-1zM1251 615h1v1h-1zM1252 615h1v1h-1zM1253 614h1v1h-1zM1254 614h1v1h-1zM1255 614h1v1h-1zM1256 614h1v1h-1z" fill="#1e90ff"/>
<path d="M4 702h1v9h-1zM8 702h1v10h-1zM12 702h1v10h-1zM16 702h1v11h-1zM20 702h1v11h-1zM24 702h1v11h-1zM28 702h1v11h-1zM32 702h1v12h-1zM36 702h1v12h-1zM40 702h1v14h-1zM44 702h1v16h-1zM48 702h1v16h-1zM52 702h1v17h-1zM56 702h1v18h-1zM60 702h1v19h-1zM64 702h1v19h-1zM68 702h1v21h-1zM72 702h1v22h-1zM76 702h1v24h-1zM80 702h1v26h-1zM84 702h1v30h-1zM88 702h1v32h-1zM92 702h1v33h-1zM96 702h1v34h-1zM100 702h1v37h-1zM104 702h1v38h-1zM108 702h1v38h-1zM112 702h1v35h-1zM116 702h1v30h-1zM120 702h1v25h-1zM124 702h1v21h-1zM128 702h1v17h-1zM132 702h1v10h-1zM136 702h1v4h-1zM140 702h1v1h-1zM144 698h1v4h-1zM148 694h1v8h-1zM152 691h1v11h-1zM156 687h1v15h-1zM160 686h1v16h-1zM164 688h1v14h-1zM168 688h1v14h-1zM172 686h1v16h-1zM176 685h1v17h-1zM180 686h1v16h-1zM184 689h1v13h-1zM188 690h1v12h-1zM192 691h1v11h-1zM196 691h1v11h-1zM200 691h1v11h-1zM204 692h1v10h-1zM208 690h1v12h-1zM212 687h1v15h-1zM216 685h1v17h-1zM220 684h1v18h-1zM224 682h1v20h-1zM228 682h1v20h-1zM232 683h1v19h-1zM236 684h1v18h-1zM240 685h1v17h-1zM244 689h1v13h-1zM248 692h1v10h-1zM252 697h1v5h-1zM256 702h1v1h-1zM260 702h1v7h-1zM264 702h1v10h-1zM268 702h1v12h-1zM272 702h1v15h-1zM276 702h1v15h-1zM280 702h1v13h-1zM284 702h1v11h-1zM288 702h1v4h-1zM292 702h1v1h-1zM296 699h1v3h-1zM300 697h1v5h-1zM304 694h1v8h-1zM308 687h1v15h-1zM312 676h1v26h-1zM316 669h1v33h-1zM320 664h1v38h-1zM324 660h1v42h-1zM328 662h1v40h-1zM332 660h1v42h-1zM336 663h1v39h-1zM340 663h1v39h-1zM344 666h1v36h-1zM348 666h1v36h-1zM352 669h1v33h-1zM356 670h1v32h-1zM360 673h1v29h-1zM364 673h1v29h-1zM368 674h1v28h-1zM372 675h1v27h-1zM376 681h1v21h-1zM380 685h1v17h-1zM384 690h1v12h-1zM388 694h1v8h-1zM392 697h1v5h-1zM396 699h1v3h-1zM400 702h1v1h-1zM404 701h1v1h-1zM408 700h1v2h-1zM412 699h1v3h-1zM416 698h1v4h-1zM420 697h1v5h-1zM424 696h1v6h-1zM428 695h1v7h-1zM432 695h1v7h-1zM436 695h1v7h-1zM440 694h1v8h-1zM444 694h1v8h-1zM448 695h1v7h-1zM452 696h1v6h-1zM456 698h1v4h-1zM460 695h1v7h-1zM464 690h1v12h-1zM468 688h1v14h-1zM472 688h1v14h-1zM476 687h1v15h-1zM480 689h1v13h-1zM484 692h1v10h-1zM488 694h1v8h-1zM492 694h1v8h-1zM496 695h1v7h-1zM500 695h1v7h-1zM504 694h1v8h-1zM508 693h1v9h-1zM512 692h1v10h-1zM516 692h1v10h-1zM520 693h1v9h-1zM524 695h1v7h-1zM528 694h1v8h-1zM532 692h1v10h-1zM536 690h1v12h-1zM540 689h1v13h-1zM544 688h1v14h-1zM548 684h1v18h-1zM552 684h1v18h-1zM556 683h1v19h-1zM560 684h1v18h-1zM564 687h1v15h-1zM568 691h1v11h-1zM572 694h1v8h-1zM576 696h1v6h-1zM580 702h1v1h-1zM584 702h1v4h-1zM588 702h1v9h-1zM592 702h1v11h-1zM596 702h1v14h-1zM600 702h1v16h-1zM604 702h1v16h-1zM608 702h1v15h-1zM612 702h1v14h-1zM616 702h1v13h-1zM620 702h1v12h-1zM624 702h1v12h-1zM628 702h1v12h-1zM632 702h1v12h-1zM636 702h1v12h-1zM640 702h1v11h-1zM644 702h1v10h-1zM648 702h1v10h-1zM652 702h1v9h-1zM656 702h1v9h-1zM660 702h1v8h-1zM664 702h1v8h-1zM668 702h1v9h-1zM672 702h1v9h-1zM676 702h1v10h-1zM680 702h1v11h-1zM684 702h1v13h-1zM688 702h1v16h-1zM692 702h1v20h-1zM696 702h1v23h-1zM700 702h1v23h-1zM704 702h1v24h-1zM708 702h1v25h-1zM712 702h1v26h-1zM716 702h1v27h-1zM720 702h1v28h-1zM724 702h1v27h-1zM728 702h1v27h-1zM732 702h1v27h-1zM736 702h1v27h-1zM740 702h1v25h-1zM744 702h1v23h-1zM748 702h1v19h-1zM752 702h1v16h-1zM756 702h1v15h-1zM760 702h1v15h-1zM764 702h1v14h-1zM768 702h1v12h-1zM772 702h1v13h-1zM776 702h1v14h-1zM780 702h1v15h-1zM784 702h1v16h-1zM788 702h1v19h-1zM792 702h1v21h-1zM796 702h1v20h-1zM800 702h1v19h-1zM804 702h1v19h-1zM808 702h1v21h-1zM812 702h1v22h-1zM816 702h1v22h-1zM820 702h1v22h-1zM824 702h1v23h-1zM828 702h1v24h-1zM832 702h1v24h-1zM836 702h1v25h-1zM840 702h1v26h-1zM844 702h1v25h-1zM848 702h1v25h-1zM852 702h1v26h-1zM856 702h1v26h-1zM860 702h1v27h-1zM864 702h1v28h-1zM868 702h1v30h-1zM872 702h1v31h-1zM876 702h1v33h-1zM880 702h1v36h-1zM884 702h1v38h-1zM888 702h1v38h-1zM892 702h1v37h-1zM896 702h1v37h-1zM900 702h1v36h-1zM904 702h1v35h-1zM908 702h1v34h-1zM912 702h1v33h-1zM916 702h1v32h-1zM920 702h1v30h-1zM924 702h1v32h-1zM928 702h1v35h-1zM932 702h1v40h-1zM936 702h1v42h-1zM940 702h1v42h-1zM944 702h1v41h-1zM948 702h1v39h-1zM952 702h1v37h-1zM956 702h1v32h-1zM960 702h1v27h-1zM964 702h1v22h-1zM968 702h1v19h-1zM972 702h1v17h-1zM976 702h1v15h-1zM980 702h1v17h-1zM984 702h1v20h-1zM988 702h1v23h-1zM992 702h1v25h-1zM996 702h1v28h-1zM1000 702h1v30h-1zM1004 702h1v31h-1zM1008 702h1v32h-1zM1012 702h1v36h-1zM1016 702h1v39h-1zM1020 702h1v35h-1zM1024 702h1v32h-1zM1028 702h1v33h-1zM1032 702h1v34h-1zM1036 702h1v34h-1zM1040 702h1v35h-1zM1044 702h1v35h-1zM1048 702h1v37h-1zM1052 702h1v40h-1zM1056 702h1v40h-1zM1060 702h1v39h-1zM1064 702h1v38h-1zM1068 702h1v33h-1zM1072 702h1v29h-1zM1076 702h1v25h-1zM1080 702h1v21h-1zM1084 702h1v19h-1zM1088 702h1v18h-1zM1092 702h1v18h-1zM1096 702h1v18h-1zM1100 702h1v21h-1zM1104 702h1v26h-1zM1108 702h1v31h-1zM1112 702h1v35h-1zM1116 702h1v35h-1zM1120 702h1v36h-1zM1124 702h1v35h-1zM1128 702h1v34h-1zM1132 702h1v34h-1zM1136 702h1v35h-1zM1140 702h1v36h-1zM1144 702h1v39h-1zM1148 702h1v41h-1zM1152 702h1v40h-1zM1156 702h1v40h-1zM1160 702h1v39h-1zM1164 702h1v37h-1zM1168 702h1v34h-1zM1172 702h1v32h-1zM1176 702h1v31h-1zM1180 702h1v30h-1zM1184 702h1v29h-1zM1188 702h1v26h-1zM1192 702h1v26h-1zM1196 702h1v27h-1zM1200 702h1v28h-1zM1204 702h1v30h-1zM1208 702h1v32h-1zM1212 702h1v32h-1zM1216 702h1v32h-1zM1220 702h1v30h-1zM1224 702h1v28h-1zM1228 702h1v26h-1zM1232 702h1v24h-1zM1236 702h1v23h-1zM1240 702h1v23h-1zM1244 702h1v23h-1zM1248 702h1v24h-1zM1252 702h1v24h-1zM1256 702h1v24h-1z" fill="#c0c0c0"/>
<path d="M4 710h1v1h-1zM5 711h1v1h-1zM6 711h1v1h-1zM10 712h1v1h-1zM11 712h1v1h-1zM12 712h1v1h-1zM16 712h1v1h-1zM17 712h1v1h-1zM18 712h1v1h-1zM22 712h1v1h-1zM23 712h1v1h-1zM24 712h1v1h-1zM28 713h1v1h-1zM29 713h1v1h-1zM30 713h1v1h-1zM34 712h1v1h-1zM35 712h1v1h-1zM36 712h1v1h-1zM40 712h1v1h-1zM41 713h1v1h-1zM42 713h1v1h-1zM46 713h1v1h-1zM47 714h1v1h-1zM48 714h1v1h-1zM52 715h1v1h-1zM53 715h1v1h-1zM54 715h1v1h-1zM58 716h1v1h-1zM59 716h1v1h-1zM60 716h1v1h-1zM64 717h1v1h-1zM65 717h1v1h-1zM66 718h1v1h-1zM70 719h1v1h-1zM71 719h1v1h-1zM72 720h1v1h-1zM76 721h1v1h-1zM77 721h1v1h-1zM78 722h1v1h-1zM82 723h1v1h-1zM83 723h1v1h-1zM84 723h1v1h-1zM88 725h1v1h-1zM89 726h1v1h-1zM90 726h1v1h-1zM94 728h1v1h-1zM95 729h1v1h-1zM96 729h1v1h-1zM100 731h1v1h-1zM101 732h1v1h-1zM102 732h1v1h-1zM106 734h1v1h-1zM107 734h1v1h-1zM108 735h1v1h-1zM112 736h1v1h-1zM113 736h1v1h-1zM114 736h1v1h-1zM118 736h1v1h-1zM119 736h1v1h-1zM120 735h1v1h-1zM124 734h1v1h-1zM125 734h1v1h-1zM126 733h1v1h-1zM130 731h1v1h-1zM131 730h1v1h-1zM132 729h1v1h-1zM136 726h1v1h-1zM137 725h1v1h-1zM138 723h1v1h-1zM141 720h1v1h-1zM142 719h1v1h-1zM143 718h1v1h-1zM147 714h1v1h-1zM148 713h1v1h-1zM149 711h1v1h-1zM152 708h1v1h-1zM153 707h1v1h-1zM154 706h1v1h-1zM158 702h1v1h-1zM159 701h1v1h-1zM160 700h1v1h-1zM164 696h1v1h-1zM165 695h1v1h-1zM166 694h1v1h-1zM170 691h1v1h-1zM171 691h1v1h-1zM172 690h1v1h-1zM176 688h1v1h-1zM177 688h1v1h-1zM178 687h1v1h-1zM182 686h1v1h-1zM183 686h1v1h-1zM184 686h1v1h-1zM188 686h1v1h-1zM189 686h1v1h-1zM190 686h1v1h-1zM194 687h1v1h-1zM195 687h1v1h-1zM196 687h1v1h-1zM200 688h1v1h-1zM201 688h1v1h-1zM202 688h1v1h-1zM206 688h1v1h-1zM207 689h1v1h-1zM208 689h1v1h-1zM212 689h1v1h-1zM213 689h1v1h-1zM214 689h1v1h-1zM218 689h1v1h-1zM219 689h1v1h-1zM220 688h1v1h-1zM224 688h1v1h-1zM225 688h1v1h-1zM226 687h1v1h-1zM230 686h1v1h-1zM231 686h1v1h-1zM232 686h1v1h-1zM236 685h1v1h-1zM237 685h1v1h-1zM238 685h1v1h-1zM242 684h1v1h-1zM243 684h1v1h-1zM244 684h1v1h-1zM248 684h1v1h-1zM249 684h1v1h-1zM250 685h1v1h-1zM254 686h1v1h-1zM255 687h1v1h-1zM256 688h1v1h-1zM260 690h1v1h-1zM261 691h1v1h-1zM262 692h1v1h-1zM266 695h1v1h-1zM267 696h1v1h-1zM268 697h1v1h-1zM272 701h1v1h-1zM273 702h1v1h-1zM274 703h1v1h-1zM278 706h1v1h-1zM279 707h1v1h-1zM280 708h1v1h-1zM284 711h1v1h-1zM285 711h1v1h-1zM286 711h1v1h-1zM290 712h1v1h-1zM291 712h1v1h-1zM292 711h1v1h-1zM296 710h1v1h-1zM297 710h1v1h-1zM298 710h1v1h-1zM302 708h1v1h-1zM303 707h1v1h-1zM304 707h1v1h-1zM308 703h1v1h-1zM309 702h1v1h-1zM310 701h1v1h-1zM313 697h1v1h-1zM314 695h1v1h-1zM314 696h1v1h-1zM317 692h1v1h-1zM318 690h1v1h-1zM319 689h1v1h-1zM322 685h1v1h-1zM323 683h1v1h-1zM323 684h1v1h-1zM326 679h1v1h-1zM327 678h1v1h-1zM328 677h1v1h-1zM332 673h1v1h-1zM333 672h1v1h-1zM334 671h1v1h-1zM338 668h1v1h-1zM339 667h1v1h-1zM340 666h1v1h-1zM344 664h1v1h-1zM345 664h1v1h-1zM346 664h1v1h-1zM350 663h1v1h-1zM351 663h1v1h-1zM352 663h1v1h-1zM356 663h1v1h-1zM357 663h1v1h-1zM358 663h1v1h-1zM362 665h1v1h-1zM363 665h1v1h-1zM364 666h1v1h-1zM368 667h1v1h-1zM369 667h1v1h-1zM370 668h1v1h-1zM374 669h1v1h-1zM375 670h1v1h-1zM376 670h1v1h-1zM380 673h1v1h-1zM381 674h1v1h-1zM382 674h1v1h-1zM386 677h1v1h-1zM387 678h1v1h-1zM388 678h1v1h-1zM392 681h1v1h-1zM393 682h1v1h-1zM394 683h1v1h-1zM398 686h1v1h-1zM399 687h1v1h-1zM400 687h1v1h-1zM404 691h1v1h-1zM405 691h1v1h-1zM406 692h1v1h-1zM410 694h1v1h-1zM411 694h1v1h-1zM412 695h1v1h-1zM416 696h1v1h-1zM417 697h1v1h-1zM418 697h1v1h-1zM422 698h1v1h-1zM423 698h1v1h-1zM424 698h1v1h-1zM428 698h1v1h-1zM429 698h1v1h-1zM430 698h1v1h-1zM434 697h1v1h-1zM435 697h1v1h-1zM436 697h1v1h-1zM440 696h1v1h-1zM441 696h1v1h-1zM442 696h1v1h-1zM446 695h1v1h-1zM447 695h1v1h-1zM448 695h1v1h-1zM452 695h1v1h-1zM453 695h1v1h-1zM454 695h1v1h-1zM458 695h1v1h-1zM459 694h1v1h-1zM460 694h1v1h-1zM464 694h1v1h-1zM465 694h1v1h-1zM466 694h1v1h-1zM470 692h1v1h-1zM471 692h1v1h-1zM472 692h1v1h-1zM476 691h1v1h-1zM477 691h1v1h-1zM478 691h1v1h-1zM482 690h1v1h-1zM483 690h1v1h-1zM484 690h1v1h-1zM488 690h1v1h-1zM489 690h1v1h-1zM490 690h1v1h-1zM494 690h1v1h-1zM495 690h1v1h-1zM496 690h1v1h-1zM500 690h1v1h-1zM501 690h1v1h-1zM502 690h1v1h-1zM506 691h1v1h-1zM507 691h1v1h-1zM508 691h1v1h-1zM512 692h1v1h-1zM513 692h1v1h-1zM514 692h1v1h-1zM518 692h1v1h-1zM519 693h1v1h-1zM520 693h1v1h-1zM524 693h1v1h-1zM525 693h1v1h-1zM526 693h1v1h-1zM530 692h1v1h-1zM531 692h1v1h-1zM532 692h1v1h-1zM536 692h1v1h-1zM537 691h1v1h-1zM538 691h1v1h-1zM542 691h1v1h-1zM543 691h1v1h-1zM544 691h1v1h-1zM548 690h1v1h-1zM549 689h1v1h-1zM550 689h1v1h-1zM554 688h1v1h-1zM555 688h1v1h-1zM556 688h1v1h-1zM560 687h1v1h-1zM561 687h1v1h-1zM562 687h1v1h-1zM566 686h1v1h-1zM567 686h1v1h-1zM568 686h1v1h-1zM572 686h1v1h-1zM573 686h1v1h-1zM574 686h1v1h-1zM578 687h1v1h-1zM579 687h1v1h-1zM580 688h1v1h-1zM584 691h1v1h-1zM585 692h1v1h-1zM586 692h1v1h-1zM590 696h1v1h-1zM591 696h1v1h-1zM592 697h1v1h-1zM596 701h1v1h-1zM597 702h1v1h-1zM598 703h1v1h-1zM602 706h1v1h-1zM603 706h1v1h-1zM604 707h1v1h-1zM608 710h1v1h-1zM609 710h1v1h-1zM610 711h1v1h-1zM614 713h1v1h-1zM615 714h1v1h-1zM616 714h1v1h-1zM620 715h1v1h-1zM621 715h1v1h-1zM622 715h1v1h-1zM626 716h1v1h-1zM627 716h1v1h-1zM628 716h1v1h-1zM632 716h1v1h-1zM633 716h1v1h-1zM634 716h1v1h-1zM638 716h1v1h-1zM639 715h1v1h-1zM640 715h1v1h-1zM644 715h1v1h-1zM645 715h1v1h-1zM646 715h1v1h-1zM650 715h1v1h-1zM651 715h1v1h-1zM652 715h1v1h-1zM656 714h1v1h-1zM657 714h1v1h-1zM658 714h1v1h-1zM662 713h1v1h-1zM663 713h1v1h-1zM664 713h1v1h-1zM668 713h1v1h-1zM669 712h1v1h-1zM670 712h1v1h-1zM674 712h1v1h-1zM675 712h1v1h-1zM676 712h1v1h-1zM680 711h1v1h-1zM681 711h1v1h-1zM682 711h1v1h-1zM686 712h1v1h-1zM687 712h1v1h-1zM688 712h1v1h-1zM692 713h1v1h-1zM693 713h1v1h-1zM694 713h1v1h-1zM698 715h1v1h-1zM699 716h1v1h-1zM700 716h1v1h-1zM704 718h1v1h-1zM705 719h1v1h-1zM706 719h1v1h-1zM710 720h1v1h-1zM711 721h1v1h-1zM712 721h1v1h-1zM716 723h1v1h-1zM717 724h1v1h-1zM718 724h1v1h-1zM722 726h1v1h-1zM723 727h1v1h-1zM724 727h1v1h-1zM728 728h1v1h-1zM729 728h1v1h-1zM730 728h1v1h-1zM734 728h1v1h-1zM735 728h1v1h-1zM736 728h1v1h-1zM740 729h1v1h-1zM741 729h1v1h-1zM742 728h1v1h-1zM746 727h1v1h-1zM747 727h1v1h-1zM748 727h1v1h-1zM752 726h1v1h-1zM753 726h1v1h-1zM754 725h1v1h-1zM758 724h1v1h-1zM759 724h1v1h-1zM760 723h1v1h-1zM764 722h1v1h-1zM765 721h1v1h-1zM766 721h1v1h-1zM770 719h1v1h-1zM771 719h1v1h-1zM772 718h1v1h-1zM776 718h1v1h-1zM777 717h1v1h-1zM778 717h1v1h-1zM782 717h1v1h-1zM783 717h1v1h-1zM784 717h1v1h-1zM788 717h1v1h-1zM789 717h1v1h-1zM790 717h1v1h-1zM794 717h1v1h-1zM795 717h1v1h-1zM796 717h1v1h-1zM800 718h1v1h-1zM801 718h1v1h-1zM802 718h1v1h-1zM806 719h1v1h-1zM807 720h1v1h-1zM808 720h1v1h-1zM812 721h1v1h-1zM813 721h1v1h-1zM814 721h1v1h-1zM818 722h1v1h-1zM819 722h1v1h-1zM820 722h1v1h-1zM824 723h1v1h-1zM825 723h1v1h-1zM826 723h1v1h-1zM830 724h1v1h-1zM831 724h1v1h-1zM832 724h1v1h-1zM836 725h1v1h-1zM837 725h1v1h-1zM838 725h1v1h-1zM842 726h1v1h-1zM843 726h1v1h-1zM844 726h1v1h-1zM848 726h1v1h-1zM849 726h1v1h-1zM850 726h1v1h-1zM854 727h1v1h-1zM855 727h1v1h-1zM856 727h1v1h-1zM860 728h1v1h-1zM861 728h1v1h-1zM862 728h1v1h-1zM866 728h1v1h-1zM867 728h1v1h-1zM868 728h1v1h-1zM872 729h1v1h-1zM873 729h1v1h-1zM874 729h1v1h-1zM878 730h1v1h-1zM879 731h1v1h-1zM880 731h1v1h-1zM884 732h1v1h-1zM885 733h1v1h-1zM886 733h1v1h-1zM890 734h1v1h-1zM891 735h1v1h-1zM892 735h1v1h-1zM896 736h1v1h-1zM897 737h1v1h-1zM898 737h1v1h-1zM902 738h1v1h-1zM903 738h1v1h-1zM904 738h1v1h-1zM908 739h1v1h-1zM909 739h1v1h-1zM910 739h1v1h-1zM914 738h1v1h-1zM915 738h1v1h-1zM916 738h1v1h-1zM920 737h1v1h-1zM921 737h1v1h-1zM922 737h1v1h-1zM926 737h1v1h-1zM927 737h1v1h-1zM928 737h1v1h-1zM932 737h1v1h-1zM933 737h1v1h-1zM934 737h1v1h-1zM938 737h1v1h-1zM939 738h1v1h-1zM940 738h1v1h-1zM944 739h1v1h-1zM945 739h1v1h-1zM946 739h1v1h-1zM950 739h1v1h-1zM951 740h1v1h-1zM952 740h1v1h-1zM956 739h1v1h-1zM957 739h1v1h-1zM958 739h1v1h-1zM962 738h1v1h-1zM963 737h1v1h-1zM964 737h1v1h-1zM968 735h1v1h-1zM969 734h1v1h-1zM970 734h1v1h-1zM974 731h1v1h-1zM975 730h1v1h-1zM976 730h1v1h-1zM980 727h1v1h-1zM981 727h1v1h-1zM982 726h1v1h-1zM986 724h1v1h-1zM987 724h1v1h-1zM988 724h1v1h-1zM992 723h1v1h-1zM993 723h1v1h-1zM994 723h1v1h-1zM998 723h1v1h-1zM999 724h1v1h-1zM1000 724h1v1h-1zM1004 726h1v1h-1zM1005 726h1v1h-1zM1006 727h1v1h-1zM1010 728h1v1h-1zM1011 729h1v1h-1zM1012 729h1v1h-1zM1016 731h1v1h-1zM1017 732h1v1h-1zM1018 732h1v1h-1zM1022 734h1v1h-1zM1023 734h1v1h-1zM1024 735h1v1h-1zM1028 735h1v1h-1zM1029 736h1v1h-1zM1030 736h1v1h-1zM1034 736h1v1h-1zM1035 736h1v1h-1zM1036 737h1v1h-1zM1040 737h1v1h-1zM1041 737h1v1h-1zM1042 737h1v1h-1zM1046 737h1v1h-1zM1047 737h1v1h-1zM1048 737h1v1h-1zM1052 738h1v1h-1zM1053 738h1v1h-1zM1054 738h1v1h-1zM1058 739h1v1h-1zM1059 739h1v1h-1zM1060 739h1v1h-1zM1064 739h1v1h-1zM1065 739h1v1h-1zM1066 739h1v1h-1zM1070 739h1v1h-1zM1071 739h1v1h-1zM1072 739h1v1h-1zM1076 737h1v1h-1zM1077 737h1v1h-1zM1078 737h1v1h-1zM1082 735h1v1h-1zM1083 734h1v1h-1zM1084 734h1v1h-1zM1088 732h1v1h-1zM1089 731h1v1h-1zM1090 731h1v1h-1zM1094 728h1v1h-1zM1095 728h1v1h-1zM1096 727h1v1h-1zM1100 725h1v1h-1zM1101 725h1v1h-1zM1102 725h1v1h-1zM1106 724h1v1h-1zM1107 724h1v1h-1zM1108 724h1v1h-1zM1112 725h1v1h-1zM1113 725h1v1h-1zM1114 725h1v1h-1zM1118 727h1v1h-1zM1119 728h1v1h-1zM1120 728h1v1h-1zM1124 730h1v1h-1zM1125 731h1v1h-1zM1126 732h1v1h-1zM1130 734h1v1h-1zM1131 734h1v1h-1zM1132 735h1v1h-1zM1136 736h1v1h-1zM1137 737h1v1h-1zM1138 737h1v1h-1zM1142 739h1v1h-1zM1143 739h1v1h-1zM1144 739h1v1h-1zM1148 739h1v1h-1zM1149 739h1v1h-1zM1150 740h1v1h-1zM1154 740h1v1h-1zM1155 740h1v1h-1zM1156 740h1v1h-1zM1160 741h1v1h-1zM1161 741h1v1h-1zM1162 741h1v1h-1zM1166 741h1v1h-1zM1167 741h1v1h-1zM1168 741h1v1h-1zM1172 741h1v1h-1zM1173 740h1v1h-1zM1174 740h1v1h-1zM1178 739h1v1h-1zM1179 739h1v1h-1zM1180 739h1v1h-1zM1184 738h1v1h-1zM1185 737h1v1h-1zM1186 737h1v1h-1zM1190 735h1v1h-1zM1191 735h1v1h-1zM1192 734h1v1h-1zM1196 733h1v1h-1zM1197 733h1v1h-1zM1198 733h1v1h-1zM1202 732h1v1h-1zM1203 732h1v1h-1zM1204 731h1v1h-1zM1208 731h1v1h-1zM1209 731h1v1h-1zM1210 731h1v1h-1zM1214 732h1v1h-1zM1215 732h1v1h-1zM1216 732h1v1h-1zM1220 732h1v1h-1zM1221 732h1v1h-1zM1222 732h1v1h-1zM1226 732h1v1h-1zM1227 732h1v1h-1zM1228 732h1v1h-1zM1232 732h1v1h-1zM1233 732h1v1h-1zM1234 732h1v1h-1zM1238 731h1v1h-1zM1239 731h1v1h-1zM1240 731h1v1h-1zM1244 730h1v1h-1zM1245 730h1v1h-1zM1246 730h1v1h-1zM1250 729h1v1h-1zM1251 729h1v1h-1zM1252 729h1v1h-1zM1256 729h1v1h-1z" fill="#ff0000"/>
<rect x="3" y="26" width="1578" height="1" fill="#000"/>
<rect x="3" y="26" width="1" height="528" fill="#000"/>
<rect x="3" y="553" width="1578" height="1" fill="#000"/>
<rect x="3" y="555" width="1578" height="1" fill="#000"/>
<rect x="3" y="555" width="1" height="97" fill="#000"/>
<rect x="3" y="651" width="1578" height="1" fill="#000"/>
<rect x="3" y="653" width="1578" height="1" fill="#000"/>
<rect x="3" y="653" width="1" height="97" fill="#000"/>
<rect x="3" y="749" width="1578" height="1" fill="#000"/>
<rect x="1580" y="26" width="1" height="528" fill="#000"/>
<rect x="1580" y="555" width="1" height="97" fill="#000"/>
<rect x="1580" y="653" width="1" height="97" fill="#000"/>
<rect x="1580" y="118" width="2" height="2" fill="#ff0000"/>
<rect x="1580" y="187" width="2" height="2" fill="#ff0000"/>
<rect x="1580" y="265" width="2" height="2" fill="#ff0000"/>
<rect x="1580" y="354" width="2" height="2" fill="#ff0000"/>
<rect x="1580" y="448" width="2" height="2" fill="#00ff00"/>
<rect x="1580" y="517" width="2" height="2" fill="#0000ff"/>
<rect x="1581" y="55" width="2" height="1" fill="#000"/>
<rect x="1581" y="88" width="2" height="1" fill="#000"/>
<rect x="1581" y="121" width="2" height="1" fill="#000"/>
<rect x="1581" y="154" width="2" height="1" fill="#000"/>
<rect x="1581" y="187" width="2" height="1" fill="#000"/>
<rect x="1581" y="220" width="2" height="1" fill="#000"/>
<rect x="1581" y="253" width="2" height="1" fill="#000"/>
<rect x="1581" y="286" width="2" height="1" fill="#000"/>
<rect x="1581" y="319" width="2" height="1" fill="#000"/>
<rect x="1581" y="352" width="2" height="1" fill="#000"/>
<rect x="1581" y="385" width="2" height="1" fill="#000"/>
<rect x="1581" y="418" width="2" height="1" fill="#000"/>
<rect x="1581" y="451" width="2" height="1" fill="#000"/>
<rect x="1581" y="484" width="2" height="1" fill="#000"/>
<rect x="1581" y="517" width="2" height="1" fill="#000"/>
<rect x="1581" y="550" width="2" height="1" fill="#000"/>
<rect x="1581" y="557" width="1" height="1" fill="#000"/>
<rect x="1581" y="650" width="1" height="1" fill="#000"/>
<rect x="1581" y="655" width="1" height="1" fill="#000"/>
<rect x="1581" y="702" width="2" height="1" fill="#000"/>
<rect x="1581" y="747" width="1" height="1" fill="#000"/>
<rect x="4" y="750" width="1" height="3" fill="#000"/>
<rect x="68" y="750" width="1" height="3" fill="#000"/>
<rect x="132" y="750" width="1" height="3" fill="#000"/>
<rect x="196" y="750" width="1" height="3" fill="#000"/>
<rect x="260" y="750" width="1" height="3" fill="#000"/>
<rect x="324" y="750" width="1" height="3" fill="#000"/>
<rect x="388" y="750" width="1" height="3" fill="#000"/>
<rect x="452" y="750" width="1" height="3" fill="#000"/>
<rect x="516" y="750" width="1" height="3" fill="#000"/>
<rect x="580" y="750" width="1" height="3" fill="#000"/>
<rect x="644" y="750" width="1" height="3" fill="#000"/>
<rect x="708" y="750" width="1" height="3" fill="#000"/>
<rect x="772" y="750" width="1" height="3" fill="#000"/>
<rect x="836" y="750" width="1" height="3" fill="#000"/>
<rect x="900" y="750" width="1" height="3" fill="#000"/>
<rect x="964" y="750" width="1" height="3" fill="#000"/>
<rect x="1028" y="750" width="1" height="3" fill="#000"/>
<rect x="1092" y="750" width="1" height="3" fill="#000"/>
<rect x="1156" y="750" width="1" height="3" fill="#000"/>
<rect x="1220" y="750" width="1" height="3" fill="#000"/>
<rect x="0" y="770" width="1625" height="1" fill="#dcdcdc"/>
<rect x="0" y="773" width="1625" height="15" fill="#f0f0f0"/>
<rect x="0" y="772" width="417" height="1" fill="#1a1a1a"/>
<rect x="521" y="772" width="1104" height="1" fill="#1a1a1a"/>
<rect x="417" y="772" width="1" height="16" fill="#1a1a1a"/>
<rect x="520" y="772" width="1" height="16" fill="#1a1a1a"/>
<rect x="418" y="771" width="102" height="17" fill="#fff"/>
<rect x="0" y="772" width="1" height="16" fill="#696969"/>
<rect x="1" y="773" width="1" height="15" fill="#fafafa"/>
<path d="M1599.5 777.5 L1599.5 784.5 L1595.5 781 Z" fill="#a0a0a0"/>
<path d="M1614.5 777 L1614.5 785 L1618.7 781 Z" fill="#000"/>
</svg>
<div class="t" id="title" style="left:19px;top:30px;letter-spacing:-0.02px">USDCNH,Daily</div>
<div class="t" id="title2" style="left:90.4px;top:30px;letter-spacing:-0.29px">6.51650 6.52225 6.51479 6.52122</div>
<div class="t" id="rsit" style="left:8px;top:560px">RSI(14) 38.9573</div>
<div class="t" id="macdt" style="left:8px;top:658px;letter-spacing:-0.25px">MACD(12,26,9) -0.019489 -0.021984</div>
<div class="ax" style="left:1586px;top:51px">7.19120</div>
<div class="ax" style="left:1586px;top:84px">7.14360</div>
<div class="ax" style="left:1586px;top:117px">7.09600</div>
<div class="ax" style="left:1586px;top:150px">7.04980</div>
<div class="ax" style="left:1586px;top:183px">7.00220</div>
<div class="ax" style="left:1586px;top:216px">6.95460</div>
<div class="ax" style="left:1586px;top:249px">6.90700</div>
<div class="ax" style="left:1586px;top:282px">6.86080</div>
<div class="ax" style="left:1586px;top:315px">6.81320</div>
<div class="ax" style="left:1586px;top:348px">6.76560</div>
<div class="ax" style="left:1586px;top:381px">6.71800</div>
<div class="ax" style="left:1586px;top:414px">6.67180</div>
<div class="ax" style="left:1586px;top:447px">6.62420</div>
<div class="ax" style="left:1586px;top:480px">6.57660</div>
<div class="ax" style="left:1586px;top:513px">6.52900</div>
<div class="ax" style="left:1586px;top:546px">6.48280</div>
<div class="ax" style="left:1584px;top:559px">100</div>
<div class="ax" style="left:1583px;top:581px">70</div>
<div class="ax" style="left:1583px;top:618px">30</div>
<div class="ax" style="left:1584px;top:640px">0</div>
<div class="ax" style="left:1584px;top:656px">0.042275</div>
<div class="ax" style="left:1585px;top:698px">0.00</div>
<div class="ax" style="left:1584px;top:738px">-0.04148</div>
<div class="tag" style="top:518px;background:#000"><span>6.52122</span></div>
<div class="tag" style="top:113px;background:#f00"><span>7.10011</span></div>
<div class="tag" style="top:182px;background:#f00"><span>7.00029</span></div>
<div class="tag" style="top:260px;background:#f00"><span>6.88897</span></div>
<div class="tag" style="top:349px;background:#f00"><span>6.76157</span></div>
<div class="tag" style="top:443px;background:#0f0"><span>6.62646</span></div>
<div class="tag" style="top:512px;background:#00f"><span>6.52865</span></div>
<div class="dt" style="left:3px">20 Dec 2019</div>
<div class="dt" style="left:67px">8 Jan 2020</div>
<div class="dt" style="left:131px">27 Jan 2020</div>
<div class="dt" style="left:195px">14 Feb 2020</div>
<div class="dt" style="left:259px">4 Mar 2020</div>
<div class="dt" style="left:323px">23 Mar 2020</div>
<div class="dt" style="left:387px">10 Apr 2020</div>
<div class="dt" style="left:451px">29 Apr 2020</div>
<div class="dt" style="left:515px">18 May 2020</div>
<div class="dt" style="left:579px">5 Jun 2020</div>
<div class="dt" style="left:643px">24 Jun 2020</div>
<div class="dt" style="left:707px">13 Jul 2020</div>
<div class="dt" style="left:771px">31 Jul 2020</div>
<div class="dt" style="left:835px">19 Aug 2020</div>
<div class="dt" style="left:899px">7 Sep 2020</div>
<div class="dt" style="left:963px">25 Sep 2020</div>
<div class="dt" style="left:1027px">14 Oct 2020</div>
<div class="dt" style="left:1091px">2 Nov 2020</div>
<div class="dt" style="left:1155px">20 Nov 2020</div>
<div class="dt" style="left:1219px">9 Dec 2020</div>
<div class="tab" id="tab0" style="left:16.8px;transform:scaleX(0.9495);">EURUSD,Daily</div>
<div class="tab" id="tab1" style="left:118.6px;transform:scaleX(0.9712);">USDCHF,Daily</div>
<div class="tab" id="tab2" style="left:219.5px;transform:scaleX(0.9850);">AUDUSD,Daily</div>
<div class="tab" id="tab3" style="left:323.6px;transform:scaleX(0.9661);">USDCAD,Daily</div>
<div class="tab" id="tab4" style="left:427.2px;transform:scaleX(0.9734);color:#000;">USDCNH,Daily</div>
<div class="tab" id="tab5" style="left:532.4px;transform:scaleX(0.9566);">EURUSD,Daily</div>
<div class="tab" id="tab6" style="left:636.2px;transform:scaleX(0.9533);">GBPUSD,H4</div>
<div class="tab" id="tab7" style="left:726.2px;transform:scaleX(0.9933);">XAUUSD,Weekly</div>
<div class="tab" id="tab8" style="left:843.2px;transform:scaleX(0.9979);">HK50,H1</div>
<div class="tab" id="tab9" style="left:915.7px;transform:scaleX(0.9861);">UK100,H1</div>
<div class="tab" id="tab10" style="left:995.7px;transform:scaleX(0.9861);">UK100,H1</div>
<div class="tab" id="tab11" style="left:1075.8px;transform:scaleX(0.9391);">GER30,H1</div>
<div class="tab" id="tab12" style="left:1154.5px;transform:scaleX(0.9371);">FRA40,H1</div>
<div class="tab" id="tab13" style="left:1230.5px;transform:scaleX(0.9955);">USOil,Daily</div>
<div class="tab" id="tab14" style="left:1314.2px;transform:scaleX(0.9413);">USDJPY,H1</div>
<div class="tab" id="tab15" style="left:1398.8px;transform:scaleX(0.9821);">DJ30,Daily</div>
<div class="tab" id="tab16" style="left:1478.0px;transform:scaleX(1.0038);">CHINA300,H1</div>
<div class="tab" style="left:1578.8px;width:12.5px;overflow:hidden">US</div>
<div class="sep" style="left:109px"></div>
<div class="sep" style="left:209px"></div>
<div class="sep" style="left:313px"></div>
<div class="sep" style="left:625px"></div>
<div class="sep" style="left:717px"></div>
<div class="sep" style="left:833px"></div>
<div class="sep" style="left:905px"></div>
<div class="sep" style="left:985px"></div>
<div class="sep" style="left:1065px"></div>
<div class="sep" style="left:1145px"></div>
<div class="sep" style="left:1221px"></div>
<div class="sep" style="left:1305px"></div>
<div class="sep" style="left:1389px"></div>
<div class="sep" style="left:1469px"></div>
<div class="sep" style="left:1569px"></div>
</div></body></html>
